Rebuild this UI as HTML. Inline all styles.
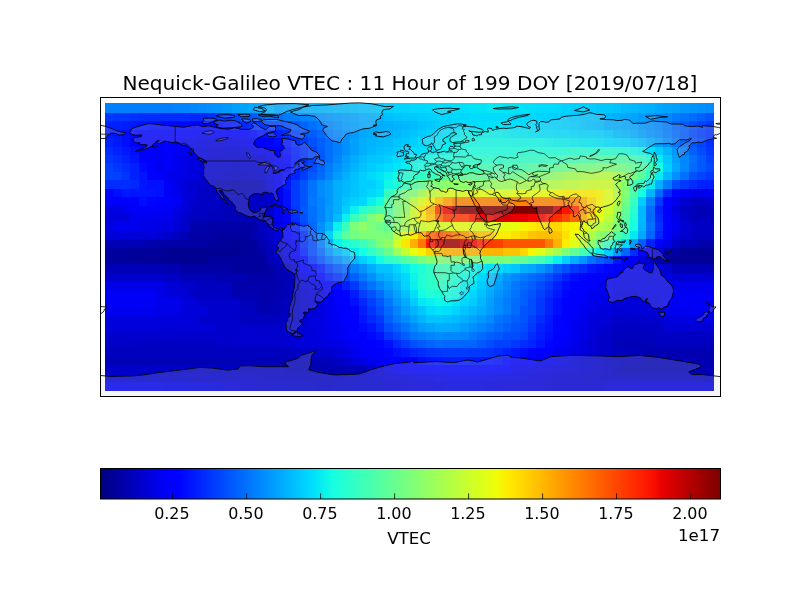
<!DOCTYPE html>
<html><head><meta charset="utf-8"><title>Nequick-Galileo VTEC</title>
<style>
html,body{margin:0;padding:0;background:#fff;}
body{width:800px;height:600px;overflow:hidden;}
svg{display:block;}
svg text{font-family:"DejaVu Sans","Liberation Sans",sans-serif;fill:#000;}
</style></head><body>
<svg width="800" height="600" viewBox="0 0 800 600">
<defs>
<linearGradient id="jet" x1="0" y1="0" x2="1" y2="0"><stop offset="0%" stop-color="#000080"/><stop offset="1.56%" stop-color="#000092"/><stop offset="3.12%" stop-color="#0000a4"/><stop offset="4.69%" stop-color="#0000b6"/><stop offset="6.25%" stop-color="#0000c8"/><stop offset="7.81%" stop-color="#0000da"/><stop offset="9.38%" stop-color="#0000ed"/><stop offset="10.94%" stop-color="#0000ff"/><stop offset="12.5%" stop-color="#0000ff"/><stop offset="14.06%" stop-color="#0010ff"/><stop offset="15.62%" stop-color="#0020ff"/><stop offset="17.19%" stop-color="#0030ff"/><stop offset="18.75%" stop-color="#0040ff"/><stop offset="20.31%" stop-color="#0050ff"/><stop offset="21.88%" stop-color="#0060ff"/><stop offset="23.44%" stop-color="#0070ff"/><stop offset="25%" stop-color="#0080ff"/><stop offset="26.56%" stop-color="#0090ff"/><stop offset="28.12%" stop-color="#00a0ff"/><stop offset="29.69%" stop-color="#00b0ff"/><stop offset="31.25%" stop-color="#00c0ff"/><stop offset="32.81%" stop-color="#00d0ff"/><stop offset="34.38%" stop-color="#00e0fb"/><stop offset="35.94%" stop-color="#09f0ee"/><stop offset="37.5%" stop-color="#16ffe1"/><stop offset="39.06%" stop-color="#23ffd4"/><stop offset="40.62%" stop-color="#30ffc7"/><stop offset="42.19%" stop-color="#3cffba"/><stop offset="43.75%" stop-color="#49ffad"/><stop offset="45.31%" stop-color="#56ffa0"/><stop offset="46.88%" stop-color="#63ff94"/><stop offset="48.44%" stop-color="#70ff87"/><stop offset="50%" stop-color="#7dff7a"/><stop offset="51.56%" stop-color="#8aff6d"/><stop offset="53.12%" stop-color="#97ff60"/><stop offset="54.69%" stop-color="#a4ff53"/><stop offset="56.25%" stop-color="#b1ff46"/><stop offset="57.81%" stop-color="#beff39"/><stop offset="59.38%" stop-color="#caff2c"/><stop offset="60.94%" stop-color="#d7ff1f"/><stop offset="62.5%" stop-color="#e4ff13"/><stop offset="64.06%" stop-color="#f1fc06"/><stop offset="65.62%" stop-color="#feed00"/><stop offset="67.19%" stop-color="#ffde00"/><stop offset="68.75%" stop-color="#ffd000"/><stop offset="70.31%" stop-color="#ffc100"/><stop offset="71.88%" stop-color="#ffb200"/><stop offset="73.44%" stop-color="#ffa300"/><stop offset="75%" stop-color="#ff9400"/><stop offset="76.56%" stop-color="#ff8600"/><stop offset="78.12%" stop-color="#ff7700"/><stop offset="79.69%" stop-color="#ff6800"/><stop offset="81.25%" stop-color="#ff5900"/><stop offset="82.81%" stop-color="#ff4a00"/><stop offset="84.38%" stop-color="#ff3b00"/><stop offset="85.94%" stop-color="#ff2d00"/><stop offset="87.5%" stop-color="#ff1e00"/><stop offset="89.06%" stop-color="#fa0f00"/><stop offset="90.62%" stop-color="#e80000"/><stop offset="92.19%" stop-color="#d60000"/><stop offset="93.75%" stop-color="#c40000"/><stop offset="95.31%" stop-color="#b20000"/><stop offset="96.88%" stop-color="#9f0000"/><stop offset="98.44%" stop-color="#8d0000"/><stop offset="100%" stop-color="#800000"/></linearGradient>
<clipPath id="axclip"><rect x="100.5" y="97.5" width="620" height="299"/></clipPath>
</defs>
<rect x="0" y="0" width="800" height="600" fill="#fff"/>
<g shape-rendering="crispEdges">
<rect x="105" y="103.1" width="67.98" height="10.2" fill="#0080ff"/>
<rect x="172.68" y="103.1" width="17.22" height="10.2" fill="#0084ff"/>
<rect x="189.6" y="103.1" width="8.76" height="10.2" fill="#0088ff"/>
<rect x="198.06" y="103.1" width="8.76" height="10.2" fill="#008cff"/>
<rect x="206.52" y="103.1" width="8.76" height="10.2" fill="#0090ff"/>
<rect x="214.98" y="103.1" width="8.76" height="10.2" fill="#0094ff"/>
<rect x="223.44" y="103.1" width="8.76" height="10.2" fill="#0098ff"/>
<rect x="231.9" y="103.1" width="8.76" height="10.2" fill="#00a0ff"/>
<rect x="240.36" y="103.1" width="8.76" height="10.2" fill="#00a4ff"/>
<rect x="248.82" y="103.1" width="8.76" height="10.2" fill="#00a8ff"/>
<rect x="257.28" y="103.1" width="8.76" height="10.2" fill="#00b0ff"/>
<rect x="265.74" y="103.1" width="8.76" height="10.2" fill="#00b4ff"/>
<rect x="274.2" y="103.1" width="8.76" height="10.2" fill="#00a8ff"/>
<rect x="282.66" y="103.1" width="8.76" height="10.2" fill="#00acff"/>
<rect x="291.12" y="103.1" width="17.22" height="10.2" fill="#00b0ff"/>
<rect x="308.04" y="103.1" width="17.22" height="10.2" fill="#00b4ff"/>
<rect x="324.96" y="103.1" width="8.76" height="10.2" fill="#00b8ff"/>
<rect x="333.42" y="103.1" width="17.22" height="10.2" fill="#00bcff"/>
<rect x="350.34" y="103.1" width="8.76" height="10.2" fill="#00c0ff"/>
<rect x="358.8" y="103.1" width="17.22" height="10.2" fill="#00c4ff"/>
<rect x="375.72" y="103.1" width="8.76" height="10.2" fill="#00c8ff"/>
<rect x="384.18" y="103.1" width="8.76" height="10.2" fill="#00d0ff"/>
<rect x="392.64" y="103.1" width="17.22" height="10.2" fill="#00d4ff"/>
<rect x="409.56" y="103.1" width="17.22" height="10.2" fill="#00d8ff"/>
<rect x="426.48" y="103.1" width="25.68" height="10.2" fill="#00dcfe"/>
<rect x="451.86" y="103.1" width="17.22" height="10.2" fill="#00e0fb"/>
<rect x="468.78" y="103.1" width="17.22" height="10.2" fill="#00e4f8"/>
<rect x="485.7" y="103.1" width="17.22" height="10.2" fill="#02e8f4"/>
<rect x="502.62" y="103.1" width="17.22" height="10.2" fill="#00e4f8"/>
<rect x="519.54" y="103.1" width="17.22" height="10.2" fill="#00e0fb"/>
<rect x="536.46" y="103.1" width="17.22" height="10.2" fill="#00dcfe"/>
<rect x="553.38" y="103.1" width="8.76" height="10.2" fill="#00d8ff"/>
<rect x="561.84" y="103.1" width="8.76" height="10.2" fill="#00d4ff"/>
<rect x="570.3" y="103.1" width="17.22" height="10.2" fill="#00d0ff"/>
<rect x="587.22" y="103.1" width="8.76" height="10.2" fill="#00ccff"/>
<rect x="595.68" y="103.1" width="17.22" height="10.2" fill="#00c8ff"/>
<rect x="612.6" y="103.1" width="8.76" height="10.2" fill="#00c4ff"/>
<rect x="621.06" y="103.1" width="8.76" height="10.2" fill="#00bcff"/>
<rect x="629.52" y="103.1" width="8.76" height="10.2" fill="#00b8ff"/>
<rect x="637.98" y="103.1" width="8.76" height="10.2" fill="#00b4ff"/>
<rect x="646.44" y="103.1" width="8.76" height="10.2" fill="#00b0ff"/>
<rect x="654.9" y="103.1" width="8.76" height="10.2" fill="#00a8ff"/>
<rect x="663.36" y="103.1" width="8.76" height="10.2" fill="#00a4ff"/>
<rect x="671.82" y="103.1" width="8.76" height="10.2" fill="#00a0ff"/>
<rect x="680.28" y="103.1" width="8.76" height="10.2" fill="#0098ff"/>
<rect x="688.74" y="103.1" width="8.76" height="10.2" fill="#0094ff"/>
<rect x="697.2" y="103.1" width="8.76" height="10.2" fill="#0090ff"/>
<rect x="705.66" y="103.1" width="8.46" height="10.2" fill="#008cff"/>
<rect x="105" y="113" width="8.76" height="8.71" fill="#0038ff"/>
<rect x="113.46" y="113" width="17.22" height="8.71" fill="#0034ff"/>
<rect x="130.38" y="113" width="8.76" height="8.71" fill="#0030ff"/>
<rect x="138.84" y="113" width="51.06" height="8.71" fill="#002cff"/>
<rect x="189.6" y="113" width="17.22" height="8.71" fill="#0028ff"/>
<rect x="206.52" y="113" width="8.76" height="8.71" fill="#002cff"/>
<rect x="214.98" y="113" width="8.76" height="8.71" fill="#0034ff"/>
<rect x="223.44" y="113" width="8.76" height="8.71" fill="#0038ff"/>
<rect x="231.9" y="113" width="8.76" height="8.71" fill="#0044ff"/>
<rect x="240.36" y="113" width="8.76" height="8.71" fill="#0050ff"/>
<rect x="248.82" y="113" width="8.76" height="8.71" fill="#0058ff"/>
<rect x="257.28" y="113" width="8.76" height="8.71" fill="#0064ff"/>
<rect x="265.74" y="113" width="17.22" height="8.71" fill="#0070ff"/>
<rect x="282.66" y="113" width="8.76" height="8.71" fill="#0078ff"/>
<rect x="291.12" y="113" width="8.76" height="8.71" fill="#007cff"/>
<rect x="299.58" y="113" width="8.76" height="8.71" fill="#0084ff"/>
<rect x="308.04" y="113" width="8.76" height="8.71" fill="#0088ff"/>
<rect x="316.5" y="113" width="8.76" height="8.71" fill="#0090ff"/>
<rect x="324.96" y="113" width="8.76" height="8.71" fill="#0094ff"/>
<rect x="333.42" y="113" width="8.76" height="8.71" fill="#009cff"/>
<rect x="341.88" y="113" width="8.76" height="8.71" fill="#00a0ff"/>
<rect x="350.34" y="113" width="8.76" height="8.71" fill="#00a4ff"/>
<rect x="358.8" y="113" width="8.76" height="8.71" fill="#00acff"/>
<rect x="367.26" y="113" width="8.76" height="8.71" fill="#00b0ff"/>
<rect x="375.72" y="113" width="8.76" height="8.71" fill="#00b4ff"/>
<rect x="384.18" y="113" width="8.76" height="8.71" fill="#00c0ff"/>
<rect x="392.64" y="113" width="8.76" height="8.71" fill="#00c4ff"/>
<rect x="401.1" y="113" width="17.22" height="8.71" fill="#00c8ff"/>
<rect x="418.02" y="113" width="8.76" height="8.71" fill="#00ccff"/>
<rect x="426.48" y="113" width="8.76" height="8.71" fill="#00d0ff"/>
<rect x="434.94" y="113" width="17.22" height="8.71" fill="#00d4ff"/>
<rect x="451.86" y="113" width="17.22" height="8.71" fill="#00d8ff"/>
<rect x="468.78" y="113" width="42.6" height="8.71" fill="#00dcfe"/>
<rect x="511.08" y="113" width="25.68" height="8.71" fill="#00d8ff"/>
<rect x="536.46" y="113" width="17.22" height="8.71" fill="#00d4ff"/>
<rect x="553.38" y="113" width="8.76" height="8.71" fill="#00d0ff"/>
<rect x="561.84" y="113" width="8.76" height="8.71" fill="#00ccff"/>
<rect x="570.3" y="113" width="8.76" height="8.71" fill="#00c8ff"/>
<rect x="578.76" y="113" width="17.22" height="8.71" fill="#00c4ff"/>
<rect x="595.68" y="113" width="8.76" height="8.71" fill="#00c0ff"/>
<rect x="604.14" y="113" width="8.76" height="8.71" fill="#00b4ff"/>
<rect x="612.6" y="113" width="8.76" height="8.71" fill="#00b0ff"/>
<rect x="621.06" y="113" width="8.76" height="8.71" fill="#00a8ff"/>
<rect x="629.52" y="113" width="8.76" height="8.71" fill="#00a4ff"/>
<rect x="637.98" y="113" width="8.76" height="8.71" fill="#009cff"/>
<rect x="646.44" y="113" width="8.76" height="8.71" fill="#0098ff"/>
<rect x="654.9" y="113" width="8.76" height="8.71" fill="#0090ff"/>
<rect x="663.36" y="113" width="8.76" height="8.71" fill="#0088ff"/>
<rect x="671.82" y="113" width="8.76" height="8.71" fill="#007cff"/>
<rect x="680.28" y="113" width="8.76" height="8.71" fill="#0074ff"/>
<rect x="688.74" y="113" width="8.76" height="8.71" fill="#006cff"/>
<rect x="697.2" y="113" width="8.76" height="8.71" fill="#0060ff"/>
<rect x="705.66" y="113" width="8.46" height="8.71" fill="#0054ff"/>
<rect x="105" y="121.41" width="17.22" height="8.71" fill="#0020ff"/>
<rect x="121.92" y="121.41" width="8.76" height="8.71" fill="#001cff"/>
<rect x="130.38" y="121.41" width="8.76" height="8.71" fill="#0018ff"/>
<rect x="138.84" y="121.41" width="8.76" height="8.71" fill="#0014ff"/>
<rect x="147.3" y="121.41" width="8.76" height="8.71" fill="#0010ff"/>
<rect x="155.76" y="121.41" width="8.76" height="8.71" fill="#000cff"/>
<rect x="164.22" y="121.41" width="25.68" height="8.71" fill="#0008ff"/>
<rect x="189.6" y="121.41" width="17.22" height="8.71" fill="#0004ff"/>
<rect x="206.52" y="121.41" width="8.76" height="8.71" fill="#0008ff"/>
<rect x="214.98" y="121.41" width="8.76" height="8.71" fill="#000cff"/>
<rect x="223.44" y="121.41" width="8.76" height="8.71" fill="#0014ff"/>
<rect x="231.9" y="121.41" width="8.76" height="8.71" fill="#001cff"/>
<rect x="240.36" y="121.41" width="8.76" height="8.71" fill="#0028ff"/>
<rect x="248.82" y="121.41" width="8.76" height="8.71" fill="#0034ff"/>
<rect x="257.28" y="121.41" width="8.76" height="8.71" fill="#0038ff"/>
<rect x="265.74" y="121.41" width="17.22" height="8.71" fill="#0040ff"/>
<rect x="282.66" y="121.41" width="8.76" height="8.71" fill="#004cff"/>
<rect x="291.12" y="121.41" width="8.76" height="8.71" fill="#0058ff"/>
<rect x="299.58" y="121.41" width="8.76" height="8.71" fill="#0064ff"/>
<rect x="308.04" y="121.41" width="8.76" height="8.71" fill="#0070ff"/>
<rect x="316.5" y="121.41" width="8.76" height="8.71" fill="#007cff"/>
<rect x="324.96" y="121.41" width="8.76" height="8.71" fill="#0088ff"/>
<rect x="333.42" y="121.41" width="8.76" height="8.71" fill="#0090ff"/>
<rect x="341.88" y="121.41" width="8.76" height="8.71" fill="#009cff"/>
<rect x="350.34" y="121.41" width="8.76" height="8.71" fill="#00a0ff"/>
<rect x="358.8" y="121.41" width="8.76" height="8.71" fill="#00a8ff"/>
<rect x="367.26" y="121.41" width="17.22" height="8.71" fill="#00acff"/>
<rect x="384.18" y="121.41" width="8.76" height="8.71" fill="#00b0ff"/>
<rect x="392.64" y="121.41" width="8.76" height="8.71" fill="#00b4ff"/>
<rect x="401.1" y="121.41" width="8.76" height="8.71" fill="#00b8ff"/>
<rect x="409.56" y="121.41" width="8.76" height="8.71" fill="#00bcff"/>
<rect x="418.02" y="121.41" width="8.76" height="8.71" fill="#00c4ff"/>
<rect x="426.48" y="121.41" width="8.76" height="8.71" fill="#00c8ff"/>
<rect x="434.94" y="121.41" width="8.76" height="8.71" fill="#00d0ff"/>
<rect x="443.4" y="121.41" width="8.76" height="8.71" fill="#00d4ff"/>
<rect x="451.86" y="121.41" width="8.76" height="8.71" fill="#00d8ff"/>
<rect x="460.32" y="121.41" width="17.22" height="8.71" fill="#00dcfe"/>
<rect x="477.24" y="121.41" width="8.76" height="8.71" fill="#00e0fb"/>
<rect x="485.7" y="121.41" width="17.22" height="8.71" fill="#00e4f8"/>
<rect x="502.62" y="121.41" width="17.22" height="8.71" fill="#00e0fb"/>
<rect x="519.54" y="121.41" width="17.22" height="8.71" fill="#00dcfe"/>
<rect x="536.46" y="121.41" width="8.76" height="8.71" fill="#00d8ff"/>
<rect x="544.92" y="121.41" width="17.22" height="8.71" fill="#00d4ff"/>
<rect x="561.84" y="121.41" width="8.76" height="8.71" fill="#00d0ff"/>
<rect x="570.3" y="121.41" width="8.76" height="8.71" fill="#00ccff"/>
<rect x="578.76" y="121.41" width="8.76" height="8.71" fill="#00c4ff"/>
<rect x="587.22" y="121.41" width="8.76" height="8.71" fill="#00c0ff"/>
<rect x="595.68" y="121.41" width="8.76" height="8.71" fill="#00bcff"/>
<rect x="604.14" y="121.41" width="8.76" height="8.71" fill="#00b0ff"/>
<rect x="612.6" y="121.41" width="8.76" height="8.71" fill="#00acff"/>
<rect x="621.06" y="121.41" width="8.76" height="8.71" fill="#00a8ff"/>
<rect x="629.52" y="121.41" width="8.76" height="8.71" fill="#00a4ff"/>
<rect x="637.98" y="121.41" width="8.76" height="8.71" fill="#0098ff"/>
<rect x="646.44" y="121.41" width="8.76" height="8.71" fill="#0090ff"/>
<rect x="654.9" y="121.41" width="8.76" height="8.71" fill="#0088ff"/>
<rect x="663.36" y="121.41" width="8.76" height="8.71" fill="#0078ff"/>
<rect x="671.82" y="121.41" width="8.76" height="8.71" fill="#0068ff"/>
<rect x="680.28" y="121.41" width="8.76" height="8.71" fill="#0060ff"/>
<rect x="688.74" y="121.41" width="8.76" height="8.71" fill="#0050ff"/>
<rect x="697.2" y="121.41" width="8.76" height="8.71" fill="#0044ff"/>
<rect x="705.66" y="121.41" width="8.46" height="8.71" fill="#0038ff"/>
<rect x="105" y="129.82" width="8.76" height="8.71" fill="#0018ff"/>
<rect x="113.46" y="129.82" width="8.76" height="8.71" fill="#0014ff"/>
<rect x="121.92" y="129.82" width="8.76" height="8.71" fill="#000cff"/>
<rect x="130.38" y="129.82" width="8.76" height="8.71" fill="#0008ff"/>
<rect x="138.84" y="129.82" width="59.52" height="8.71" fill="#0000ff"/>
<rect x="198.06" y="129.82" width="8.76" height="8.71" fill="#0000f6"/>
<rect x="206.52" y="129.82" width="8.76" height="8.71" fill="#0000fa"/>
<rect x="214.98" y="129.82" width="34.14" height="8.71" fill="#0000ff"/>
<rect x="248.82" y="129.82" width="8.76" height="8.71" fill="#0008ff"/>
<rect x="257.28" y="129.82" width="8.76" height="8.71" fill="#0014ff"/>
<rect x="265.74" y="129.82" width="8.76" height="8.71" fill="#001cff"/>
<rect x="274.2" y="129.82" width="8.76" height="8.71" fill="#0020ff"/>
<rect x="282.66" y="129.82" width="8.76" height="8.71" fill="#0030ff"/>
<rect x="291.12" y="129.82" width="8.76" height="8.71" fill="#0044ff"/>
<rect x="299.58" y="129.82" width="8.76" height="8.71" fill="#0050ff"/>
<rect x="308.04" y="129.82" width="8.76" height="8.71" fill="#005cff"/>
<rect x="316.5" y="129.82" width="8.76" height="8.71" fill="#006cff"/>
<rect x="324.96" y="129.82" width="8.76" height="8.71" fill="#007cff"/>
<rect x="333.42" y="129.82" width="8.76" height="8.71" fill="#0088ff"/>
<rect x="341.88" y="129.82" width="8.76" height="8.71" fill="#0090ff"/>
<rect x="350.34" y="129.82" width="8.76" height="8.71" fill="#009cff"/>
<rect x="358.8" y="129.82" width="8.76" height="8.71" fill="#00a8ff"/>
<rect x="367.26" y="129.82" width="17.22" height="8.71" fill="#00acff"/>
<rect x="384.18" y="129.82" width="8.76" height="8.71" fill="#00b0ff"/>
<rect x="392.64" y="129.82" width="8.76" height="8.71" fill="#00b8ff"/>
<rect x="401.1" y="129.82" width="8.76" height="8.71" fill="#00c0ff"/>
<rect x="409.56" y="129.82" width="8.76" height="8.71" fill="#00c4ff"/>
<rect x="418.02" y="129.82" width="8.76" height="8.71" fill="#00ccff"/>
<rect x="426.48" y="129.82" width="8.76" height="8.71" fill="#00d4ff"/>
<rect x="434.94" y="129.82" width="8.76" height="8.71" fill="#00dcfe"/>
<rect x="443.4" y="129.82" width="8.76" height="8.71" fill="#00e0fb"/>
<rect x="451.86" y="129.82" width="8.76" height="8.71" fill="#02e8f4"/>
<rect x="460.32" y="129.82" width="42.6" height="8.71" fill="#09f0ee"/>
<rect x="502.62" y="129.82" width="8.76" height="8.71" fill="#06ecf1"/>
<rect x="511.08" y="129.82" width="17.22" height="8.71" fill="#02e8f4"/>
<rect x="528" y="129.82" width="8.76" height="8.71" fill="#00e4f8"/>
<rect x="536.46" y="129.82" width="17.22" height="8.71" fill="#00e0fb"/>
<rect x="553.38" y="129.82" width="17.22" height="8.71" fill="#00dcfe"/>
<rect x="570.3" y="129.82" width="8.76" height="8.71" fill="#00d8ff"/>
<rect x="578.76" y="129.82" width="17.22" height="8.71" fill="#00d4ff"/>
<rect x="595.68" y="129.82" width="8.76" height="8.71" fill="#00d0ff"/>
<rect x="604.14" y="129.82" width="8.76" height="8.71" fill="#00c8ff"/>
<rect x="612.6" y="129.82" width="8.76" height="8.71" fill="#00bcff"/>
<rect x="621.06" y="129.82" width="8.76" height="8.71" fill="#00b4ff"/>
<rect x="629.52" y="129.82" width="8.76" height="8.71" fill="#00acff"/>
<rect x="637.98" y="129.82" width="8.76" height="8.71" fill="#00a0ff"/>
<rect x="646.44" y="129.82" width="8.76" height="8.71" fill="#0094ff"/>
<rect x="654.9" y="129.82" width="8.76" height="8.71" fill="#008cff"/>
<rect x="663.36" y="129.82" width="8.76" height="8.71" fill="#007cff"/>
<rect x="671.82" y="129.82" width="8.76" height="8.71" fill="#006cff"/>
<rect x="680.28" y="129.82" width="8.76" height="8.71" fill="#005cff"/>
<rect x="688.74" y="129.82" width="8.76" height="8.71" fill="#0048ff"/>
<rect x="697.2" y="129.82" width="8.76" height="8.71" fill="#003cff"/>
<rect x="705.66" y="129.82" width="8.46" height="8.71" fill="#0030ff"/>
<rect x="105" y="138.23" width="8.76" height="8.71" fill="#0020ff"/>
<rect x="113.46" y="138.23" width="8.76" height="8.71" fill="#0018ff"/>
<rect x="121.92" y="138.23" width="8.76" height="8.71" fill="#000cff"/>
<rect x="130.38" y="138.23" width="42.6" height="8.71" fill="#0000ff"/>
<rect x="172.68" y="138.23" width="8.76" height="8.71" fill="#0000fa"/>
<rect x="181.14" y="138.23" width="8.76" height="8.71" fill="#0000f6"/>
<rect x="189.6" y="138.23" width="8.76" height="8.71" fill="#0000ed"/>
<rect x="198.06" y="138.23" width="8.76" height="8.71" fill="#0000e8"/>
<rect x="206.52" y="138.23" width="17.22" height="8.71" fill="#0000e3"/>
<rect x="223.44" y="138.23" width="17.22" height="8.71" fill="#0000e8"/>
<rect x="240.36" y="138.23" width="8.76" height="8.71" fill="#0000f1"/>
<rect x="248.82" y="138.23" width="8.76" height="8.71" fill="#0000f6"/>
<rect x="257.28" y="138.23" width="8.76" height="8.71" fill="#0000ff"/>
<rect x="265.74" y="138.23" width="8.76" height="8.71" fill="#0004ff"/>
<rect x="274.2" y="138.23" width="8.76" height="8.71" fill="#0008ff"/>
<rect x="282.66" y="138.23" width="8.76" height="8.71" fill="#0018ff"/>
<rect x="291.12" y="138.23" width="8.76" height="8.71" fill="#002cff"/>
<rect x="299.58" y="138.23" width="8.76" height="8.71" fill="#003cff"/>
<rect x="308.04" y="138.23" width="8.76" height="8.71" fill="#0050ff"/>
<rect x="316.5" y="138.23" width="8.76" height="8.71" fill="#0060ff"/>
<rect x="324.96" y="138.23" width="8.76" height="8.71" fill="#0070ff"/>
<rect x="333.42" y="138.23" width="8.76" height="8.71" fill="#0080ff"/>
<rect x="341.88" y="138.23" width="8.76" height="8.71" fill="#0090ff"/>
<rect x="350.34" y="138.23" width="8.76" height="8.71" fill="#00a0ff"/>
<rect x="358.8" y="138.23" width="8.76" height="8.71" fill="#00b0ff"/>
<rect x="367.26" y="138.23" width="8.76" height="8.71" fill="#00b4ff"/>
<rect x="375.72" y="138.23" width="8.76" height="8.71" fill="#00b8ff"/>
<rect x="384.18" y="138.23" width="8.76" height="8.71" fill="#00bcff"/>
<rect x="392.64" y="138.23" width="8.76" height="8.71" fill="#00c4ff"/>
<rect x="401.1" y="138.23" width="8.76" height="8.71" fill="#00c8ff"/>
<rect x="409.56" y="138.23" width="8.76" height="8.71" fill="#00d0ff"/>
<rect x="418.02" y="138.23" width="8.76" height="8.71" fill="#00d8ff"/>
<rect x="426.48" y="138.23" width="8.76" height="8.71" fill="#00dcfe"/>
<rect x="434.94" y="138.23" width="8.76" height="8.71" fill="#00e4f8"/>
<rect x="443.4" y="138.23" width="8.76" height="8.71" fill="#06ecf1"/>
<rect x="451.86" y="138.23" width="8.76" height="8.71" fill="#0cf4eb"/>
<rect x="460.32" y="138.23" width="84.9" height="8.71" fill="#0ff8e7"/>
<rect x="544.92" y="138.23" width="8.76" height="8.71" fill="#0cf4eb"/>
<rect x="553.38" y="138.23" width="17.22" height="8.71" fill="#09f0ee"/>
<rect x="570.3" y="138.23" width="8.76" height="8.71" fill="#06ecf1"/>
<rect x="578.76" y="138.23" width="17.22" height="8.71" fill="#02e8f4"/>
<rect x="595.68" y="138.23" width="8.76" height="8.71" fill="#00e4f8"/>
<rect x="604.14" y="138.23" width="8.76" height="8.71" fill="#00dcfe"/>
<rect x="612.6" y="138.23" width="8.76" height="8.71" fill="#00d8ff"/>
<rect x="621.06" y="138.23" width="8.76" height="8.71" fill="#00d4ff"/>
<rect x="629.52" y="138.23" width="8.76" height="8.71" fill="#00c8ff"/>
<rect x="637.98" y="138.23" width="8.76" height="8.71" fill="#00c0ff"/>
<rect x="646.44" y="138.23" width="8.76" height="8.71" fill="#00b0ff"/>
<rect x="654.9" y="138.23" width="8.76" height="8.71" fill="#00a0ff"/>
<rect x="663.36" y="138.23" width="8.76" height="8.71" fill="#008cff"/>
<rect x="671.82" y="138.23" width="8.76" height="8.71" fill="#0078ff"/>
<rect x="680.28" y="138.23" width="8.76" height="8.71" fill="#0068ff"/>
<rect x="688.74" y="138.23" width="8.76" height="8.71" fill="#0054ff"/>
<rect x="697.2" y="138.23" width="8.76" height="8.71" fill="#0044ff"/>
<rect x="705.66" y="138.23" width="8.46" height="8.71" fill="#0030ff"/>
<rect x="105" y="146.64" width="8.76" height="8.71" fill="#002cff"/>
<rect x="113.46" y="146.64" width="8.76" height="8.71" fill="#0020ff"/>
<rect x="121.92" y="146.64" width="8.76" height="8.71" fill="#0018ff"/>
<rect x="130.38" y="146.64" width="8.76" height="8.71" fill="#000cff"/>
<rect x="138.84" y="146.64" width="17.22" height="8.71" fill="#0000ff"/>
<rect x="155.76" y="146.64" width="8.76" height="8.71" fill="#0000f6"/>
<rect x="164.22" y="146.64" width="8.76" height="8.71" fill="#0000ff"/>
<rect x="172.68" y="146.64" width="8.76" height="8.71" fill="#0000f6"/>
<rect x="181.14" y="146.64" width="8.76" height="8.71" fill="#0000f1"/>
<rect x="189.6" y="146.64" width="8.76" height="8.71" fill="#0000e8"/>
<rect x="198.06" y="146.64" width="8.76" height="8.71" fill="#0000df"/>
<rect x="206.52" y="146.64" width="17.22" height="8.71" fill="#0000da"/>
<rect x="223.44" y="146.64" width="17.22" height="8.71" fill="#0000d6"/>
<rect x="240.36" y="146.64" width="8.76" height="8.71" fill="#0000da"/>
<rect x="248.82" y="146.64" width="8.76" height="8.71" fill="#0000e3"/>
<rect x="257.28" y="146.64" width="8.76" height="8.71" fill="#0000ed"/>
<rect x="265.74" y="146.64" width="8.76" height="8.71" fill="#0000f6"/>
<rect x="274.2" y="146.64" width="8.76" height="8.71" fill="#0000ff"/>
<rect x="282.66" y="146.64" width="8.76" height="8.71" fill="#000cff"/>
<rect x="291.12" y="146.64" width="8.76" height="8.71" fill="#0020ff"/>
<rect x="299.58" y="146.64" width="8.76" height="8.71" fill="#0030ff"/>
<rect x="308.04" y="146.64" width="8.76" height="8.71" fill="#0044ff"/>
<rect x="316.5" y="146.64" width="8.76" height="8.71" fill="#005cff"/>
<rect x="324.96" y="146.64" width="8.76" height="8.71" fill="#0070ff"/>
<rect x="333.42" y="146.64" width="8.76" height="8.71" fill="#0080ff"/>
<rect x="341.88" y="146.64" width="8.76" height="8.71" fill="#0090ff"/>
<rect x="350.34" y="146.64" width="8.76" height="8.71" fill="#00a0ff"/>
<rect x="358.8" y="146.64" width="8.76" height="8.71" fill="#00b0ff"/>
<rect x="367.26" y="146.64" width="8.76" height="8.71" fill="#00b8ff"/>
<rect x="375.72" y="146.64" width="8.76" height="8.71" fill="#00c0ff"/>
<rect x="384.18" y="146.64" width="8.76" height="8.71" fill="#00c4ff"/>
<rect x="392.64" y="146.64" width="8.76" height="8.71" fill="#00ccff"/>
<rect x="401.1" y="146.64" width="8.76" height="8.71" fill="#00d4ff"/>
<rect x="409.56" y="146.64" width="8.76" height="8.71" fill="#00dcfe"/>
<rect x="418.02" y="146.64" width="8.76" height="8.71" fill="#00e0fb"/>
<rect x="426.48" y="146.64" width="8.76" height="8.71" fill="#02e8f4"/>
<rect x="434.94" y="146.64" width="8.76" height="8.71" fill="#09f0ee"/>
<rect x="443.4" y="146.64" width="8.76" height="8.71" fill="#0cf4eb"/>
<rect x="451.86" y="146.64" width="8.76" height="8.71" fill="#13fce4"/>
<rect x="460.32" y="146.64" width="51.06" height="8.71" fill="#19ffde"/>
<rect x="511.08" y="146.64" width="8.76" height="8.71" fill="#1cffdb"/>
<rect x="519.54" y="146.64" width="51.06" height="8.71" fill="#1fffd7"/>
<rect x="570.3" y="146.64" width="8.76" height="8.71" fill="#26ffd1"/>
<rect x="578.76" y="146.64" width="34.14" height="8.71" fill="#29ffce"/>
<rect x="612.6" y="146.64" width="8.76" height="8.71" fill="#23ffd4"/>
<rect x="621.06" y="146.64" width="8.76" height="8.71" fill="#1cffdb"/>
<rect x="629.52" y="146.64" width="8.76" height="8.71" fill="#13fce4"/>
<rect x="637.98" y="146.64" width="8.76" height="8.71" fill="#0cf4eb"/>
<rect x="646.44" y="146.64" width="8.76" height="8.71" fill="#00e0fb"/>
<rect x="654.9" y="146.64" width="8.76" height="8.71" fill="#00ccff"/>
<rect x="663.36" y="146.64" width="8.76" height="8.71" fill="#00b4ff"/>
<rect x="671.82" y="146.64" width="8.76" height="8.71" fill="#0098ff"/>
<rect x="680.28" y="146.64" width="8.76" height="8.71" fill="#007cff"/>
<rect x="688.74" y="146.64" width="8.76" height="8.71" fill="#0060ff"/>
<rect x="697.2" y="146.64" width="8.76" height="8.71" fill="#004cff"/>
<rect x="705.66" y="146.64" width="8.46" height="8.71" fill="#0038ff"/>
<rect x="105" y="155.05" width="8.76" height="8.71" fill="#0034ff"/>
<rect x="113.46" y="155.05" width="8.76" height="8.71" fill="#002cff"/>
<rect x="121.92" y="155.05" width="8.76" height="8.71" fill="#0020ff"/>
<rect x="130.38" y="155.05" width="8.76" height="8.71" fill="#0014ff"/>
<rect x="138.84" y="155.05" width="17.22" height="8.71" fill="#0000ff"/>
<rect x="155.76" y="155.05" width="8.76" height="8.71" fill="#0000f6"/>
<rect x="164.22" y="155.05" width="8.76" height="8.71" fill="#0000fa"/>
<rect x="172.68" y="155.05" width="8.76" height="8.71" fill="#0000f1"/>
<rect x="181.14" y="155.05" width="8.76" height="8.71" fill="#0000e8"/>
<rect x="189.6" y="155.05" width="8.76" height="8.71" fill="#0000df"/>
<rect x="198.06" y="155.05" width="8.76" height="8.71" fill="#0000da"/>
<rect x="206.52" y="155.05" width="8.76" height="8.71" fill="#0000d6"/>
<rect x="214.98" y="155.05" width="17.22" height="8.71" fill="#0000d1"/>
<rect x="231.9" y="155.05" width="8.76" height="8.71" fill="#0000cd"/>
<rect x="240.36" y="155.05" width="17.22" height="8.71" fill="#0000d1"/>
<rect x="257.28" y="155.05" width="8.76" height="8.71" fill="#0000d6"/>
<rect x="265.74" y="155.05" width="8.76" height="8.71" fill="#0000e8"/>
<rect x="274.2" y="155.05" width="8.76" height="8.71" fill="#0000fa"/>
<rect x="282.66" y="155.05" width="8.76" height="8.71" fill="#0004ff"/>
<rect x="291.12" y="155.05" width="8.76" height="8.71" fill="#001cff"/>
<rect x="299.58" y="155.05" width="8.76" height="8.71" fill="#0030ff"/>
<rect x="308.04" y="155.05" width="8.76" height="8.71" fill="#0044ff"/>
<rect x="316.5" y="155.05" width="8.76" height="8.71" fill="#0058ff"/>
<rect x="324.96" y="155.05" width="8.76" height="8.71" fill="#0070ff"/>
<rect x="333.42" y="155.05" width="8.76" height="8.71" fill="#0084ff"/>
<rect x="341.88" y="155.05" width="8.76" height="8.71" fill="#009cff"/>
<rect x="350.34" y="155.05" width="8.76" height="8.71" fill="#00acff"/>
<rect x="358.8" y="155.05" width="8.76" height="8.71" fill="#00bcff"/>
<rect x="367.26" y="155.05" width="8.76" height="8.71" fill="#00c4ff"/>
<rect x="375.72" y="155.05" width="8.76" height="8.71" fill="#00c8ff"/>
<rect x="384.18" y="155.05" width="8.76" height="8.71" fill="#00d0ff"/>
<rect x="392.64" y="155.05" width="8.76" height="8.71" fill="#00dcfe"/>
<rect x="401.1" y="155.05" width="8.76" height="8.71" fill="#00e4f8"/>
<rect x="409.56" y="155.05" width="8.76" height="8.71" fill="#09f0ee"/>
<rect x="418.02" y="155.05" width="8.76" height="8.71" fill="#0cf4eb"/>
<rect x="426.48" y="155.05" width="8.76" height="8.71" fill="#13fce4"/>
<rect x="434.94" y="155.05" width="8.76" height="8.71" fill="#19ffde"/>
<rect x="443.4" y="155.05" width="8.76" height="8.71" fill="#1cffdb"/>
<rect x="451.86" y="155.05" width="8.76" height="8.71" fill="#23ffd4"/>
<rect x="460.32" y="155.05" width="42.6" height="8.71" fill="#29ffce"/>
<rect x="502.62" y="155.05" width="17.22" height="8.71" fill="#2cffca"/>
<rect x="519.54" y="155.05" width="17.22" height="8.71" fill="#30ffc7"/>
<rect x="536.46" y="155.05" width="8.76" height="8.71" fill="#33ffc4"/>
<rect x="544.92" y="155.05" width="8.76" height="8.71" fill="#36ffc1"/>
<rect x="553.38" y="155.05" width="8.76" height="8.71" fill="#39ffbe"/>
<rect x="561.84" y="155.05" width="8.76" height="8.71" fill="#40ffb7"/>
<rect x="570.3" y="155.05" width="8.76" height="8.71" fill="#43ffb4"/>
<rect x="578.76" y="155.05" width="8.76" height="8.71" fill="#49ffad"/>
<rect x="587.22" y="155.05" width="8.76" height="8.71" fill="#4dffaa"/>
<rect x="595.68" y="155.05" width="17.22" height="8.71" fill="#53ffa4"/>
<rect x="612.6" y="155.05" width="17.22" height="8.71" fill="#50ffa7"/>
<rect x="629.52" y="155.05" width="8.76" height="8.71" fill="#43ffb4"/>
<rect x="637.98" y="155.05" width="8.76" height="8.71" fill="#36ffc1"/>
<rect x="646.44" y="155.05" width="8.76" height="8.71" fill="#23ffd4"/>
<rect x="654.9" y="155.05" width="8.76" height="8.71" fill="#06ecf1"/>
<rect x="663.36" y="155.05" width="8.76" height="8.71" fill="#00c8ff"/>
<rect x="671.82" y="155.05" width="8.76" height="8.71" fill="#00a0ff"/>
<rect x="680.28" y="155.05" width="8.76" height="8.71" fill="#0088ff"/>
<rect x="688.74" y="155.05" width="8.76" height="8.71" fill="#0070ff"/>
<rect x="697.2" y="155.05" width="8.76" height="8.71" fill="#0058ff"/>
<rect x="705.66" y="155.05" width="8.46" height="8.71" fill="#0040ff"/>
<rect x="105" y="163.46" width="8.76" height="8.71" fill="#0040ff"/>
<rect x="113.46" y="163.46" width="8.76" height="8.71" fill="#0034ff"/>
<rect x="121.92" y="163.46" width="8.76" height="8.71" fill="#002cff"/>
<rect x="130.38" y="163.46" width="8.76" height="8.71" fill="#0020ff"/>
<rect x="138.84" y="163.46" width="8.76" height="8.71" fill="#0008ff"/>
<rect x="147.3" y="163.46" width="8.76" height="8.71" fill="#0000ff"/>
<rect x="155.76" y="163.46" width="8.76" height="8.71" fill="#0000f1"/>
<rect x="164.22" y="163.46" width="8.76" height="8.71" fill="#0000fa"/>
<rect x="172.68" y="163.46" width="8.76" height="8.71" fill="#0000f1"/>
<rect x="181.14" y="163.46" width="8.76" height="8.71" fill="#0000e3"/>
<rect x="189.6" y="163.46" width="8.76" height="8.71" fill="#0000df"/>
<rect x="198.06" y="163.46" width="8.76" height="8.71" fill="#0000da"/>
<rect x="206.52" y="163.46" width="8.76" height="8.71" fill="#0000d1"/>
<rect x="214.98" y="163.46" width="17.22" height="8.71" fill="#0000cd"/>
<rect x="231.9" y="163.46" width="8.76" height="8.71" fill="#0000c8"/>
<rect x="240.36" y="163.46" width="17.22" height="8.71" fill="#0000cd"/>
<rect x="257.28" y="163.46" width="8.76" height="8.71" fill="#0000d1"/>
<rect x="265.74" y="163.46" width="8.76" height="8.71" fill="#0000e3"/>
<rect x="274.2" y="163.46" width="8.76" height="8.71" fill="#0000f6"/>
<rect x="282.66" y="163.46" width="8.76" height="8.71" fill="#0000ff"/>
<rect x="291.12" y="163.46" width="8.76" height="8.71" fill="#001cff"/>
<rect x="299.58" y="163.46" width="8.76" height="8.71" fill="#0034ff"/>
<rect x="308.04" y="163.46" width="8.76" height="8.71" fill="#004cff"/>
<rect x="316.5" y="163.46" width="8.76" height="8.71" fill="#0064ff"/>
<rect x="324.96" y="163.46" width="8.76" height="8.71" fill="#007cff"/>
<rect x="333.42" y="163.46" width="8.76" height="8.71" fill="#0090ff"/>
<rect x="341.88" y="163.46" width="8.76" height="8.71" fill="#00a4ff"/>
<rect x="350.34" y="163.46" width="8.76" height="8.71" fill="#00b4ff"/>
<rect x="358.8" y="163.46" width="8.76" height="8.71" fill="#00c4ff"/>
<rect x="367.26" y="163.46" width="8.76" height="8.71" fill="#00ccff"/>
<rect x="375.72" y="163.46" width="8.76" height="8.71" fill="#00d4ff"/>
<rect x="384.18" y="163.46" width="8.76" height="8.71" fill="#00dcfe"/>
<rect x="392.64" y="163.46" width="8.76" height="8.71" fill="#00e4f8"/>
<rect x="401.1" y="163.46" width="8.76" height="8.71" fill="#09f0ee"/>
<rect x="409.56" y="163.46" width="8.76" height="8.71" fill="#0ff8e7"/>
<rect x="418.02" y="163.46" width="8.76" height="8.71" fill="#19ffde"/>
<rect x="426.48" y="163.46" width="8.76" height="8.71" fill="#1fffd7"/>
<rect x="434.94" y="163.46" width="8.76" height="8.71" fill="#29ffce"/>
<rect x="443.4" y="163.46" width="8.76" height="8.71" fill="#30ffc7"/>
<rect x="451.86" y="163.46" width="8.76" height="8.71" fill="#33ffc4"/>
<rect x="460.32" y="163.46" width="8.76" height="8.71" fill="#39ffbe"/>
<rect x="468.78" y="163.46" width="8.76" height="8.71" fill="#3cffba"/>
<rect x="477.24" y="163.46" width="8.76" height="8.71" fill="#40ffb7"/>
<rect x="485.7" y="163.46" width="25.68" height="8.71" fill="#43ffb4"/>
<rect x="511.08" y="163.46" width="8.76" height="8.71" fill="#46ffb1"/>
<rect x="519.54" y="163.46" width="8.76" height="8.71" fill="#49ffad"/>
<rect x="528" y="163.46" width="8.76" height="8.71" fill="#50ffa7"/>
<rect x="536.46" y="163.46" width="8.76" height="8.71" fill="#56ffa0"/>
<rect x="544.92" y="163.46" width="8.76" height="8.71" fill="#5aff9d"/>
<rect x="553.38" y="163.46" width="8.76" height="8.71" fill="#63ff94"/>
<rect x="561.84" y="163.46" width="8.76" height="8.71" fill="#6aff8d"/>
<rect x="570.3" y="163.46" width="8.76" height="8.71" fill="#73ff83"/>
<rect x="578.76" y="163.46" width="8.76" height="8.71" fill="#77ff80"/>
<rect x="587.22" y="163.46" width="8.76" height="8.71" fill="#7aff7d"/>
<rect x="595.68" y="163.46" width="17.22" height="8.71" fill="#7dff7a"/>
<rect x="612.6" y="163.46" width="8.76" height="8.71" fill="#77ff80"/>
<rect x="621.06" y="163.46" width="8.76" height="8.71" fill="#70ff87"/>
<rect x="629.52" y="163.46" width="8.76" height="8.71" fill="#63ff94"/>
<rect x="637.98" y="163.46" width="8.76" height="8.71" fill="#50ffa7"/>
<rect x="646.44" y="163.46" width="8.76" height="8.71" fill="#3cffba"/>
<rect x="654.9" y="163.46" width="8.76" height="8.71" fill="#16ffe1"/>
<rect x="663.36" y="163.46" width="8.76" height="8.71" fill="#00d0ff"/>
<rect x="671.82" y="163.46" width="8.76" height="8.71" fill="#00a8ff"/>
<rect x="680.28" y="163.46" width="8.76" height="8.71" fill="#0088ff"/>
<rect x="688.74" y="163.46" width="8.76" height="8.71" fill="#006cff"/>
<rect x="697.2" y="163.46" width="8.76" height="8.71" fill="#0058ff"/>
<rect x="705.66" y="163.46" width="8.46" height="8.71" fill="#0048ff"/>
<rect x="105" y="171.87" width="17.22" height="8.71" fill="#0040ff"/>
<rect x="121.92" y="171.87" width="8.76" height="8.71" fill="#0034ff"/>
<rect x="130.38" y="171.87" width="8.76" height="8.71" fill="#0020ff"/>
<rect x="138.84" y="171.87" width="8.76" height="8.71" fill="#0014ff"/>
<rect x="147.3" y="171.87" width="17.22" height="8.71" fill="#0000ff"/>
<rect x="164.22" y="171.87" width="8.76" height="8.71" fill="#0000ed"/>
<rect x="172.68" y="171.87" width="8.76" height="8.71" fill="#0000e8"/>
<rect x="181.14" y="171.87" width="8.76" height="8.71" fill="#0000e3"/>
<rect x="189.6" y="171.87" width="8.76" height="8.71" fill="#0000df"/>
<rect x="198.06" y="171.87" width="8.76" height="8.71" fill="#0000d6"/>
<rect x="206.52" y="171.87" width="8.76" height="8.71" fill="#0000d1"/>
<rect x="214.98" y="171.87" width="8.76" height="8.71" fill="#0000cd"/>
<rect x="223.44" y="171.87" width="25.68" height="8.71" fill="#0000c8"/>
<rect x="248.82" y="171.87" width="8.76" height="8.71" fill="#0000cd"/>
<rect x="257.28" y="171.87" width="8.76" height="8.71" fill="#0000d1"/>
<rect x="265.74" y="171.87" width="8.76" height="8.71" fill="#0000e3"/>
<rect x="274.2" y="171.87" width="8.76" height="8.71" fill="#0000f6"/>
<rect x="282.66" y="171.87" width="8.76" height="8.71" fill="#0008ff"/>
<rect x="291.12" y="171.87" width="8.76" height="8.71" fill="#0024ff"/>
<rect x="299.58" y="171.87" width="8.76" height="8.71" fill="#003cff"/>
<rect x="308.04" y="171.87" width="8.76" height="8.71" fill="#0058ff"/>
<rect x="316.5" y="171.87" width="8.76" height="8.71" fill="#006cff"/>
<rect x="324.96" y="171.87" width="8.76" height="8.71" fill="#0084ff"/>
<rect x="333.42" y="171.87" width="8.76" height="8.71" fill="#009cff"/>
<rect x="341.88" y="171.87" width="8.76" height="8.71" fill="#00b0ff"/>
<rect x="350.34" y="171.87" width="8.76" height="8.71" fill="#00c0ff"/>
<rect x="358.8" y="171.87" width="8.76" height="8.71" fill="#00d0ff"/>
<rect x="367.26" y="171.87" width="8.76" height="8.71" fill="#00d8ff"/>
<rect x="375.72" y="171.87" width="8.76" height="8.71" fill="#00e4f8"/>
<rect x="384.18" y="171.87" width="8.76" height="8.71" fill="#09f0ee"/>
<rect x="392.64" y="171.87" width="8.76" height="8.71" fill="#13fce4"/>
<rect x="401.1" y="171.87" width="8.76" height="8.71" fill="#1cffdb"/>
<rect x="409.56" y="171.87" width="8.76" height="8.71" fill="#29ffce"/>
<rect x="418.02" y="171.87" width="8.76" height="8.71" fill="#30ffc7"/>
<rect x="426.48" y="171.87" width="8.76" height="8.71" fill="#39ffbe"/>
<rect x="434.94" y="171.87" width="8.76" height="8.71" fill="#46ffb1"/>
<rect x="443.4" y="171.87" width="8.76" height="8.71" fill="#53ffa4"/>
<rect x="451.86" y="171.87" width="8.76" height="8.71" fill="#56ffa0"/>
<rect x="460.32" y="171.87" width="8.76" height="8.71" fill="#5aff9d"/>
<rect x="468.78" y="171.87" width="8.76" height="8.71" fill="#5dff9a"/>
<rect x="477.24" y="171.87" width="8.76" height="8.71" fill="#60ff97"/>
<rect x="485.7" y="171.87" width="17.22" height="8.71" fill="#63ff94"/>
<rect x="502.62" y="171.87" width="8.76" height="8.71" fill="#6aff8d"/>
<rect x="511.08" y="171.87" width="8.76" height="8.71" fill="#6dff8a"/>
<rect x="519.54" y="171.87" width="8.76" height="8.71" fill="#73ff83"/>
<rect x="528" y="171.87" width="8.76" height="8.71" fill="#7dff7a"/>
<rect x="536.46" y="171.87" width="8.76" height="8.71" fill="#83ff73"/>
<rect x="544.92" y="171.87" width="8.76" height="8.71" fill="#8dff6a"/>
<rect x="553.38" y="171.87" width="8.76" height="8.71" fill="#94ff63"/>
<rect x="561.84" y="171.87" width="8.76" height="8.71" fill="#9dff5a"/>
<rect x="570.3" y="171.87" width="8.76" height="8.71" fill="#a4ff53"/>
<rect x="578.76" y="171.87" width="8.76" height="8.71" fill="#aaff4d"/>
<rect x="587.22" y="171.87" width="8.76" height="8.71" fill="#b1ff46"/>
<rect x="595.68" y="171.87" width="17.22" height="8.71" fill="#b7ff40"/>
<rect x="612.6" y="171.87" width="8.76" height="8.71" fill="#a7ff50"/>
<rect x="621.06" y="171.87" width="8.76" height="8.71" fill="#94ff63"/>
<rect x="629.52" y="171.87" width="8.76" height="8.71" fill="#77ff80"/>
<rect x="637.98" y="171.87" width="8.76" height="8.71" fill="#5dff9a"/>
<rect x="646.44" y="171.87" width="8.76" height="8.71" fill="#30ffc7"/>
<rect x="654.9" y="171.87" width="8.76" height="8.71" fill="#06ecf1"/>
<rect x="663.36" y="171.87" width="8.76" height="8.71" fill="#00b8ff"/>
<rect x="671.82" y="171.87" width="8.76" height="8.71" fill="#0090ff"/>
<rect x="680.28" y="171.87" width="8.76" height="8.71" fill="#0070ff"/>
<rect x="688.74" y="171.87" width="8.76" height="8.71" fill="#0050ff"/>
<rect x="697.2" y="171.87" width="8.76" height="8.71" fill="#0044ff"/>
<rect x="705.66" y="171.87" width="8.46" height="8.71" fill="#0038ff"/>
<rect x="105" y="180.28" width="25.68" height="8.71" fill="#002cff"/>
<rect x="130.38" y="180.28" width="8.76" height="8.71" fill="#0028ff"/>
<rect x="138.84" y="180.28" width="8.76" height="8.71" fill="#0014ff"/>
<rect x="147.3" y="180.28" width="17.22" height="8.71" fill="#0010ff"/>
<rect x="164.22" y="180.28" width="8.76" height="8.71" fill="#0000fa"/>
<rect x="172.68" y="180.28" width="8.76" height="8.71" fill="#0000e8"/>
<rect x="181.14" y="180.28" width="8.76" height="8.71" fill="#0000da"/>
<rect x="189.6" y="180.28" width="8.76" height="8.71" fill="#0000d1"/>
<rect x="198.06" y="180.28" width="8.76" height="8.71" fill="#0000cd"/>
<rect x="206.52" y="180.28" width="8.76" height="8.71" fill="#0000c8"/>
<rect x="214.98" y="180.28" width="17.22" height="8.71" fill="#0000b6"/>
<rect x="231.9" y="180.28" width="8.76" height="8.71" fill="#0000b2"/>
<rect x="240.36" y="180.28" width="17.22" height="8.71" fill="#0000b6"/>
<rect x="257.28" y="180.28" width="8.76" height="8.71" fill="#0000bb"/>
<rect x="265.74" y="180.28" width="8.76" height="8.71" fill="#0000da"/>
<rect x="274.2" y="180.28" width="8.76" height="8.71" fill="#0000f6"/>
<rect x="282.66" y="180.28" width="8.76" height="8.71" fill="#0018ff"/>
<rect x="291.12" y="180.28" width="8.76" height="8.71" fill="#003cff"/>
<rect x="299.58" y="180.28" width="8.76" height="8.71" fill="#0054ff"/>
<rect x="308.04" y="180.28" width="8.76" height="8.71" fill="#0074ff"/>
<rect x="316.5" y="180.28" width="8.76" height="8.71" fill="#008cff"/>
<rect x="324.96" y="180.28" width="8.76" height="8.71" fill="#0098ff"/>
<rect x="333.42" y="180.28" width="8.76" height="8.71" fill="#00b0ff"/>
<rect x="341.88" y="180.28" width="8.76" height="8.71" fill="#00b8ff"/>
<rect x="350.34" y="180.28" width="8.76" height="8.71" fill="#00c4ff"/>
<rect x="358.8" y="180.28" width="17.22" height="8.71" fill="#00d0ff"/>
<rect x="375.72" y="180.28" width="8.76" height="8.71" fill="#00dcfe"/>
<rect x="384.18" y="180.28" width="8.76" height="8.71" fill="#0ff8e7"/>
<rect x="392.64" y="180.28" width="8.76" height="8.71" fill="#1fffd7"/>
<rect x="401.1" y="180.28" width="8.76" height="8.71" fill="#39ffbe"/>
<rect x="409.56" y="180.28" width="8.76" height="8.71" fill="#53ffa4"/>
<rect x="418.02" y="180.28" width="8.76" height="8.71" fill="#63ff94"/>
<rect x="426.48" y="180.28" width="8.76" height="8.71" fill="#7dff7a"/>
<rect x="434.94" y="180.28" width="8.76" height="8.71" fill="#83ff73"/>
<rect x="443.4" y="180.28" width="42.6" height="8.71" fill="#8dff6a"/>
<rect x="485.7" y="180.28" width="8.76" height="8.71" fill="#94ff63"/>
<rect x="494.16" y="180.28" width="17.22" height="8.71" fill="#9dff5a"/>
<rect x="511.08" y="180.28" width="17.22" height="8.71" fill="#a4ff53"/>
<rect x="528" y="180.28" width="17.22" height="8.71" fill="#adff49"/>
<rect x="544.92" y="180.28" width="17.22" height="8.71" fill="#b4ff43"/>
<rect x="561.84" y="180.28" width="17.22" height="8.71" fill="#beff39"/>
<rect x="578.76" y="180.28" width="8.76" height="8.71" fill="#c7ff30"/>
<rect x="587.22" y="180.28" width="25.68" height="8.71" fill="#ceff29"/>
<rect x="612.6" y="180.28" width="8.76" height="8.71" fill="#a7ff50"/>
<rect x="621.06" y="180.28" width="8.76" height="8.71" fill="#83ff73"/>
<rect x="629.52" y="180.28" width="8.76" height="8.71" fill="#46ffb1"/>
<rect x="637.98" y="180.28" width="8.76" height="8.71" fill="#2cffca"/>
<rect x="646.44" y="180.28" width="8.76" height="8.71" fill="#06ecf1"/>
<rect x="654.9" y="180.28" width="8.76" height="8.71" fill="#00b0ff"/>
<rect x="663.36" y="180.28" width="8.76" height="8.71" fill="#007cff"/>
<rect x="671.82" y="180.28" width="8.76" height="8.71" fill="#004cff"/>
<rect x="680.28" y="180.28" width="8.76" height="8.71" fill="#0038ff"/>
<rect x="688.74" y="180.28" width="8.76" height="8.71" fill="#002cff"/>
<rect x="697.2" y="180.28" width="8.76" height="8.71" fill="#0020ff"/>
<rect x="705.66" y="180.28" width="8.46" height="8.71" fill="#001cff"/>
<rect x="105" y="188.69" width="8.76" height="8.71" fill="#0004ff"/>
<rect x="113.46" y="188.69" width="8.76" height="8.71" fill="#000cff"/>
<rect x="121.92" y="188.69" width="8.76" height="8.71" fill="#0018ff"/>
<rect x="130.38" y="188.69" width="25.68" height="8.71" fill="#0014ff"/>
<rect x="155.76" y="188.69" width="8.76" height="8.71" fill="#0010ff"/>
<rect x="164.22" y="188.69" width="8.76" height="8.71" fill="#0000fa"/>
<rect x="172.68" y="188.69" width="8.76" height="8.71" fill="#0000ed"/>
<rect x="181.14" y="188.69" width="8.76" height="8.71" fill="#0000da"/>
<rect x="189.6" y="188.69" width="8.76" height="8.71" fill="#0000d6"/>
<rect x="198.06" y="188.69" width="8.76" height="8.71" fill="#0000c4"/>
<rect x="206.52" y="188.69" width="8.76" height="8.71" fill="#0000bf"/>
<rect x="214.98" y="188.69" width="17.22" height="8.71" fill="#0000bb"/>
<rect x="231.9" y="188.69" width="8.76" height="8.71" fill="#0000b6"/>
<rect x="240.36" y="188.69" width="17.22" height="8.71" fill="#0000bb"/>
<rect x="257.28" y="188.69" width="8.76" height="8.71" fill="#0000bf"/>
<rect x="265.74" y="188.69" width="8.76" height="8.71" fill="#0000d1"/>
<rect x="274.2" y="188.69" width="8.76" height="8.71" fill="#0000ed"/>
<rect x="282.66" y="188.69" width="8.76" height="8.71" fill="#0010ff"/>
<rect x="291.12" y="188.69" width="8.76" height="8.71" fill="#003cff"/>
<rect x="299.58" y="188.69" width="8.76" height="8.71" fill="#0054ff"/>
<rect x="308.04" y="188.69" width="8.76" height="8.71" fill="#0074ff"/>
<rect x="316.5" y="188.69" width="8.76" height="8.71" fill="#008cff"/>
<rect x="324.96" y="188.69" width="8.76" height="8.71" fill="#0098ff"/>
<rect x="333.42" y="188.69" width="8.76" height="8.71" fill="#00b0ff"/>
<rect x="341.88" y="188.69" width="8.76" height="8.71" fill="#00bcff"/>
<rect x="350.34" y="188.69" width="8.76" height="8.71" fill="#00c4ff"/>
<rect x="358.8" y="188.69" width="8.76" height="8.71" fill="#00d0ff"/>
<rect x="367.26" y="188.69" width="8.76" height="8.71" fill="#00d8ff"/>
<rect x="375.72" y="188.69" width="8.76" height="8.71" fill="#00e4f8"/>
<rect x="384.18" y="188.69" width="8.76" height="8.71" fill="#39ffbe"/>
<rect x="392.64" y="188.69" width="8.76" height="8.71" fill="#53ffa4"/>
<rect x="401.1" y="188.69" width="17.22" height="8.71" fill="#7dff7a"/>
<rect x="418.02" y="188.69" width="8.76" height="8.71" fill="#a4ff53"/>
<rect x="426.48" y="188.69" width="8.76" height="8.71" fill="#beff39"/>
<rect x="434.94" y="188.69" width="8.76" height="8.71" fill="#ceff29"/>
<rect x="443.4" y="188.69" width="25.68" height="8.71" fill="#deff19"/>
<rect x="468.78" y="188.69" width="25.68" height="8.71" fill="#e7ff0f"/>
<rect x="494.16" y="188.69" width="17.22" height="8.71" fill="#deff19"/>
<rect x="511.08" y="188.69" width="25.68" height="8.71" fill="#e7ff0f"/>
<rect x="536.46" y="188.69" width="17.22" height="8.71" fill="#eeff09"/>
<rect x="553.38" y="188.69" width="8.76" height="8.71" fill="#f8f500"/>
<rect x="561.84" y="188.69" width="34.14" height="8.71" fill="#feed00"/>
<rect x="595.68" y="188.69" width="8.76" height="8.71" fill="#f8f500"/>
<rect x="604.14" y="188.69" width="8.76" height="8.71" fill="#e1ff16"/>
<rect x="612.6" y="188.69" width="8.76" height="8.71" fill="#b7ff40"/>
<rect x="621.06" y="188.69" width="8.76" height="8.71" fill="#83ff73"/>
<rect x="629.52" y="188.69" width="8.76" height="8.71" fill="#49ffad"/>
<rect x="637.98" y="188.69" width="8.76" height="8.71" fill="#16ffe1"/>
<rect x="646.44" y="188.69" width="8.76" height="8.71" fill="#00b4ff"/>
<rect x="654.9" y="188.69" width="8.76" height="8.71" fill="#0068ff"/>
<rect x="663.36" y="188.69" width="8.76" height="8.71" fill="#0028ff"/>
<rect x="671.82" y="188.69" width="8.76" height="8.71" fill="#0004ff"/>
<rect x="680.28" y="188.69" width="8.76" height="8.71" fill="#0000fa"/>
<rect x="688.74" y="188.69" width="8.76" height="8.71" fill="#0000ed"/>
<rect x="697.2" y="188.69" width="8.76" height="8.71" fill="#0000e8"/>
<rect x="705.66" y="188.69" width="8.46" height="8.71" fill="#0000f1"/>
<rect x="105" y="197.1" width="34.14" height="8.71" fill="#0000ff"/>
<rect x="138.84" y="197.1" width="8.76" height="8.71" fill="#000cff"/>
<rect x="147.3" y="197.1" width="8.76" height="8.71" fill="#0004ff"/>
<rect x="155.76" y="197.1" width="17.22" height="8.71" fill="#0000ff"/>
<rect x="172.68" y="197.1" width="8.76" height="8.71" fill="#0000f6"/>
<rect x="181.14" y="197.1" width="8.76" height="8.71" fill="#0000df"/>
<rect x="189.6" y="197.1" width="8.76" height="8.71" fill="#0000cd"/>
<rect x="198.06" y="197.1" width="8.76" height="8.71" fill="#0000c8"/>
<rect x="206.52" y="197.1" width="17.22" height="8.71" fill="#0000c4"/>
<rect x="223.44" y="197.1" width="25.68" height="8.71" fill="#0000bf"/>
<rect x="248.82" y="197.1" width="17.22" height="8.71" fill="#0000c4"/>
<rect x="265.74" y="197.1" width="8.76" height="8.71" fill="#0000c8"/>
<rect x="274.2" y="197.1" width="8.76" height="8.71" fill="#0000f1"/>
<rect x="282.66" y="197.1" width="8.76" height="8.71" fill="#0010ff"/>
<rect x="291.12" y="197.1" width="8.76" height="8.71" fill="#003cff"/>
<rect x="299.58" y="197.1" width="8.76" height="8.71" fill="#0054ff"/>
<rect x="308.04" y="197.1" width="8.76" height="8.71" fill="#0078ff"/>
<rect x="316.5" y="197.1" width="8.76" height="8.71" fill="#0084ff"/>
<rect x="324.96" y="197.1" width="8.76" height="8.71" fill="#0098ff"/>
<rect x="333.42" y="197.1" width="8.76" height="8.71" fill="#00b0ff"/>
<rect x="341.88" y="197.1" width="8.76" height="8.71" fill="#00c4ff"/>
<rect x="350.34" y="197.1" width="8.76" height="8.71" fill="#00d0ff"/>
<rect x="358.8" y="197.1" width="8.76" height="8.71" fill="#00d8ff"/>
<rect x="367.26" y="197.1" width="8.76" height="8.71" fill="#09f0ee"/>
<rect x="375.72" y="197.1" width="8.76" height="8.71" fill="#19ffde"/>
<rect x="384.18" y="197.1" width="8.76" height="8.71" fill="#53ffa4"/>
<rect x="392.64" y="197.1" width="8.76" height="8.71" fill="#7dff7a"/>
<rect x="401.1" y="197.1" width="8.76" height="8.71" fill="#8dff6a"/>
<rect x="409.56" y="197.1" width="8.76" height="8.71" fill="#beff39"/>
<rect x="418.02" y="197.1" width="8.76" height="8.71" fill="#deff19"/>
<rect x="426.48" y="197.1" width="8.76" height="8.71" fill="#feed00"/>
<rect x="434.94" y="197.1" width="8.76" height="8.71" fill="#ffc400"/>
<rect x="443.4" y="197.1" width="8.76" height="8.71" fill="#ff9f00"/>
<rect x="451.86" y="197.1" width="118.74" height="8.71" fill="#ff8200"/>
<rect x="570.3" y="197.1" width="8.76" height="8.71" fill="#ff8d00"/>
<rect x="578.76" y="197.1" width="8.76" height="8.71" fill="#ffb200"/>
<rect x="587.22" y="197.1" width="8.76" height="8.71" fill="#ffd700"/>
<rect x="595.68" y="197.1" width="8.76" height="8.71" fill="#f8f500"/>
<rect x="604.14" y="197.1" width="8.76" height="8.71" fill="#e1ff16"/>
<rect x="612.6" y="197.1" width="8.76" height="8.71" fill="#baff3c"/>
<rect x="621.06" y="197.1" width="8.76" height="8.71" fill="#73ff83"/>
<rect x="629.52" y="197.1" width="8.76" height="8.71" fill="#39ffbe"/>
<rect x="637.98" y="197.1" width="8.76" height="8.71" fill="#00ccff"/>
<rect x="646.44" y="197.1" width="8.76" height="8.71" fill="#0080ff"/>
<rect x="654.9" y="197.1" width="8.76" height="8.71" fill="#0038ff"/>
<rect x="663.36" y="197.1" width="8.76" height="8.71" fill="#0000ff"/>
<rect x="671.82" y="197.1" width="8.76" height="8.71" fill="#0000ed"/>
<rect x="680.28" y="197.1" width="8.76" height="8.71" fill="#0000d1"/>
<rect x="688.74" y="197.1" width="17.22" height="8.71" fill="#0000c4"/>
<rect x="705.66" y="197.1" width="8.46" height="8.71" fill="#0000cd"/>
<rect x="105" y="205.51" width="17.22" height="8.71" fill="#0000e3"/>
<rect x="121.92" y="205.51" width="8.76" height="8.71" fill="#0000f1"/>
<rect x="130.38" y="205.51" width="25.68" height="8.71" fill="#0000fa"/>
<rect x="155.76" y="205.51" width="17.22" height="8.71" fill="#0000f6"/>
<rect x="172.68" y="205.51" width="8.76" height="8.71" fill="#0000e3"/>
<rect x="181.14" y="205.51" width="8.76" height="8.71" fill="#0000d6"/>
<rect x="189.6" y="205.51" width="8.76" height="8.71" fill="#0000c8"/>
<rect x="198.06" y="205.51" width="8.76" height="8.71" fill="#0000c4"/>
<rect x="206.52" y="205.51" width="17.22" height="8.71" fill="#0000bf"/>
<rect x="223.44" y="205.51" width="25.68" height="8.71" fill="#0000bb"/>
<rect x="248.82" y="205.51" width="17.22" height="8.71" fill="#0000bf"/>
<rect x="265.74" y="205.51" width="8.76" height="8.71" fill="#0000c4"/>
<rect x="274.2" y="205.51" width="8.76" height="8.71" fill="#0000f6"/>
<rect x="282.66" y="205.51" width="8.76" height="8.71" fill="#000cff"/>
<rect x="291.12" y="205.51" width="8.76" height="8.71" fill="#0038ff"/>
<rect x="299.58" y="205.51" width="8.76" height="8.71" fill="#0058ff"/>
<rect x="308.04" y="205.51" width="8.76" height="8.71" fill="#0070ff"/>
<rect x="316.5" y="205.51" width="8.76" height="8.71" fill="#0084ff"/>
<rect x="324.96" y="205.51" width="8.76" height="8.71" fill="#009cff"/>
<rect x="333.42" y="205.51" width="8.76" height="8.71" fill="#00b0ff"/>
<rect x="341.88" y="205.51" width="8.76" height="8.71" fill="#00d0ff"/>
<rect x="350.34" y="205.51" width="8.76" height="8.71" fill="#09f0ee"/>
<rect x="358.8" y="205.51" width="8.76" height="8.71" fill="#29ffce"/>
<rect x="367.26" y="205.51" width="8.76" height="8.71" fill="#39ffbe"/>
<rect x="375.72" y="205.51" width="8.76" height="8.71" fill="#49ffad"/>
<rect x="384.18" y="205.51" width="8.76" height="8.71" fill="#53ffa4"/>
<rect x="392.64" y="205.51" width="8.76" height="8.71" fill="#7dff7a"/>
<rect x="401.1" y="205.51" width="8.76" height="8.71" fill="#8dff6a"/>
<rect x="409.56" y="205.51" width="8.76" height="8.71" fill="#ceff29"/>
<rect x="418.02" y="205.51" width="8.76" height="8.71" fill="#ffea00"/>
<rect x="426.48" y="205.51" width="8.76" height="8.71" fill="#ffb200"/>
<rect x="434.94" y="205.51" width="8.76" height="8.71" fill="#ff3800"/>
<rect x="443.4" y="205.51" width="8.76" height="8.71" fill="#f10800"/>
<rect x="451.86" y="205.51" width="8.76" height="8.71" fill="#9f0000"/>
<rect x="460.32" y="205.51" width="93.36" height="8.71" fill="#800000"/>
<rect x="553.38" y="205.51" width="8.76" height="8.71" fill="#cd0000"/>
<rect x="561.84" y="205.51" width="8.76" height="8.71" fill="#ff1300"/>
<rect x="570.3" y="205.51" width="8.76" height="8.71" fill="#ff2d00"/>
<rect x="578.76" y="205.51" width="8.76" height="8.71" fill="#ff8d00"/>
<rect x="587.22" y="205.51" width="8.76" height="8.71" fill="#ffc400"/>
<rect x="595.68" y="205.51" width="8.76" height="8.71" fill="#eeff09"/>
<rect x="604.14" y="205.51" width="8.76" height="8.71" fill="#ceff29"/>
<rect x="612.6" y="205.51" width="8.76" height="8.71" fill="#a0ff56"/>
<rect x="621.06" y="205.51" width="8.76" height="8.71" fill="#63ff94"/>
<rect x="629.52" y="205.51" width="8.76" height="8.71" fill="#29ffce"/>
<rect x="637.98" y="205.51" width="8.76" height="8.71" fill="#00b8ff"/>
<rect x="646.44" y="205.51" width="8.76" height="8.71" fill="#006cff"/>
<rect x="654.9" y="205.51" width="8.76" height="8.71" fill="#0020ff"/>
<rect x="663.36" y="205.51" width="8.76" height="8.71" fill="#0000ff"/>
<rect x="671.82" y="205.51" width="8.76" height="8.71" fill="#0000df"/>
<rect x="680.28" y="205.51" width="8.76" height="8.71" fill="#0000c4"/>
<rect x="688.74" y="205.51" width="8.76" height="8.71" fill="#0000bf"/>
<rect x="697.2" y="205.51" width="8.76" height="8.71" fill="#0000b2"/>
<rect x="705.66" y="205.51" width="8.46" height="8.71" fill="#0000bb"/>
<rect x="105" y="213.92" width="25.68" height="8.71" fill="#0000da"/>
<rect x="130.38" y="213.92" width="17.22" height="8.71" fill="#0000f1"/>
<rect x="147.3" y="213.92" width="25.68" height="8.71" fill="#0000ed"/>
<rect x="172.68" y="213.92" width="8.76" height="8.71" fill="#0000df"/>
<rect x="181.14" y="213.92" width="8.76" height="8.71" fill="#0000cd"/>
<rect x="189.6" y="213.92" width="17.22" height="8.71" fill="#0000bf"/>
<rect x="206.52" y="213.92" width="17.22" height="8.71" fill="#0000bb"/>
<rect x="223.44" y="213.92" width="25.68" height="8.71" fill="#0000b6"/>
<rect x="248.82" y="213.92" width="17.22" height="8.71" fill="#0000bb"/>
<rect x="265.74" y="213.92" width="8.76" height="8.71" fill="#0000c8"/>
<rect x="274.2" y="213.92" width="8.76" height="8.71" fill="#0000ed"/>
<rect x="282.66" y="213.92" width="8.76" height="8.71" fill="#0004ff"/>
<rect x="291.12" y="213.92" width="8.76" height="8.71" fill="#0030ff"/>
<rect x="299.58" y="213.92" width="8.76" height="8.71" fill="#0050ff"/>
<rect x="308.04" y="213.92" width="8.76" height="8.71" fill="#0070ff"/>
<rect x="316.5" y="213.92" width="8.76" height="8.71" fill="#0084ff"/>
<rect x="324.96" y="213.92" width="8.76" height="8.71" fill="#009cff"/>
<rect x="333.42" y="213.92" width="8.76" height="8.71" fill="#00bcff"/>
<rect x="341.88" y="213.92" width="8.76" height="8.71" fill="#09f0ee"/>
<rect x="350.34" y="213.92" width="8.76" height="8.71" fill="#39ffbe"/>
<rect x="358.8" y="213.92" width="8.76" height="8.71" fill="#5aff9d"/>
<rect x="367.26" y="213.92" width="8.76" height="8.71" fill="#7dff7a"/>
<rect x="375.72" y="213.92" width="8.76" height="8.71" fill="#94ff63"/>
<rect x="384.18" y="213.92" width="8.76" height="8.71" fill="#63ff94"/>
<rect x="392.64" y="213.92" width="8.76" height="8.71" fill="#7dff7a"/>
<rect x="401.1" y="213.92" width="8.76" height="8.71" fill="#a4ff53"/>
<rect x="409.56" y="213.92" width="8.76" height="8.71" fill="#ceff29"/>
<rect x="418.02" y="213.92" width="8.76" height="8.71" fill="#ffea00"/>
<rect x="426.48" y="213.92" width="8.76" height="8.71" fill="#ffc400"/>
<rect x="434.94" y="213.92" width="8.76" height="8.71" fill="#ff6800"/>
<rect x="443.4" y="213.92" width="25.68" height="8.71" fill="#ff3800"/>
<rect x="468.78" y="213.92" width="8.76" height="8.71" fill="#ff1a00"/>
<rect x="477.24" y="213.92" width="17.22" height="8.71" fill="#f10800"/>
<rect x="494.16" y="213.92" width="17.22" height="8.71" fill="#da0000"/>
<rect x="511.08" y="213.92" width="17.22" height="8.71" fill="#e80000"/>
<rect x="528" y="213.92" width="17.22" height="8.71" fill="#f10800"/>
<rect x="544.92" y="213.92" width="8.76" height="8.71" fill="#ff1a00"/>
<rect x="553.38" y="213.92" width="8.76" height="8.71" fill="#ff2d00"/>
<rect x="561.84" y="213.92" width="8.76" height="8.71" fill="#ff4a00"/>
<rect x="570.3" y="213.92" width="8.76" height="8.71" fill="#ff6800"/>
<rect x="578.76" y="213.92" width="8.76" height="8.71" fill="#ffab00"/>
<rect x="587.22" y="213.92" width="8.76" height="8.71" fill="#ffd700"/>
<rect x="595.68" y="213.92" width="8.76" height="8.71" fill="#e7ff0f"/>
<rect x="604.14" y="213.92" width="8.76" height="8.71" fill="#beff39"/>
<rect x="612.6" y="213.92" width="8.76" height="8.71" fill="#90ff66"/>
<rect x="621.06" y="213.92" width="8.76" height="8.71" fill="#5aff9d"/>
<rect x="629.52" y="213.92" width="8.76" height="8.71" fill="#1fffd7"/>
<rect x="637.98" y="213.92" width="8.76" height="8.71" fill="#00b8ff"/>
<rect x="646.44" y="213.92" width="8.76" height="8.71" fill="#0068ff"/>
<rect x="654.9" y="213.92" width="8.76" height="8.71" fill="#0028ff"/>
<rect x="663.36" y="213.92" width="8.76" height="8.71" fill="#0000ff"/>
<rect x="671.82" y="213.92" width="8.76" height="8.71" fill="#0000e8"/>
<rect x="680.28" y="213.92" width="8.76" height="8.71" fill="#0000cd"/>
<rect x="688.74" y="213.92" width="25.38" height="8.71" fill="#0000bb"/>
<rect x="105" y="222.33" width="8.76" height="8.71" fill="#0000e3"/>
<rect x="113.46" y="222.33" width="17.22" height="8.71" fill="#0000f1"/>
<rect x="130.38" y="222.33" width="8.76" height="8.71" fill="#0000ed"/>
<rect x="138.84" y="222.33" width="17.22" height="8.71" fill="#0000e8"/>
<rect x="155.76" y="222.33" width="17.22" height="8.71" fill="#0000e3"/>
<rect x="172.68" y="222.33" width="8.76" height="8.71" fill="#0000d6"/>
<rect x="181.14" y="222.33" width="8.76" height="8.71" fill="#0000c8"/>
<rect x="189.6" y="222.33" width="17.22" height="8.71" fill="#0000ad"/>
<rect x="206.52" y="222.33" width="51.06" height="8.71" fill="#0000a8"/>
<rect x="257.28" y="222.33" width="8.76" height="8.71" fill="#0000bf"/>
<rect x="265.74" y="222.33" width="8.76" height="8.71" fill="#0000c4"/>
<rect x="274.2" y="222.33" width="8.76" height="8.71" fill="#0000e8"/>
<rect x="282.66" y="222.33" width="8.76" height="8.71" fill="#0000ff"/>
<rect x="291.12" y="222.33" width="8.76" height="8.71" fill="#001cff"/>
<rect x="299.58" y="222.33" width="8.76" height="8.71" fill="#0048ff"/>
<rect x="308.04" y="222.33" width="8.76" height="8.71" fill="#0068ff"/>
<rect x="316.5" y="222.33" width="8.76" height="8.71" fill="#0090ff"/>
<rect x="324.96" y="222.33" width="8.76" height="8.71" fill="#00b0ff"/>
<rect x="333.42" y="222.33" width="8.76" height="8.71" fill="#09f0ee"/>
<rect x="341.88" y="222.33" width="8.76" height="8.71" fill="#39ffbe"/>
<rect x="350.34" y="222.33" width="8.76" height="8.71" fill="#7dff7a"/>
<rect x="358.8" y="222.33" width="8.76" height="8.71" fill="#8dff6a"/>
<rect x="367.26" y="222.33" width="8.76" height="8.71" fill="#7dff7a"/>
<rect x="375.72" y="222.33" width="8.76" height="8.71" fill="#6dff8a"/>
<rect x="384.18" y="222.33" width="8.76" height="8.71" fill="#63ff94"/>
<rect x="392.64" y="222.33" width="8.76" height="8.71" fill="#8dff6a"/>
<rect x="401.1" y="222.33" width="8.76" height="8.71" fill="#a7ff50"/>
<rect x="409.56" y="222.33" width="8.76" height="8.71" fill="#beff39"/>
<rect x="418.02" y="222.33" width="8.76" height="8.71" fill="#ceff29"/>
<rect x="426.48" y="222.33" width="25.68" height="8.71" fill="#deff19"/>
<rect x="451.86" y="222.33" width="17.22" height="8.71" fill="#e7ff0f"/>
<rect x="468.78" y="222.33" width="34.14" height="8.71" fill="#deff19"/>
<rect x="502.62" y="222.33" width="17.22" height="8.71" fill="#e7ff0f"/>
<rect x="519.54" y="222.33" width="8.76" height="8.71" fill="#f8f500"/>
<rect x="528" y="222.33" width="8.76" height="8.71" fill="#feed00"/>
<rect x="536.46" y="222.33" width="8.76" height="8.71" fill="#ffe200"/>
<rect x="544.92" y="222.33" width="17.22" height="8.71" fill="#ffd700"/>
<rect x="561.84" y="222.33" width="8.76" height="8.71" fill="#feed00"/>
<rect x="570.3" y="222.33" width="8.76" height="8.71" fill="#f8f500"/>
<rect x="578.76" y="222.33" width="8.76" height="8.71" fill="#e7ff0f"/>
<rect x="587.22" y="222.33" width="8.76" height="8.71" fill="#ceff29"/>
<rect x="595.68" y="222.33" width="8.76" height="8.71" fill="#b4ff43"/>
<rect x="604.14" y="222.33" width="8.76" height="8.71" fill="#a7ff50"/>
<rect x="612.6" y="222.33" width="8.76" height="8.71" fill="#7dff7a"/>
<rect x="621.06" y="222.33" width="8.76" height="8.71" fill="#49ffad"/>
<rect x="629.52" y="222.33" width="8.76" height="8.71" fill="#16ffe1"/>
<rect x="637.98" y="222.33" width="8.76" height="8.71" fill="#00b4ff"/>
<rect x="646.44" y="222.33" width="8.76" height="8.71" fill="#0070ff"/>
<rect x="654.9" y="222.33" width="8.76" height="8.71" fill="#0030ff"/>
<rect x="663.36" y="222.33" width="8.76" height="8.71" fill="#0000ff"/>
<rect x="671.82" y="222.33" width="8.76" height="8.71" fill="#0000f1"/>
<rect x="680.28" y="222.33" width="8.76" height="8.71" fill="#0000d6"/>
<rect x="688.74" y="222.33" width="8.76" height="8.71" fill="#0000c8"/>
<rect x="697.2" y="222.33" width="16.92" height="8.71" fill="#0000c4"/>
<rect x="105" y="230.74" width="51.06" height="8.71" fill="#0000da"/>
<rect x="155.76" y="230.74" width="8.76" height="8.71" fill="#0000d6"/>
<rect x="164.22" y="230.74" width="8.76" height="8.71" fill="#0000cd"/>
<rect x="172.68" y="230.74" width="8.76" height="8.71" fill="#0000bf"/>
<rect x="181.14" y="230.74" width="8.76" height="8.71" fill="#0000b2"/>
<rect x="189.6" y="230.74" width="25.68" height="8.71" fill="#0000a4"/>
<rect x="214.98" y="230.74" width="34.14" height="8.71" fill="#00009f"/>
<rect x="248.82" y="230.74" width="8.76" height="8.71" fill="#0000ad"/>
<rect x="257.28" y="230.74" width="8.76" height="8.71" fill="#0000bb"/>
<rect x="265.74" y="230.74" width="8.76" height="8.71" fill="#0000c8"/>
<rect x="274.2" y="230.74" width="8.76" height="8.71" fill="#0000df"/>
<rect x="282.66" y="230.74" width="8.76" height="8.71" fill="#0000ff"/>
<rect x="291.12" y="230.74" width="8.76" height="8.71" fill="#0008ff"/>
<rect x="299.58" y="230.74" width="8.76" height="8.71" fill="#0028ff"/>
<rect x="308.04" y="230.74" width="8.76" height="8.71" fill="#005cff"/>
<rect x="316.5" y="230.74" width="8.76" height="8.71" fill="#0090ff"/>
<rect x="324.96" y="230.74" width="8.76" height="8.71" fill="#00d0ff"/>
<rect x="333.42" y="230.74" width="8.76" height="8.71" fill="#29ffce"/>
<rect x="341.88" y="230.74" width="8.76" height="8.71" fill="#5aff9d"/>
<rect x="350.34" y="230.74" width="8.76" height="8.71" fill="#73ff83"/>
<rect x="358.8" y="230.74" width="34.14" height="8.71" fill="#7dff7a"/>
<rect x="392.64" y="230.74" width="8.76" height="8.71" fill="#b7ff40"/>
<rect x="401.1" y="230.74" width="8.76" height="8.71" fill="#e1ff16"/>
<rect x="409.56" y="230.74" width="8.76" height="8.71" fill="#ffea00"/>
<rect x="418.02" y="230.74" width="8.76" height="8.71" fill="#ffb200"/>
<rect x="426.48" y="230.74" width="8.76" height="8.71" fill="#ff6400"/>
<rect x="434.94" y="230.74" width="8.76" height="8.71" fill="#ff5200"/>
<rect x="443.4" y="230.74" width="8.76" height="8.71" fill="#ff6400"/>
<rect x="451.86" y="230.74" width="8.76" height="8.71" fill="#ff7a00"/>
<rect x="460.32" y="230.74" width="8.76" height="8.71" fill="#ff9400"/>
<rect x="468.78" y="230.74" width="8.76" height="8.71" fill="#ffb200"/>
<rect x="477.24" y="230.74" width="17.22" height="8.71" fill="#ffc400"/>
<rect x="494.16" y="230.74" width="8.76" height="8.71" fill="#ffea00"/>
<rect x="502.62" y="230.74" width="8.76" height="8.71" fill="#feed00"/>
<rect x="511.08" y="230.74" width="8.76" height="8.71" fill="#ffe200"/>
<rect x="519.54" y="230.74" width="8.76" height="8.71" fill="#ffd700"/>
<rect x="528" y="230.74" width="8.76" height="8.71" fill="#ffc400"/>
<rect x="536.46" y="230.74" width="17.22" height="8.71" fill="#ffbd00"/>
<rect x="553.38" y="230.74" width="8.76" height="8.71" fill="#ffc400"/>
<rect x="561.84" y="230.74" width="8.76" height="8.71" fill="#ffe200"/>
<rect x="570.3" y="230.74" width="8.76" height="8.71" fill="#eeff09"/>
<rect x="578.76" y="230.74" width="8.76" height="8.71" fill="#ceff29"/>
<rect x="587.22" y="230.74" width="8.76" height="8.71" fill="#adff49"/>
<rect x="595.68" y="230.74" width="8.76" height="8.71" fill="#8dff6a"/>
<rect x="604.14" y="230.74" width="8.76" height="8.71" fill="#7dff7a"/>
<rect x="612.6" y="230.74" width="8.76" height="8.71" fill="#53ffa4"/>
<rect x="621.06" y="230.74" width="8.76" height="8.71" fill="#30ffc7"/>
<rect x="629.52" y="230.74" width="8.76" height="8.71" fill="#02e8f4"/>
<rect x="637.98" y="230.74" width="8.76" height="8.71" fill="#00a8ff"/>
<rect x="646.44" y="230.74" width="8.76" height="8.71" fill="#0064ff"/>
<rect x="654.9" y="230.74" width="8.76" height="8.71" fill="#0024ff"/>
<rect x="663.36" y="230.74" width="8.76" height="8.71" fill="#0000ff"/>
<rect x="671.82" y="230.74" width="8.76" height="8.71" fill="#0000e3"/>
<rect x="680.28" y="230.74" width="8.76" height="8.71" fill="#0000d1"/>
<rect x="688.74" y="230.74" width="25.38" height="8.71" fill="#0000c4"/>
<rect x="105" y="239.15" width="42.6" height="8.71" fill="#0000b6"/>
<rect x="147.3" y="239.15" width="8.76" height="8.71" fill="#0000ad"/>
<rect x="155.76" y="239.15" width="25.68" height="8.71" fill="#0000a8"/>
<rect x="181.14" y="239.15" width="25.68" height="8.71" fill="#0000a4"/>
<rect x="206.52" y="239.15" width="17.22" height="8.71" fill="#00009f"/>
<rect x="223.44" y="239.15" width="34.14" height="8.71" fill="#00009b"/>
<rect x="257.28" y="239.15" width="8.76" height="8.71" fill="#0000b2"/>
<rect x="265.74" y="239.15" width="8.76" height="8.71" fill="#0000bf"/>
<rect x="274.2" y="239.15" width="8.76" height="8.71" fill="#0000d6"/>
<rect x="282.66" y="239.15" width="8.76" height="8.71" fill="#0000ed"/>
<rect x="291.12" y="239.15" width="8.76" height="8.71" fill="#0000ff"/>
<rect x="299.58" y="239.15" width="8.76" height="8.71" fill="#002cff"/>
<rect x="308.04" y="239.15" width="8.76" height="8.71" fill="#004cff"/>
<rect x="316.5" y="239.15" width="8.76" height="8.71" fill="#0080ff"/>
<rect x="324.96" y="239.15" width="8.76" height="8.71" fill="#00b0ff"/>
<rect x="333.42" y="239.15" width="8.76" height="8.71" fill="#09f0ee"/>
<rect x="341.88" y="239.15" width="8.76" height="8.71" fill="#19ffde"/>
<rect x="350.34" y="239.15" width="8.76" height="8.71" fill="#29ffce"/>
<rect x="358.8" y="239.15" width="8.76" height="8.71" fill="#3cffba"/>
<rect x="367.26" y="239.15" width="8.76" height="8.71" fill="#56ffa0"/>
<rect x="375.72" y="239.15" width="8.76" height="8.71" fill="#7dff7a"/>
<rect x="384.18" y="239.15" width="8.76" height="8.71" fill="#90ff66"/>
<rect x="392.64" y="239.15" width="8.76" height="8.71" fill="#d1ff26"/>
<rect x="401.1" y="239.15" width="8.76" height="8.71" fill="#ffe600"/>
<rect x="409.56" y="239.15" width="8.76" height="8.71" fill="#ffae00"/>
<rect x="418.02" y="239.15" width="8.76" height="8.71" fill="#ff7700"/>
<rect x="426.48" y="239.15" width="8.76" height="8.71" fill="#ff1600"/>
<rect x="434.94" y="239.15" width="8.76" height="8.71" fill="#cd0000"/>
<rect x="443.4" y="239.15" width="17.22" height="8.71" fill="#9f0000"/>
<rect x="460.32" y="239.15" width="8.76" height="8.71" fill="#cd0000"/>
<rect x="468.78" y="239.15" width="8.76" height="8.71" fill="#f10800"/>
<rect x="477.24" y="239.15" width="8.76" height="8.71" fill="#ff2500"/>
<rect x="485.7" y="239.15" width="8.76" height="8.71" fill="#ff3800"/>
<rect x="494.16" y="239.15" width="8.76" height="8.71" fill="#ff3f00"/>
<rect x="502.62" y="239.15" width="42.6" height="8.71" fill="#ff5500"/>
<rect x="544.92" y="239.15" width="8.76" height="8.71" fill="#ff7a00"/>
<rect x="553.38" y="239.15" width="8.76" height="8.71" fill="#ffb200"/>
<rect x="561.84" y="239.15" width="8.76" height="8.71" fill="#feed00"/>
<rect x="570.3" y="239.15" width="8.76" height="8.71" fill="#deff19"/>
<rect x="578.76" y="239.15" width="8.76" height="8.71" fill="#beff39"/>
<rect x="587.22" y="239.15" width="8.76" height="8.71" fill="#8dff6a"/>
<rect x="595.68" y="239.15" width="8.76" height="8.71" fill="#63ff94"/>
<rect x="604.14" y="239.15" width="8.76" height="8.71" fill="#39ffbe"/>
<rect x="612.6" y="239.15" width="8.76" height="8.71" fill="#19ffde"/>
<rect x="621.06" y="239.15" width="8.76" height="8.71" fill="#00d8ff"/>
<rect x="629.52" y="239.15" width="8.76" height="8.71" fill="#009cff"/>
<rect x="637.98" y="239.15" width="8.76" height="8.71" fill="#005cff"/>
<rect x="646.44" y="239.15" width="8.76" height="8.71" fill="#0020ff"/>
<rect x="654.9" y="239.15" width="8.76" height="8.71" fill="#0000ff"/>
<rect x="663.36" y="239.15" width="8.76" height="8.71" fill="#0000e8"/>
<rect x="671.82" y="239.15" width="8.76" height="8.71" fill="#0000c8"/>
<rect x="680.28" y="239.15" width="17.22" height="8.71" fill="#0000bb"/>
<rect x="697.2" y="239.15" width="16.92" height="8.71" fill="#0000ad"/>
<rect x="105" y="247.56" width="25.68" height="8.71" fill="#00009f"/>
<rect x="130.38" y="247.56" width="34.14" height="8.71" fill="#00009b"/>
<rect x="164.22" y="247.56" width="76.44" height="8.71" fill="#000092"/>
<rect x="240.36" y="247.56" width="17.22" height="8.71" fill="#00009b"/>
<rect x="257.28" y="247.56" width="8.76" height="8.71" fill="#0000a8"/>
<rect x="265.74" y="247.56" width="8.76" height="8.71" fill="#0000b6"/>
<rect x="274.2" y="247.56" width="8.76" height="8.71" fill="#0000cd"/>
<rect x="282.66" y="247.56" width="8.76" height="8.71" fill="#0000e3"/>
<rect x="291.12" y="247.56" width="8.76" height="8.71" fill="#0000ff"/>
<rect x="299.58" y="247.56" width="8.76" height="8.71" fill="#0024ff"/>
<rect x="308.04" y="247.56" width="8.76" height="8.71" fill="#004cff"/>
<rect x="316.5" y="247.56" width="8.76" height="8.71" fill="#006cff"/>
<rect x="324.96" y="247.56" width="8.76" height="8.71" fill="#0098ff"/>
<rect x="333.42" y="247.56" width="8.76" height="8.71" fill="#00b4ff"/>
<rect x="341.88" y="247.56" width="8.76" height="8.71" fill="#00ccff"/>
<rect x="350.34" y="247.56" width="8.76" height="8.71" fill="#06ecf1"/>
<rect x="358.8" y="247.56" width="8.76" height="8.71" fill="#16ffe1"/>
<rect x="367.26" y="247.56" width="8.76" height="8.71" fill="#30ffc7"/>
<rect x="375.72" y="247.56" width="8.76" height="8.71" fill="#49ffad"/>
<rect x="384.18" y="247.56" width="8.76" height="8.71" fill="#6aff8d"/>
<rect x="392.64" y="247.56" width="8.76" height="8.71" fill="#9dff5a"/>
<rect x="401.1" y="247.56" width="8.76" height="8.71" fill="#c4ff33"/>
<rect x="409.56" y="247.56" width="8.76" height="8.71" fill="#e7ff0f"/>
<rect x="418.02" y="247.56" width="8.76" height="8.71" fill="#feed00"/>
<rect x="426.48" y="247.56" width="8.76" height="8.71" fill="#ffd300"/>
<rect x="434.94" y="247.56" width="8.76" height="8.71" fill="#ffc100"/>
<rect x="443.4" y="247.56" width="25.68" height="8.71" fill="#ffae00"/>
<rect x="468.78" y="247.56" width="34.14" height="8.71" fill="#ffb200"/>
<rect x="502.62" y="247.56" width="17.22" height="8.71" fill="#ffc400"/>
<rect x="519.54" y="247.56" width="8.76" height="8.71" fill="#ffd700"/>
<rect x="528" y="247.56" width="8.76" height="8.71" fill="#f8f500"/>
<rect x="536.46" y="247.56" width="8.76" height="8.71" fill="#deff19"/>
<rect x="544.92" y="247.56" width="8.76" height="8.71" fill="#beff39"/>
<rect x="553.38" y="247.56" width="8.76" height="8.71" fill="#a4ff53"/>
<rect x="561.84" y="247.56" width="8.76" height="8.71" fill="#7dff7a"/>
<rect x="570.3" y="247.56" width="8.76" height="8.71" fill="#63ff94"/>
<rect x="578.76" y="247.56" width="8.76" height="8.71" fill="#43ffb4"/>
<rect x="587.22" y="247.56" width="8.76" height="8.71" fill="#29ffce"/>
<rect x="595.68" y="247.56" width="8.76" height="8.71" fill="#09f0ee"/>
<rect x="604.14" y="247.56" width="8.76" height="8.71" fill="#00d0ff"/>
<rect x="612.6" y="247.56" width="8.76" height="8.71" fill="#00a0ff"/>
<rect x="621.06" y="247.56" width="8.76" height="8.71" fill="#0064ff"/>
<rect x="629.52" y="247.56" width="8.76" height="8.71" fill="#002cff"/>
<rect x="637.98" y="247.56" width="8.76" height="8.71" fill="#0000ff"/>
<rect x="646.44" y="247.56" width="8.76" height="8.71" fill="#0000ed"/>
<rect x="654.9" y="247.56" width="8.76" height="8.71" fill="#0000d1"/>
<rect x="663.36" y="247.56" width="8.76" height="8.71" fill="#0000b6"/>
<rect x="671.82" y="247.56" width="8.76" height="8.71" fill="#0000a4"/>
<rect x="680.28" y="247.56" width="33.84" height="8.71" fill="#000096"/>
<rect x="105" y="255.97" width="17.22" height="8.71" fill="#00009f"/>
<rect x="121.92" y="255.97" width="17.22" height="8.71" fill="#00009b"/>
<rect x="138.84" y="255.97" width="25.68" height="8.71" fill="#000096"/>
<rect x="164.22" y="255.97" width="42.6" height="8.71" fill="#000092"/>
<rect x="206.52" y="255.97" width="59.52" height="8.71" fill="#00009f"/>
<rect x="265.74" y="255.97" width="8.76" height="8.71" fill="#0000b6"/>
<rect x="274.2" y="255.97" width="8.76" height="8.71" fill="#0000c4"/>
<rect x="282.66" y="255.97" width="8.76" height="8.71" fill="#0000df"/>
<rect x="291.12" y="255.97" width="8.76" height="8.71" fill="#0000f6"/>
<rect x="299.58" y="255.97" width="8.76" height="8.71" fill="#0008ff"/>
<rect x="308.04" y="255.97" width="8.76" height="8.71" fill="#0034ff"/>
<rect x="316.5" y="255.97" width="8.76" height="8.71" fill="#0054ff"/>
<rect x="324.96" y="255.97" width="8.76" height="8.71" fill="#0074ff"/>
<rect x="333.42" y="255.97" width="8.76" height="8.71" fill="#008cff"/>
<rect x="341.88" y="255.97" width="8.76" height="8.71" fill="#00a4ff"/>
<rect x="350.34" y="255.97" width="8.76" height="8.71" fill="#00b8ff"/>
<rect x="358.8" y="255.97" width="8.76" height="8.71" fill="#00d0ff"/>
<rect x="367.26" y="255.97" width="8.76" height="8.71" fill="#00e4f8"/>
<rect x="375.72" y="255.97" width="8.76" height="8.71" fill="#13fce4"/>
<rect x="384.18" y="255.97" width="8.76" height="8.71" fill="#2cffca"/>
<rect x="392.64" y="255.97" width="8.76" height="8.71" fill="#3cffba"/>
<rect x="401.1" y="255.97" width="8.76" height="8.71" fill="#53ffa4"/>
<rect x="409.56" y="255.97" width="8.76" height="8.71" fill="#63ff94"/>
<rect x="418.02" y="255.97" width="8.76" height="8.71" fill="#7aff7d"/>
<rect x="426.48" y="255.97" width="8.76" height="8.71" fill="#8aff6d"/>
<rect x="434.94" y="255.97" width="8.76" height="8.71" fill="#87ff70"/>
<rect x="443.4" y="255.97" width="17.22" height="8.71" fill="#83ff73"/>
<rect x="460.32" y="255.97" width="17.22" height="8.71" fill="#80ff77"/>
<rect x="477.24" y="255.97" width="34.14" height="8.71" fill="#7dff7a"/>
<rect x="511.08" y="255.97" width="8.76" height="8.71" fill="#6dff8a"/>
<rect x="519.54" y="255.97" width="8.76" height="8.71" fill="#63ff94"/>
<rect x="528" y="255.97" width="8.76" height="8.71" fill="#53ffa4"/>
<rect x="536.46" y="255.97" width="8.76" height="8.71" fill="#43ffb4"/>
<rect x="544.92" y="255.97" width="8.76" height="8.71" fill="#29ffce"/>
<rect x="553.38" y="255.97" width="8.76" height="8.71" fill="#09f0ee"/>
<rect x="561.84" y="255.97" width="8.76" height="8.71" fill="#00d0ff"/>
<rect x="570.3" y="255.97" width="8.76" height="8.71" fill="#00b0ff"/>
<rect x="578.76" y="255.97" width="8.76" height="8.71" fill="#0094ff"/>
<rect x="587.22" y="255.97" width="8.76" height="8.71" fill="#0074ff"/>
<rect x="595.68" y="255.97" width="8.76" height="8.71" fill="#0060ff"/>
<rect x="604.14" y="255.97" width="8.76" height="8.71" fill="#004cff"/>
<rect x="612.6" y="255.97" width="8.76" height="8.71" fill="#0018ff"/>
<rect x="621.06" y="255.97" width="8.76" height="8.71" fill="#0000ff"/>
<rect x="629.52" y="255.97" width="8.76" height="8.71" fill="#0000fa"/>
<rect x="637.98" y="255.97" width="8.76" height="8.71" fill="#0000da"/>
<rect x="646.44" y="255.97" width="8.76" height="8.71" fill="#0000c4"/>
<rect x="654.9" y="255.97" width="8.76" height="8.71" fill="#0000a8"/>
<rect x="663.36" y="255.97" width="8.76" height="8.71" fill="#00009b"/>
<rect x="671.82" y="255.97" width="42.3" height="8.71" fill="#000096"/>
<rect x="105" y="264.38" width="59.52" height="8.71" fill="#0000b6"/>
<rect x="164.22" y="264.38" width="17.22" height="8.71" fill="#0000b2"/>
<rect x="181.14" y="264.38" width="51.06" height="8.71" fill="#0000a4"/>
<rect x="231.9" y="264.38" width="34.14" height="8.71" fill="#00009f"/>
<rect x="265.74" y="264.38" width="8.76" height="8.71" fill="#0000a4"/>
<rect x="274.2" y="264.38" width="8.76" height="8.71" fill="#0000b2"/>
<rect x="282.66" y="264.38" width="8.76" height="8.71" fill="#0000bf"/>
<rect x="291.12" y="264.38" width="8.76" height="8.71" fill="#0000d6"/>
<rect x="299.58" y="264.38" width="8.76" height="8.71" fill="#0000ff"/>
<rect x="308.04" y="264.38" width="8.76" height="8.71" fill="#0004ff"/>
<rect x="316.5" y="264.38" width="8.76" height="8.71" fill="#001cff"/>
<rect x="324.96" y="264.38" width="8.76" height="8.71" fill="#0040ff"/>
<rect x="333.42" y="264.38" width="8.76" height="8.71" fill="#0058ff"/>
<rect x="341.88" y="264.38" width="8.76" height="8.71" fill="#0068ff"/>
<rect x="350.34" y="264.38" width="8.76" height="8.71" fill="#0080ff"/>
<rect x="358.8" y="264.38" width="8.76" height="8.71" fill="#0094ff"/>
<rect x="367.26" y="264.38" width="8.76" height="8.71" fill="#00acff"/>
<rect x="375.72" y="264.38" width="17.22" height="8.71" fill="#00c4ff"/>
<rect x="392.64" y="264.38" width="8.76" height="8.71" fill="#00d8ff"/>
<rect x="401.1" y="264.38" width="8.76" height="8.71" fill="#06ecf1"/>
<rect x="409.56" y="264.38" width="8.76" height="8.71" fill="#13fce4"/>
<rect x="418.02" y="264.38" width="8.76" height="8.71" fill="#1fffd7"/>
<rect x="426.48" y="264.38" width="8.76" height="8.71" fill="#30ffc7"/>
<rect x="434.94" y="264.38" width="8.76" height="8.71" fill="#3cffba"/>
<rect x="443.4" y="264.38" width="8.76" height="8.71" fill="#40ffb7"/>
<rect x="451.86" y="264.38" width="8.76" height="8.71" fill="#36ffc1"/>
<rect x="460.32" y="264.38" width="8.76" height="8.71" fill="#23ffd4"/>
<rect x="468.78" y="264.38" width="8.76" height="8.71" fill="#0ff8e7"/>
<rect x="477.24" y="264.38" width="8.76" height="8.71" fill="#06ecf1"/>
<rect x="485.7" y="264.38" width="8.76" height="8.71" fill="#00e0fb"/>
<rect x="494.16" y="264.38" width="8.76" height="8.71" fill="#00dcfe"/>
<rect x="502.62" y="264.38" width="8.76" height="8.71" fill="#00d0ff"/>
<rect x="511.08" y="264.38" width="8.76" height="8.71" fill="#00c8ff"/>
<rect x="519.54" y="264.38" width="8.76" height="8.71" fill="#00b0ff"/>
<rect x="528" y="264.38" width="8.76" height="8.71" fill="#00a8ff"/>
<rect x="536.46" y="264.38" width="8.76" height="8.71" fill="#0094ff"/>
<rect x="544.92" y="264.38" width="8.76" height="8.71" fill="#0080ff"/>
<rect x="553.38" y="264.38" width="8.76" height="8.71" fill="#0060ff"/>
<rect x="561.84" y="264.38" width="8.76" height="8.71" fill="#004cff"/>
<rect x="570.3" y="264.38" width="8.76" height="8.71" fill="#0038ff"/>
<rect x="578.76" y="264.38" width="8.76" height="8.71" fill="#002cff"/>
<rect x="587.22" y="264.38" width="8.76" height="8.71" fill="#0018ff"/>
<rect x="595.68" y="264.38" width="8.76" height="8.71" fill="#000cff"/>
<rect x="604.14" y="264.38" width="8.76" height="8.71" fill="#0004ff"/>
<rect x="612.6" y="264.38" width="8.76" height="8.71" fill="#0000ff"/>
<rect x="621.06" y="264.38" width="8.76" height="8.71" fill="#0000f6"/>
<rect x="629.52" y="264.38" width="25.68" height="8.71" fill="#0000ed"/>
<rect x="654.9" y="264.38" width="8.76" height="8.71" fill="#0000d6"/>
<rect x="663.36" y="264.38" width="8.76" height="8.71" fill="#0000d1"/>
<rect x="671.82" y="264.38" width="17.22" height="8.71" fill="#0000bb"/>
<rect x="688.74" y="264.38" width="25.38" height="8.71" fill="#0000b6"/>
<rect x="105" y="272.79" width="59.52" height="8.71" fill="#0000cd"/>
<rect x="164.22" y="272.79" width="17.22" height="8.71" fill="#0000c4"/>
<rect x="181.14" y="272.79" width="34.14" height="8.71" fill="#0000b6"/>
<rect x="214.98" y="272.79" width="34.14" height="8.71" fill="#0000b2"/>
<rect x="248.82" y="272.79" width="25.68" height="8.71" fill="#0000a8"/>
<rect x="274.2" y="272.79" width="8.76" height="8.71" fill="#0000b2"/>
<rect x="282.66" y="272.79" width="8.76" height="8.71" fill="#0000b6"/>
<rect x="291.12" y="272.79" width="8.76" height="8.71" fill="#0000cd"/>
<rect x="299.58" y="272.79" width="8.76" height="8.71" fill="#0000e3"/>
<rect x="308.04" y="272.79" width="8.76" height="8.71" fill="#0000ff"/>
<rect x="316.5" y="272.79" width="8.76" height="8.71" fill="#0008ff"/>
<rect x="324.96" y="272.79" width="8.76" height="8.71" fill="#0020ff"/>
<rect x="333.42" y="272.79" width="8.76" height="8.71" fill="#0030ff"/>
<rect x="341.88" y="272.79" width="8.76" height="8.71" fill="#0048ff"/>
<rect x="350.34" y="272.79" width="8.76" height="8.71" fill="#0060ff"/>
<rect x="358.8" y="272.79" width="8.76" height="8.71" fill="#0078ff"/>
<rect x="367.26" y="272.79" width="8.76" height="8.71" fill="#0090ff"/>
<rect x="375.72" y="272.79" width="8.76" height="8.71" fill="#00a8ff"/>
<rect x="384.18" y="272.79" width="8.76" height="8.71" fill="#00b4ff"/>
<rect x="392.64" y="272.79" width="8.76" height="8.71" fill="#00c8ff"/>
<rect x="401.1" y="272.79" width="8.76" height="8.71" fill="#00d8ff"/>
<rect x="409.56" y="272.79" width="8.76" height="8.71" fill="#0cf4eb"/>
<rect x="418.02" y="272.79" width="8.76" height="8.71" fill="#23ffd4"/>
<rect x="426.48" y="272.79" width="8.76" height="8.71" fill="#30ffc7"/>
<rect x="434.94" y="272.79" width="8.76" height="8.71" fill="#3cffba"/>
<rect x="443.4" y="272.79" width="8.76" height="8.71" fill="#39ffbe"/>
<rect x="451.86" y="272.79" width="8.76" height="8.71" fill="#26ffd1"/>
<rect x="460.32" y="272.79" width="8.76" height="8.71" fill="#13fce4"/>
<rect x="468.78" y="272.79" width="8.76" height="8.71" fill="#09f0ee"/>
<rect x="477.24" y="272.79" width="8.76" height="8.71" fill="#00d8ff"/>
<rect x="485.7" y="272.79" width="8.76" height="8.71" fill="#00c0ff"/>
<rect x="494.16" y="272.79" width="8.76" height="8.71" fill="#00acff"/>
<rect x="502.62" y="272.79" width="8.76" height="8.71" fill="#0094ff"/>
<rect x="511.08" y="272.79" width="8.76" height="8.71" fill="#0088ff"/>
<rect x="519.54" y="272.79" width="8.76" height="8.71" fill="#0078ff"/>
<rect x="528" y="272.79" width="8.76" height="8.71" fill="#006cff"/>
<rect x="536.46" y="272.79" width="8.76" height="8.71" fill="#0060ff"/>
<rect x="544.92" y="272.79" width="8.76" height="8.71" fill="#004cff"/>
<rect x="553.38" y="272.79" width="8.76" height="8.71" fill="#0038ff"/>
<rect x="561.84" y="272.79" width="8.76" height="8.71" fill="#0020ff"/>
<rect x="570.3" y="272.79" width="8.76" height="8.71" fill="#000cff"/>
<rect x="578.76" y="272.79" width="8.76" height="8.71" fill="#0004ff"/>
<rect x="587.22" y="272.79" width="17.22" height="8.71" fill="#0000ff"/>
<rect x="604.14" y="272.79" width="8.76" height="8.71" fill="#0000f6"/>
<rect x="612.6" y="272.79" width="8.76" height="8.71" fill="#0000f1"/>
<rect x="621.06" y="272.79" width="25.68" height="8.71" fill="#0000e8"/>
<rect x="646.44" y="272.79" width="25.68" height="8.71" fill="#0000e3"/>
<rect x="671.82" y="272.79" width="42.3" height="8.71" fill="#0000d6"/>
<rect x="105" y="281.2" width="59.52" height="8.71" fill="#0000e8"/>
<rect x="164.22" y="281.2" width="17.22" height="8.71" fill="#0000d6"/>
<rect x="181.14" y="281.2" width="17.22" height="8.71" fill="#0000c8"/>
<rect x="198.06" y="281.2" width="34.14" height="8.71" fill="#0000bf"/>
<rect x="231.9" y="281.2" width="51.06" height="8.71" fill="#0000ad"/>
<rect x="282.66" y="281.2" width="8.76" height="8.71" fill="#0000b6"/>
<rect x="291.12" y="281.2" width="8.76" height="8.71" fill="#0000c4"/>
<rect x="299.58" y="281.2" width="8.76" height="8.71" fill="#0000d6"/>
<rect x="308.04" y="281.2" width="8.76" height="8.71" fill="#0000e3"/>
<rect x="316.5" y="281.2" width="17.22" height="8.71" fill="#0000ff"/>
<rect x="333.42" y="281.2" width="8.76" height="8.71" fill="#0008ff"/>
<rect x="341.88" y="281.2" width="8.76" height="8.71" fill="#0020ff"/>
<rect x="350.34" y="281.2" width="8.76" height="8.71" fill="#0038ff"/>
<rect x="358.8" y="281.2" width="8.76" height="8.71" fill="#005cff"/>
<rect x="367.26" y="281.2" width="8.76" height="8.71" fill="#0074ff"/>
<rect x="375.72" y="281.2" width="8.76" height="8.71" fill="#0088ff"/>
<rect x="384.18" y="281.2" width="8.76" height="8.71" fill="#00a0ff"/>
<rect x="392.64" y="281.2" width="8.76" height="8.71" fill="#00b4ff"/>
<rect x="401.1" y="281.2" width="8.76" height="8.71" fill="#00d4ff"/>
<rect x="409.56" y="281.2" width="8.76" height="8.71" fill="#09f0ee"/>
<rect x="418.02" y="281.2" width="8.76" height="8.71" fill="#1fffd7"/>
<rect x="426.48" y="281.2" width="8.76" height="8.71" fill="#2cffca"/>
<rect x="434.94" y="281.2" width="8.76" height="8.71" fill="#33ffc4"/>
<rect x="443.4" y="281.2" width="8.76" height="8.71" fill="#26ffd1"/>
<rect x="451.86" y="281.2" width="8.76" height="8.71" fill="#1cffdb"/>
<rect x="460.32" y="281.2" width="8.76" height="8.71" fill="#09f0ee"/>
<rect x="468.78" y="281.2" width="8.76" height="8.71" fill="#00e4f8"/>
<rect x="477.24" y="281.2" width="8.76" height="8.71" fill="#00ccff"/>
<rect x="485.7" y="281.2" width="8.76" height="8.71" fill="#00b4ff"/>
<rect x="494.16" y="281.2" width="8.76" height="8.71" fill="#00a0ff"/>
<rect x="502.62" y="281.2" width="8.76" height="8.71" fill="#008cff"/>
<rect x="511.08" y="281.2" width="8.76" height="8.71" fill="#0078ff"/>
<rect x="519.54" y="281.2" width="8.76" height="8.71" fill="#006cff"/>
<rect x="528" y="281.2" width="8.76" height="8.71" fill="#0060ff"/>
<rect x="536.46" y="281.2" width="8.76" height="8.71" fill="#004cff"/>
<rect x="544.92" y="281.2" width="8.76" height="8.71" fill="#0038ff"/>
<rect x="553.38" y="281.2" width="8.76" height="8.71" fill="#0020ff"/>
<rect x="561.84" y="281.2" width="8.76" height="8.71" fill="#000cff"/>
<rect x="570.3" y="281.2" width="25.68" height="8.71" fill="#0000ff"/>
<rect x="595.68" y="281.2" width="17.22" height="8.71" fill="#0000f1"/>
<rect x="612.6" y="281.2" width="59.52" height="8.71" fill="#0000e8"/>
<rect x="671.82" y="281.2" width="42.3" height="8.71" fill="#0000ed"/>
<rect x="105" y="289.61" width="51.06" height="8.71" fill="#0000f6"/>
<rect x="155.76" y="289.61" width="8.76" height="8.71" fill="#0000e8"/>
<rect x="164.22" y="289.61" width="8.76" height="8.71" fill="#0000df"/>
<rect x="172.68" y="289.61" width="17.22" height="8.71" fill="#0000d6"/>
<rect x="189.6" y="289.61" width="42.6" height="8.71" fill="#0000c4"/>
<rect x="231.9" y="289.61" width="25.68" height="8.71" fill="#0000b2"/>
<rect x="257.28" y="289.61" width="17.22" height="8.71" fill="#0000ad"/>
<rect x="274.2" y="289.61" width="8.76" height="8.71" fill="#0000b2"/>
<rect x="282.66" y="289.61" width="8.76" height="8.71" fill="#0000bb"/>
<rect x="291.12" y="289.61" width="8.76" height="8.71" fill="#0000bf"/>
<rect x="299.58" y="289.61" width="8.76" height="8.71" fill="#0000cd"/>
<rect x="308.04" y="289.61" width="8.76" height="8.71" fill="#0000da"/>
<rect x="316.5" y="289.61" width="8.76" height="8.71" fill="#0000e8"/>
<rect x="324.96" y="289.61" width="8.76" height="8.71" fill="#0000fa"/>
<rect x="333.42" y="289.61" width="8.76" height="8.71" fill="#0000ff"/>
<rect x="341.88" y="289.61" width="8.76" height="8.71" fill="#0004ff"/>
<rect x="350.34" y="289.61" width="8.76" height="8.71" fill="#001cff"/>
<rect x="358.8" y="289.61" width="8.76" height="8.71" fill="#0040ff"/>
<rect x="367.26" y="289.61" width="8.76" height="8.71" fill="#0054ff"/>
<rect x="375.72" y="289.61" width="8.76" height="8.71" fill="#006cff"/>
<rect x="384.18" y="289.61" width="8.76" height="8.71" fill="#008cff"/>
<rect x="392.64" y="289.61" width="8.76" height="8.71" fill="#00a4ff"/>
<rect x="401.1" y="289.61" width="8.76" height="8.71" fill="#00c0ff"/>
<rect x="409.56" y="289.61" width="8.76" height="8.71" fill="#00e0fb"/>
<rect x="418.02" y="289.61" width="8.76" height="8.71" fill="#13fce4"/>
<rect x="426.48" y="289.61" width="8.76" height="8.71" fill="#23ffd4"/>
<rect x="434.94" y="289.61" width="8.76" height="8.71" fill="#1fffd7"/>
<rect x="443.4" y="289.61" width="8.76" height="8.71" fill="#1cffdb"/>
<rect x="451.86" y="289.61" width="8.76" height="8.71" fill="#13fce4"/>
<rect x="460.32" y="289.61" width="8.76" height="8.71" fill="#00e4f8"/>
<rect x="468.78" y="289.61" width="8.76" height="8.71" fill="#00d8ff"/>
<rect x="477.24" y="289.61" width="8.76" height="8.71" fill="#00c0ff"/>
<rect x="485.7" y="289.61" width="8.76" height="8.71" fill="#00acff"/>
<rect x="494.16" y="289.61" width="8.76" height="8.71" fill="#0094ff"/>
<rect x="502.62" y="289.61" width="8.76" height="8.71" fill="#0084ff"/>
<rect x="511.08" y="289.61" width="8.76" height="8.71" fill="#0074ff"/>
<rect x="519.54" y="289.61" width="8.76" height="8.71" fill="#0060ff"/>
<rect x="528" y="289.61" width="8.76" height="8.71" fill="#0054ff"/>
<rect x="536.46" y="289.61" width="8.76" height="8.71" fill="#0040ff"/>
<rect x="544.92" y="289.61" width="8.76" height="8.71" fill="#002cff"/>
<rect x="553.38" y="289.61" width="8.76" height="8.71" fill="#0018ff"/>
<rect x="561.84" y="289.61" width="8.76" height="8.71" fill="#0004ff"/>
<rect x="570.3" y="289.61" width="17.22" height="8.71" fill="#0000ff"/>
<rect x="587.22" y="289.61" width="8.76" height="8.71" fill="#0000f1"/>
<rect x="595.68" y="289.61" width="17.22" height="8.71" fill="#0000ed"/>
<rect x="612.6" y="289.61" width="25.68" height="8.71" fill="#0000df"/>
<rect x="637.98" y="289.61" width="8.76" height="8.71" fill="#0000e3"/>
<rect x="646.44" y="289.61" width="25.68" height="8.71" fill="#0000e8"/>
<rect x="671.82" y="289.61" width="42.3" height="8.71" fill="#0000f6"/>
<rect x="105" y="298.02" width="51.06" height="8.71" fill="#0000f6"/>
<rect x="155.76" y="298.02" width="25.68" height="8.71" fill="#0000ed"/>
<rect x="181.14" y="298.02" width="17.22" height="8.71" fill="#0000da"/>
<rect x="198.06" y="298.02" width="42.6" height="8.71" fill="#0000c8"/>
<rect x="240.36" y="298.02" width="17.22" height="8.71" fill="#0000b6"/>
<rect x="257.28" y="298.02" width="17.22" height="8.71" fill="#0000ad"/>
<rect x="274.2" y="298.02" width="8.76" height="8.71" fill="#0000b6"/>
<rect x="282.66" y="298.02" width="8.76" height="8.71" fill="#0000bf"/>
<rect x="291.12" y="298.02" width="8.76" height="8.71" fill="#0000c4"/>
<rect x="299.58" y="298.02" width="8.76" height="8.71" fill="#0000cd"/>
<rect x="308.04" y="298.02" width="8.76" height="8.71" fill="#0000d6"/>
<rect x="316.5" y="298.02" width="8.76" height="8.71" fill="#0000e3"/>
<rect x="324.96" y="298.02" width="8.76" height="8.71" fill="#0000f1"/>
<rect x="333.42" y="298.02" width="17.22" height="8.71" fill="#0000ff"/>
<rect x="350.34" y="298.02" width="8.76" height="8.71" fill="#0010ff"/>
<rect x="358.8" y="298.02" width="8.76" height="8.71" fill="#0028ff"/>
<rect x="367.26" y="298.02" width="8.76" height="8.71" fill="#0040ff"/>
<rect x="375.72" y="298.02" width="8.76" height="8.71" fill="#0058ff"/>
<rect x="384.18" y="298.02" width="8.76" height="8.71" fill="#0078ff"/>
<rect x="392.64" y="298.02" width="8.76" height="8.71" fill="#0098ff"/>
<rect x="401.1" y="298.02" width="8.76" height="8.71" fill="#00acff"/>
<rect x="409.56" y="298.02" width="8.76" height="8.71" fill="#00ccff"/>
<rect x="418.02" y="298.02" width="8.76" height="8.71" fill="#02e8f4"/>
<rect x="426.48" y="298.02" width="8.76" height="8.71" fill="#09f0ee"/>
<rect x="434.94" y="298.02" width="8.76" height="8.71" fill="#0ff8e7"/>
<rect x="443.4" y="298.02" width="8.76" height="8.71" fill="#0cf4eb"/>
<rect x="451.86" y="298.02" width="8.76" height="8.71" fill="#02e8f4"/>
<rect x="460.32" y="298.02" width="8.76" height="8.71" fill="#00d8ff"/>
<rect x="468.78" y="298.02" width="8.76" height="8.71" fill="#00ccff"/>
<rect x="477.24" y="298.02" width="8.76" height="8.71" fill="#00b8ff"/>
<rect x="485.7" y="298.02" width="8.76" height="8.71" fill="#00a0ff"/>
<rect x="494.16" y="298.02" width="8.76" height="8.71" fill="#008cff"/>
<rect x="502.62" y="298.02" width="8.76" height="8.71" fill="#007cff"/>
<rect x="511.08" y="298.02" width="8.76" height="8.71" fill="#006cff"/>
<rect x="519.54" y="298.02" width="8.76" height="8.71" fill="#0060ff"/>
<rect x="528" y="298.02" width="8.76" height="8.71" fill="#004cff"/>
<rect x="536.46" y="298.02" width="8.76" height="8.71" fill="#0038ff"/>
<rect x="544.92" y="298.02" width="8.76" height="8.71" fill="#0020ff"/>
<rect x="553.38" y="298.02" width="8.76" height="8.71" fill="#000cff"/>
<rect x="561.84" y="298.02" width="17.22" height="8.71" fill="#0000ff"/>
<rect x="578.76" y="298.02" width="8.76" height="8.71" fill="#0000f6"/>
<rect x="587.22" y="298.02" width="8.76" height="8.71" fill="#0000ed"/>
<rect x="595.68" y="298.02" width="17.22" height="8.71" fill="#0000e8"/>
<rect x="612.6" y="298.02" width="34.14" height="8.71" fill="#0000da"/>
<rect x="646.44" y="298.02" width="17.22" height="8.71" fill="#0000df"/>
<rect x="663.36" y="298.02" width="50.76" height="8.71" fill="#0000f6"/>
<rect x="105" y="306.43" width="51.06" height="8.71" fill="#0000f1"/>
<rect x="155.76" y="306.43" width="25.68" height="8.71" fill="#0000e8"/>
<rect x="181.14" y="306.43" width="25.68" height="8.71" fill="#0000da"/>
<rect x="206.52" y="306.43" width="34.14" height="8.71" fill="#0000cd"/>
<rect x="240.36" y="306.43" width="17.22" height="8.71" fill="#0000bf"/>
<rect x="257.28" y="306.43" width="17.22" height="8.71" fill="#0000b2"/>
<rect x="274.2" y="306.43" width="8.76" height="8.71" fill="#0000b6"/>
<rect x="282.66" y="306.43" width="8.76" height="8.71" fill="#0000bf"/>
<rect x="291.12" y="306.43" width="8.76" height="8.71" fill="#0000c4"/>
<rect x="299.58" y="306.43" width="8.76" height="8.71" fill="#0000cd"/>
<rect x="308.04" y="306.43" width="8.76" height="8.71" fill="#0000d6"/>
<rect x="316.5" y="306.43" width="8.76" height="8.71" fill="#0000df"/>
<rect x="324.96" y="306.43" width="8.76" height="8.71" fill="#0000ed"/>
<rect x="333.42" y="306.43" width="8.76" height="8.71" fill="#0000fa"/>
<rect x="341.88" y="306.43" width="8.76" height="8.71" fill="#0000ff"/>
<rect x="350.34" y="306.43" width="8.76" height="8.71" fill="#0004ff"/>
<rect x="358.8" y="306.43" width="8.76" height="8.71" fill="#001cff"/>
<rect x="367.26" y="306.43" width="8.76" height="8.71" fill="#0034ff"/>
<rect x="375.72" y="306.43" width="8.76" height="8.71" fill="#004cff"/>
<rect x="384.18" y="306.43" width="8.76" height="8.71" fill="#006cff"/>
<rect x="392.64" y="306.43" width="8.76" height="8.71" fill="#0084ff"/>
<rect x="401.1" y="306.43" width="8.76" height="8.71" fill="#00a0ff"/>
<rect x="409.56" y="306.43" width="8.76" height="8.71" fill="#00b4ff"/>
<rect x="418.02" y="306.43" width="8.76" height="8.71" fill="#00c8ff"/>
<rect x="426.48" y="306.43" width="8.76" height="8.71" fill="#00dcfe"/>
<rect x="434.94" y="306.43" width="8.76" height="8.71" fill="#00e4f8"/>
<rect x="443.4" y="306.43" width="8.76" height="8.71" fill="#00e0fb"/>
<rect x="451.86" y="306.43" width="8.76" height="8.71" fill="#00d4ff"/>
<rect x="460.32" y="306.43" width="8.76" height="8.71" fill="#00c4ff"/>
<rect x="468.78" y="306.43" width="8.76" height="8.71" fill="#00b8ff"/>
<rect x="477.24" y="306.43" width="8.76" height="8.71" fill="#00acff"/>
<rect x="485.7" y="306.43" width="8.76" height="8.71" fill="#009cff"/>
<rect x="494.16" y="306.43" width="8.76" height="8.71" fill="#008cff"/>
<rect x="502.62" y="306.43" width="8.76" height="8.71" fill="#007cff"/>
<rect x="511.08" y="306.43" width="8.76" height="8.71" fill="#006cff"/>
<rect x="519.54" y="306.43" width="8.76" height="8.71" fill="#0054ff"/>
<rect x="528" y="306.43" width="8.76" height="8.71" fill="#004cff"/>
<rect x="536.46" y="306.43" width="8.76" height="8.71" fill="#0038ff"/>
<rect x="544.92" y="306.43" width="8.76" height="8.71" fill="#0020ff"/>
<rect x="553.38" y="306.43" width="8.76" height="8.71" fill="#000cff"/>
<rect x="561.84" y="306.43" width="17.22" height="8.71" fill="#0000ff"/>
<rect x="578.76" y="306.43" width="8.76" height="8.71" fill="#0000f1"/>
<rect x="587.22" y="306.43" width="8.76" height="8.71" fill="#0000e8"/>
<rect x="595.68" y="306.43" width="17.22" height="8.71" fill="#0000df"/>
<rect x="612.6" y="306.43" width="25.68" height="8.71" fill="#0000d6"/>
<rect x="637.98" y="306.43" width="25.68" height="8.71" fill="#0000da"/>
<rect x="663.36" y="306.43" width="25.68" height="8.71" fill="#0000f1"/>
<rect x="688.74" y="306.43" width="25.38" height="8.71" fill="#0000f6"/>
<rect x="105" y="314.84" width="76.44" height="8.71" fill="#0000df"/>
<rect x="181.14" y="314.84" width="17.22" height="8.71" fill="#0000da"/>
<rect x="198.06" y="314.84" width="42.6" height="8.71" fill="#0000cd"/>
<rect x="240.36" y="314.84" width="42.6" height="8.71" fill="#0000bf"/>
<rect x="282.66" y="314.84" width="8.76" height="8.71" fill="#0000c4"/>
<rect x="291.12" y="314.84" width="8.76" height="8.71" fill="#0000c8"/>
<rect x="299.58" y="314.84" width="8.76" height="8.71" fill="#0000d1"/>
<rect x="308.04" y="314.84" width="8.76" height="8.71" fill="#0000df"/>
<rect x="316.5" y="314.84" width="8.76" height="8.71" fill="#0000e3"/>
<rect x="324.96" y="314.84" width="8.76" height="8.71" fill="#0000ed"/>
<rect x="333.42" y="314.84" width="8.76" height="8.71" fill="#0000f6"/>
<rect x="341.88" y="314.84" width="17.22" height="8.71" fill="#0000ff"/>
<rect x="358.8" y="314.84" width="8.76" height="8.71" fill="#0014ff"/>
<rect x="367.26" y="314.84" width="8.76" height="8.71" fill="#0028ff"/>
<rect x="375.72" y="314.84" width="8.76" height="8.71" fill="#0038ff"/>
<rect x="384.18" y="314.84" width="8.76" height="8.71" fill="#0060ff"/>
<rect x="392.64" y="314.84" width="8.76" height="8.71" fill="#0078ff"/>
<rect x="401.1" y="314.84" width="8.76" height="8.71" fill="#008cff"/>
<rect x="409.56" y="314.84" width="8.76" height="8.71" fill="#00a0ff"/>
<rect x="418.02" y="314.84" width="8.76" height="8.71" fill="#00b4ff"/>
<rect x="426.48" y="314.84" width="17.22" height="8.71" fill="#00c4ff"/>
<rect x="443.4" y="314.84" width="8.76" height="8.71" fill="#00c0ff"/>
<rect x="451.86" y="314.84" width="8.76" height="8.71" fill="#00bcff"/>
<rect x="460.32" y="314.84" width="8.76" height="8.71" fill="#00b0ff"/>
<rect x="468.78" y="314.84" width="8.76" height="8.71" fill="#00a4ff"/>
<rect x="477.24" y="314.84" width="8.76" height="8.71" fill="#0098ff"/>
<rect x="485.7" y="314.84" width="8.76" height="8.71" fill="#008cff"/>
<rect x="494.16" y="314.84" width="8.76" height="8.71" fill="#0074ff"/>
<rect x="502.62" y="314.84" width="8.76" height="8.71" fill="#006cff"/>
<rect x="511.08" y="314.84" width="8.76" height="8.71" fill="#0060ff"/>
<rect x="519.54" y="314.84" width="8.76" height="8.71" fill="#0054ff"/>
<rect x="528" y="314.84" width="8.76" height="8.71" fill="#0040ff"/>
<rect x="536.46" y="314.84" width="8.76" height="8.71" fill="#002cff"/>
<rect x="544.92" y="314.84" width="8.76" height="8.71" fill="#0018ff"/>
<rect x="553.38" y="314.84" width="8.76" height="8.71" fill="#0004ff"/>
<rect x="561.84" y="314.84" width="8.76" height="8.71" fill="#0000ff"/>
<rect x="570.3" y="314.84" width="8.76" height="8.71" fill="#0000f6"/>
<rect x="578.76" y="314.84" width="8.76" height="8.71" fill="#0000ed"/>
<rect x="587.22" y="314.84" width="8.76" height="8.71" fill="#0000df"/>
<rect x="595.68" y="314.84" width="8.76" height="8.71" fill="#0000da"/>
<rect x="604.14" y="314.84" width="8.76" height="8.71" fill="#0000d6"/>
<rect x="612.6" y="314.84" width="25.68" height="8.71" fill="#0000c8"/>
<rect x="637.98" y="314.84" width="25.68" height="8.71" fill="#0000cd"/>
<rect x="663.36" y="314.84" width="25.68" height="8.71" fill="#0000df"/>
<rect x="688.74" y="314.84" width="25.38" height="8.71" fill="#0000e8"/>
<rect x="105" y="323.25" width="59.52" height="8.71" fill="#0000da"/>
<rect x="164.22" y="323.25" width="51.06" height="8.71" fill="#0000d6"/>
<rect x="214.98" y="323.25" width="42.6" height="8.71" fill="#0000cd"/>
<rect x="257.28" y="323.25" width="25.68" height="8.71" fill="#0000c8"/>
<rect x="282.66" y="323.25" width="8.76" height="8.71" fill="#0000cd"/>
<rect x="291.12" y="323.25" width="8.76" height="8.71" fill="#0000d1"/>
<rect x="299.58" y="323.25" width="8.76" height="8.71" fill="#0000d6"/>
<rect x="308.04" y="323.25" width="8.76" height="8.71" fill="#0000da"/>
<rect x="316.5" y="323.25" width="8.76" height="8.71" fill="#0000e3"/>
<rect x="324.96" y="323.25" width="8.76" height="8.71" fill="#0000ed"/>
<rect x="333.42" y="323.25" width="8.76" height="8.71" fill="#0000f1"/>
<rect x="341.88" y="323.25" width="8.76" height="8.71" fill="#0000fa"/>
<rect x="350.34" y="323.25" width="8.76" height="8.71" fill="#0000ff"/>
<rect x="358.8" y="323.25" width="8.76" height="8.71" fill="#0008ff"/>
<rect x="367.26" y="323.25" width="8.76" height="8.71" fill="#0014ff"/>
<rect x="375.72" y="323.25" width="8.76" height="8.71" fill="#002cff"/>
<rect x="384.18" y="323.25" width="8.76" height="8.71" fill="#004cff"/>
<rect x="392.64" y="323.25" width="8.76" height="8.71" fill="#0060ff"/>
<rect x="401.1" y="323.25" width="8.76" height="8.71" fill="#0074ff"/>
<rect x="409.56" y="323.25" width="8.76" height="8.71" fill="#0088ff"/>
<rect x="418.02" y="323.25" width="8.76" height="8.71" fill="#009cff"/>
<rect x="426.48" y="323.25" width="8.76" height="8.71" fill="#00a4ff"/>
<rect x="434.94" y="323.25" width="17.22" height="8.71" fill="#00acff"/>
<rect x="451.86" y="323.25" width="8.76" height="8.71" fill="#00a8ff"/>
<rect x="460.32" y="323.25" width="8.76" height="8.71" fill="#009cff"/>
<rect x="468.78" y="323.25" width="8.76" height="8.71" fill="#0090ff"/>
<rect x="477.24" y="323.25" width="8.76" height="8.71" fill="#0084ff"/>
<rect x="485.7" y="323.25" width="8.76" height="8.71" fill="#0078ff"/>
<rect x="494.16" y="323.25" width="8.76" height="8.71" fill="#006cff"/>
<rect x="502.62" y="323.25" width="8.76" height="8.71" fill="#0060ff"/>
<rect x="511.08" y="323.25" width="8.76" height="8.71" fill="#0054ff"/>
<rect x="519.54" y="323.25" width="8.76" height="8.71" fill="#004cff"/>
<rect x="528" y="323.25" width="8.76" height="8.71" fill="#0038ff"/>
<rect x="536.46" y="323.25" width="8.76" height="8.71" fill="#0020ff"/>
<rect x="544.92" y="323.25" width="8.76" height="8.71" fill="#0014ff"/>
<rect x="553.38" y="323.25" width="8.76" height="8.71" fill="#0004ff"/>
<rect x="561.84" y="323.25" width="8.76" height="8.71" fill="#0000ff"/>
<rect x="570.3" y="323.25" width="8.76" height="8.71" fill="#0000f1"/>
<rect x="578.76" y="323.25" width="8.76" height="8.71" fill="#0000e8"/>
<rect x="587.22" y="323.25" width="8.76" height="8.71" fill="#0000da"/>
<rect x="595.68" y="323.25" width="8.76" height="8.71" fill="#0000d6"/>
<rect x="604.14" y="323.25" width="8.76" height="8.71" fill="#0000cd"/>
<rect x="612.6" y="323.25" width="51.06" height="8.71" fill="#0000c4"/>
<rect x="663.36" y="323.25" width="50.76" height="8.71" fill="#0000d6"/>
<rect x="105" y="331.66" width="177.96" height="8.71" fill="#0000cd"/>
<rect x="282.66" y="331.66" width="8.76" height="8.71" fill="#0000d1"/>
<rect x="291.12" y="331.66" width="8.76" height="8.71" fill="#0000d6"/>
<rect x="299.58" y="331.66" width="17.22" height="8.71" fill="#0000da"/>
<rect x="316.5" y="331.66" width="8.76" height="8.71" fill="#0000e3"/>
<rect x="324.96" y="331.66" width="8.76" height="8.71" fill="#0000e8"/>
<rect x="333.42" y="331.66" width="8.76" height="8.71" fill="#0000f1"/>
<rect x="341.88" y="331.66" width="8.76" height="8.71" fill="#0000fa"/>
<rect x="350.34" y="331.66" width="17.22" height="8.71" fill="#0000ff"/>
<rect x="367.26" y="331.66" width="8.76" height="8.71" fill="#0008ff"/>
<rect x="375.72" y="331.66" width="8.76" height="8.71" fill="#0014ff"/>
<rect x="384.18" y="331.66" width="8.76" height="8.71" fill="#0034ff"/>
<rect x="392.64" y="331.66" width="8.76" height="8.71" fill="#0048ff"/>
<rect x="401.1" y="331.66" width="8.76" height="8.71" fill="#0060ff"/>
<rect x="409.56" y="331.66" width="8.76" height="8.71" fill="#0074ff"/>
<rect x="418.02" y="331.66" width="8.76" height="8.71" fill="#007cff"/>
<rect x="426.48" y="331.66" width="8.76" height="8.71" fill="#0084ff"/>
<rect x="434.94" y="331.66" width="8.76" height="8.71" fill="#008cff"/>
<rect x="443.4" y="331.66" width="17.22" height="8.71" fill="#0088ff"/>
<rect x="460.32" y="331.66" width="8.76" height="8.71" fill="#0084ff"/>
<rect x="468.78" y="331.66" width="8.76" height="8.71" fill="#0078ff"/>
<rect x="477.24" y="331.66" width="8.76" height="8.71" fill="#006cff"/>
<rect x="485.7" y="331.66" width="8.76" height="8.71" fill="#0060ff"/>
<rect x="494.16" y="331.66" width="8.76" height="8.71" fill="#0058ff"/>
<rect x="502.62" y="331.66" width="17.22" height="8.71" fill="#004cff"/>
<rect x="519.54" y="331.66" width="8.76" height="8.71" fill="#0040ff"/>
<rect x="528" y="331.66" width="8.76" height="8.71" fill="#002cff"/>
<rect x="536.46" y="331.66" width="8.76" height="8.71" fill="#001cff"/>
<rect x="544.92" y="331.66" width="8.76" height="8.71" fill="#000cff"/>
<rect x="553.38" y="331.66" width="17.22" height="8.71" fill="#0000ff"/>
<rect x="570.3" y="331.66" width="8.76" height="8.71" fill="#0000f1"/>
<rect x="578.76" y="331.66" width="8.76" height="8.71" fill="#0000e8"/>
<rect x="587.22" y="331.66" width="8.76" height="8.71" fill="#0000da"/>
<rect x="595.68" y="331.66" width="8.76" height="8.71" fill="#0000cd"/>
<rect x="604.14" y="331.66" width="8.76" height="8.71" fill="#0000c8"/>
<rect x="612.6" y="331.66" width="42.6" height="8.71" fill="#0000bf"/>
<rect x="654.9" y="331.66" width="59.22" height="8.71" fill="#0000c4"/>
<rect x="105" y="340.07" width="34.14" height="8.71" fill="#0000c8"/>
<rect x="138.84" y="340.07" width="76.44" height="8.71" fill="#0000c4"/>
<rect x="214.98" y="340.07" width="17.22" height="8.71" fill="#0000c8"/>
<rect x="231.9" y="340.07" width="51.06" height="8.71" fill="#0000cd"/>
<rect x="282.66" y="340.07" width="8.76" height="8.71" fill="#0000d1"/>
<rect x="291.12" y="340.07" width="8.76" height="8.71" fill="#0000d6"/>
<rect x="299.58" y="340.07" width="17.22" height="8.71" fill="#0000da"/>
<rect x="316.5" y="340.07" width="8.76" height="8.71" fill="#0000df"/>
<rect x="324.96" y="340.07" width="8.76" height="8.71" fill="#0000e3"/>
<rect x="333.42" y="340.07" width="8.76" height="8.71" fill="#0000e8"/>
<rect x="341.88" y="340.07" width="8.76" height="8.71" fill="#0000ed"/>
<rect x="350.34" y="340.07" width="8.76" height="8.71" fill="#0000f6"/>
<rect x="358.8" y="340.07" width="17.22" height="8.71" fill="#0000ff"/>
<rect x="375.72" y="340.07" width="8.76" height="8.71" fill="#0004ff"/>
<rect x="384.18" y="340.07" width="8.76" height="8.71" fill="#0010ff"/>
<rect x="392.64" y="340.07" width="8.76" height="8.71" fill="#0028ff"/>
<rect x="401.1" y="340.07" width="8.76" height="8.71" fill="#003cff"/>
<rect x="409.56" y="340.07" width="8.76" height="8.71" fill="#0050ff"/>
<rect x="418.02" y="340.07" width="8.76" height="8.71" fill="#0058ff"/>
<rect x="426.48" y="340.07" width="8.76" height="8.71" fill="#0064ff"/>
<rect x="434.94" y="340.07" width="8.76" height="8.71" fill="#006cff"/>
<rect x="443.4" y="340.07" width="17.22" height="8.71" fill="#0068ff"/>
<rect x="460.32" y="340.07" width="17.22" height="8.71" fill="#0064ff"/>
<rect x="477.24" y="340.07" width="8.76" height="8.71" fill="#0058ff"/>
<rect x="485.7" y="340.07" width="8.76" height="8.71" fill="#004cff"/>
<rect x="494.16" y="340.07" width="17.22" height="8.71" fill="#0040ff"/>
<rect x="511.08" y="340.07" width="8.76" height="8.71" fill="#0038ff"/>
<rect x="519.54" y="340.07" width="8.76" height="8.71" fill="#002cff"/>
<rect x="528" y="340.07" width="8.76" height="8.71" fill="#0024ff"/>
<rect x="536.46" y="340.07" width="8.76" height="8.71" fill="#0014ff"/>
<rect x="544.92" y="340.07" width="8.76" height="8.71" fill="#0004ff"/>
<rect x="553.38" y="340.07" width="8.76" height="8.71" fill="#0000ff"/>
<rect x="561.84" y="340.07" width="8.76" height="8.71" fill="#0000f6"/>
<rect x="570.3" y="340.07" width="8.76" height="8.71" fill="#0000ed"/>
<rect x="578.76" y="340.07" width="8.76" height="8.71" fill="#0000df"/>
<rect x="587.22" y="340.07" width="8.76" height="8.71" fill="#0000d6"/>
<rect x="595.68" y="340.07" width="8.76" height="8.71" fill="#0000cd"/>
<rect x="604.14" y="340.07" width="8.76" height="8.71" fill="#0000c8"/>
<rect x="612.6" y="340.07" width="42.6" height="8.71" fill="#0000b6"/>
<rect x="654.9" y="340.07" width="59.22" height="8.71" fill="#0000bf"/>
<rect x="105" y="348.48" width="186.42" height="8.71" fill="#0000bf"/>
<rect x="291.12" y="348.48" width="8.76" height="8.71" fill="#0000c4"/>
<rect x="299.58" y="348.48" width="17.22" height="8.71" fill="#0000c8"/>
<rect x="316.5" y="348.48" width="17.22" height="8.71" fill="#0000cd"/>
<rect x="333.42" y="348.48" width="8.76" height="8.71" fill="#0000d6"/>
<rect x="341.88" y="348.48" width="8.76" height="8.71" fill="#0000df"/>
<rect x="350.34" y="348.48" width="8.76" height="8.71" fill="#0000ed"/>
<rect x="358.8" y="348.48" width="8.76" height="8.71" fill="#0000fa"/>
<rect x="367.26" y="348.48" width="17.22" height="8.71" fill="#0000ff"/>
<rect x="384.18" y="348.48" width="8.76" height="8.71" fill="#0004ff"/>
<rect x="392.64" y="348.48" width="8.76" height="8.71" fill="#0010ff"/>
<rect x="401.1" y="348.48" width="8.76" height="8.71" fill="#0018ff"/>
<rect x="409.56" y="348.48" width="8.76" height="8.71" fill="#0024ff"/>
<rect x="418.02" y="348.48" width="8.76" height="8.71" fill="#002cff"/>
<rect x="426.48" y="348.48" width="8.76" height="8.71" fill="#0034ff"/>
<rect x="434.94" y="348.48" width="8.76" height="8.71" fill="#0038ff"/>
<rect x="443.4" y="348.48" width="25.68" height="8.71" fill="#003cff"/>
<rect x="468.78" y="348.48" width="17.22" height="8.71" fill="#0038ff"/>
<rect x="485.7" y="348.48" width="8.76" height="8.71" fill="#0034ff"/>
<rect x="494.16" y="348.48" width="8.76" height="8.71" fill="#002cff"/>
<rect x="502.62" y="348.48" width="8.76" height="8.71" fill="#0024ff"/>
<rect x="511.08" y="348.48" width="8.76" height="8.71" fill="#0018ff"/>
<rect x="519.54" y="348.48" width="8.76" height="8.71" fill="#000cff"/>
<rect x="528" y="348.48" width="8.76" height="8.71" fill="#0004ff"/>
<rect x="536.46" y="348.48" width="17.22" height="8.71" fill="#0000ff"/>
<rect x="553.38" y="348.48" width="17.22" height="8.71" fill="#0000f1"/>
<rect x="570.3" y="348.48" width="8.76" height="8.71" fill="#0000e8"/>
<rect x="578.76" y="348.48" width="8.76" height="8.71" fill="#0000df"/>
<rect x="587.22" y="348.48" width="8.76" height="8.71" fill="#0000d6"/>
<rect x="595.68" y="348.48" width="8.76" height="8.71" fill="#0000cd"/>
<rect x="604.14" y="348.48" width="8.76" height="8.71" fill="#0000c8"/>
<rect x="612.6" y="348.48" width="8.76" height="8.71" fill="#0000bf"/>
<rect x="621.06" y="348.48" width="8.76" height="8.71" fill="#0000bb"/>
<rect x="629.52" y="348.48" width="17.22" height="8.71" fill="#0000b6"/>
<rect x="646.44" y="348.48" width="67.68" height="8.71" fill="#0000b2"/>
<rect x="105" y="356.89" width="211.8" height="8.71" fill="#0000b6"/>
<rect x="316.5" y="356.89" width="17.22" height="8.71" fill="#0000bb"/>
<rect x="333.42" y="356.89" width="8.76" height="8.71" fill="#0000c4"/>
<rect x="341.88" y="356.89" width="8.76" height="8.71" fill="#0000cd"/>
<rect x="350.34" y="356.89" width="8.76" height="8.71" fill="#0000da"/>
<rect x="358.8" y="356.89" width="8.76" height="8.71" fill="#0000e8"/>
<rect x="367.26" y="356.89" width="8.76" height="8.71" fill="#0000f1"/>
<rect x="375.72" y="356.89" width="8.76" height="8.71" fill="#0000fa"/>
<rect x="384.18" y="356.89" width="34.14" height="8.71" fill="#0000ff"/>
<rect x="418.02" y="356.89" width="8.76" height="8.71" fill="#000cff"/>
<rect x="426.48" y="356.89" width="8.76" height="8.71" fill="#0014ff"/>
<rect x="434.94" y="356.89" width="8.76" height="8.71" fill="#0018ff"/>
<rect x="443.4" y="356.89" width="25.68" height="8.71" fill="#001cff"/>
<rect x="468.78" y="356.89" width="17.22" height="8.71" fill="#0018ff"/>
<rect x="485.7" y="356.89" width="8.76" height="8.71" fill="#0014ff"/>
<rect x="494.16" y="356.89" width="8.76" height="8.71" fill="#0010ff"/>
<rect x="502.62" y="356.89" width="8.76" height="8.71" fill="#0004ff"/>
<rect x="511.08" y="356.89" width="25.68" height="8.71" fill="#0000ff"/>
<rect x="536.46" y="356.89" width="8.76" height="8.71" fill="#0000f6"/>
<rect x="544.92" y="356.89" width="8.76" height="8.71" fill="#0000f1"/>
<rect x="553.38" y="356.89" width="8.76" height="8.71" fill="#0000ed"/>
<rect x="561.84" y="356.89" width="8.76" height="8.71" fill="#0000e3"/>
<rect x="570.3" y="356.89" width="8.76" height="8.71" fill="#0000da"/>
<rect x="578.76" y="356.89" width="8.76" height="8.71" fill="#0000d6"/>
<rect x="587.22" y="356.89" width="8.76" height="8.71" fill="#0000d1"/>
<rect x="595.68" y="356.89" width="8.76" height="8.71" fill="#0000cd"/>
<rect x="604.14" y="356.89" width="8.76" height="8.71" fill="#0000c8"/>
<rect x="612.6" y="356.89" width="8.76" height="8.71" fill="#0000c4"/>
<rect x="621.06" y="356.89" width="17.22" height="8.71" fill="#0000bf"/>
<rect x="637.98" y="356.89" width="8.76" height="8.71" fill="#0000bb"/>
<rect x="646.44" y="356.89" width="42.6" height="8.71" fill="#0000b6"/>
<rect x="688.74" y="356.89" width="25.38" height="8.71" fill="#0000b2"/>
<rect x="105" y="365.3" width="93.36" height="8.71" fill="#0000c8"/>
<rect x="198.06" y="365.3" width="84.9" height="8.71" fill="#0000c4"/>
<rect x="282.66" y="365.3" width="17.22" height="8.71" fill="#0000bf"/>
<rect x="299.58" y="365.3" width="8.76" height="8.71" fill="#0000bb"/>
<rect x="308.04" y="365.3" width="8.76" height="8.71" fill="#0000b6"/>
<rect x="316.5" y="365.3" width="25.68" height="8.71" fill="#0000b2"/>
<rect x="341.88" y="365.3" width="25.68" height="8.71" fill="#0000b6"/>
<rect x="367.26" y="365.3" width="8.76" height="8.71" fill="#0000d1"/>
<rect x="375.72" y="365.3" width="8.76" height="8.71" fill="#0000d6"/>
<rect x="384.18" y="365.3" width="8.76" height="8.71" fill="#0000e8"/>
<rect x="392.64" y="365.3" width="8.76" height="8.71" fill="#0000f6"/>
<rect x="401.1" y="365.3" width="8.76" height="8.71" fill="#0000fa"/>
<rect x="409.56" y="365.3" width="101.82" height="8.71" fill="#0000ff"/>
<rect x="511.08" y="365.3" width="8.76" height="8.71" fill="#0000f1"/>
<rect x="519.54" y="365.3" width="17.22" height="8.71" fill="#0000ed"/>
<rect x="536.46" y="365.3" width="8.76" height="8.71" fill="#0000e8"/>
<rect x="544.92" y="365.3" width="8.76" height="8.71" fill="#0000e3"/>
<rect x="553.38" y="365.3" width="8.76" height="8.71" fill="#0000df"/>
<rect x="561.84" y="365.3" width="17.22" height="8.71" fill="#0000da"/>
<rect x="578.76" y="365.3" width="8.76" height="8.71" fill="#0000d6"/>
<rect x="587.22" y="365.3" width="8.76" height="8.71" fill="#0000d1"/>
<rect x="595.68" y="365.3" width="8.76" height="8.71" fill="#0000cd"/>
<rect x="604.14" y="365.3" width="8.76" height="8.71" fill="#0000c8"/>
<rect x="612.6" y="365.3" width="8.76" height="8.71" fill="#0000bf"/>
<rect x="621.06" y="365.3" width="8.76" height="8.71" fill="#0000bb"/>
<rect x="629.52" y="365.3" width="84.6" height="8.71" fill="#0000b6"/>
<rect x="105" y="373.71" width="17.22" height="8.71" fill="#0000d6"/>
<rect x="121.92" y="373.71" width="67.98" height="8.71" fill="#0000d1"/>
<rect x="189.6" y="373.71" width="67.98" height="8.71" fill="#0000cd"/>
<rect x="257.28" y="373.71" width="51.06" height="8.71" fill="#0000c8"/>
<rect x="308.04" y="373.71" width="25.68" height="8.71" fill="#0000c4"/>
<rect x="333.42" y="373.71" width="17.22" height="8.71" fill="#0000c8"/>
<rect x="350.34" y="373.71" width="8.76" height="8.71" fill="#0000cd"/>
<rect x="358.8" y="373.71" width="8.76" height="8.71" fill="#0000d1"/>
<rect x="367.26" y="373.71" width="17.22" height="8.71" fill="#0000d6"/>
<rect x="384.18" y="373.71" width="8.76" height="8.71" fill="#0000da"/>
<rect x="392.64" y="373.71" width="17.22" height="8.71" fill="#0000df"/>
<rect x="409.56" y="373.71" width="8.76" height="8.71" fill="#0000e3"/>
<rect x="418.02" y="373.71" width="17.22" height="8.71" fill="#0000e8"/>
<rect x="434.94" y="373.71" width="17.22" height="8.71" fill="#0000ed"/>
<rect x="451.86" y="373.71" width="25.68" height="8.71" fill="#0000f1"/>
<rect x="477.24" y="373.71" width="17.22" height="8.71" fill="#0000ed"/>
<rect x="494.16" y="373.71" width="25.68" height="8.71" fill="#0000e8"/>
<rect x="519.54" y="373.71" width="8.76" height="8.71" fill="#0000e3"/>
<rect x="528" y="373.71" width="17.22" height="8.71" fill="#0000df"/>
<rect x="544.92" y="373.71" width="8.76" height="8.71" fill="#0000da"/>
<rect x="553.38" y="373.71" width="17.22" height="8.71" fill="#0000d6"/>
<rect x="570.3" y="373.71" width="8.76" height="8.71" fill="#0000d1"/>
<rect x="578.76" y="373.71" width="25.68" height="8.71" fill="#0000cd"/>
<rect x="604.14" y="373.71" width="34.14" height="8.71" fill="#0000c8"/>
<rect x="637.98" y="373.71" width="76.14" height="8.71" fill="#0000c4"/>
<rect x="105" y="382.12" width="25.68" height="8.58" fill="#0000f1"/>
<rect x="130.38" y="382.12" width="34.14" height="8.58" fill="#0000ed"/>
<rect x="164.22" y="382.12" width="34.14" height="8.58" fill="#0000e8"/>
<rect x="198.06" y="382.12" width="17.22" height="8.58" fill="#0000e3"/>
<rect x="214.98" y="382.12" width="8.76" height="8.58" fill="#0000df"/>
<rect x="223.44" y="382.12" width="17.22" height="8.58" fill="#0000da"/>
<rect x="240.36" y="382.12" width="17.22" height="8.58" fill="#0000d6"/>
<rect x="257.28" y="382.12" width="17.22" height="8.58" fill="#0000d1"/>
<rect x="274.2" y="382.12" width="42.6" height="8.58" fill="#0000cd"/>
<rect x="316.5" y="382.12" width="17.22" height="8.58" fill="#0000c8"/>
<rect x="333.42" y="382.12" width="25.68" height="8.58" fill="#0000cd"/>
<rect x="358.8" y="382.12" width="25.68" height="8.58" fill="#0000d1"/>
<rect x="384.18" y="382.12" width="17.22" height="8.58" fill="#0000d6"/>
<rect x="401.1" y="382.12" width="17.22" height="8.58" fill="#0000da"/>
<rect x="418.02" y="382.12" width="25.68" height="8.58" fill="#0000df"/>
<rect x="443.4" y="382.12" width="17.22" height="8.58" fill="#0000e3"/>
<rect x="460.32" y="382.12" width="8.76" height="8.58" fill="#0000e8"/>
<rect x="468.78" y="382.12" width="17.22" height="8.58" fill="#0000e3"/>
<rect x="485.7" y="382.12" width="17.22" height="8.58" fill="#0000df"/>
<rect x="502.62" y="382.12" width="42.6" height="8.58" fill="#0000da"/>
<rect x="544.92" y="382.12" width="59.52" height="8.58" fill="#0000d6"/>
<rect x="604.14" y="382.12" width="25.68" height="8.58" fill="#0000da"/>
<rect x="629.52" y="382.12" width="84.6" height="8.58" fill="#0000df"/>
</g>
<g clip-path="url(#axclip)">
<path d="M129.4 133.1L132.1 128.5L138 126.5L148.8 123.5L156.6 124.3L163.4 125.2L175.2 126.3L183.7 127.3L187.1 126.5L193.8 125.5L197.2 124.8L202.3 126.5L209.1 126.0L215.8 127.5L220.9 128.7L227.7 129.2L231.1 128.7L234.4 127.7L241.2 129.4L248 129.4L251.4 128.7L253.9 126.5L251.4 124.8L253.9 122.5L257.3 124.8L259.8 126.8L261.5 127.7L265.8 129.9L269.1 126.5L275.1 126.2L275.9 128.2L275.1 131.5L270 132.1L266.6 133.2L263.2 135.8L258.1 137.8L254.8 140.8L253.4 144.2L257.3 147.5L261.5 147.2L264.9 148.4L270 150.4L274.5 150.7L274.7 154.3L276.7 155.9L277.6 157.3L280.1 156.8L280.5 154.3L279.3 151.7L282.7 150.0L284.4 148.4L283.5 145.8L281 144.5L282.7 142.5L281.8 138.4L286.1 138.6L292 140.0L295.4 140.8L296.2 144.2L298.7 145.3L302.1 144.5L304.2 142.0L308.9 146.7L310.6 149.2L313.1 150.9L316.5 152.2L319 155.1L319.6 155.9L314.8 157.1L312.3 159.0L305.5 158.8L301.3 159.0L297.9 161.0L294.5 164.0L297.1 162.3L301.3 160.8L304.8 161.3L303.8 162.7L301.6 162.7L304.2 164.3L304.7 165.7L307.2 166.4L309.7 166.7L312.3 166.0L310.1 167.4L306.4 168.4L303 170.2L301.8 169.7L302.1 168.6L304.7 167.2L302.5 167.4L300.4 167.7L300.1 168.4L297.1 169.4L295 170.1L294 171.6L295.4 173.1L292.8 173.8L289.4 174.4L288.6 175.1L288.4 176.6L286.9 178.0L286.1 177.1L286.7 179.0L285.2 180.8L285.4 181.3L286.1 184.0L283.9 185.0L281.8 186.4L279.8 187.6L277.1 189.2L276.2 191.3L276.1 192.4L277.4 195.6L278.3 198.3L277.9 200.8L276.7 201.2L275.4 199.5L273.9 196.8L273.7 194.6L271.7 192.9L269.5 193.4L267.4 192.3L264.9 192.4L262.9 192.4L262.5 194.3L260.7 194.3L258.5 193.6L255.1 193.4L253.4 194.1L250.5 195.8L249.2 197.1L249.3 199.7L248.5 202.2L248.3 205.6L249.2 208.4L250.7 210.9L252.2 211.9L253.9 212.8L257.3 212.1L259.3 211.6L260.3 210.1L260.8 208.1L264.1 207.2L266.6 207.2L266.9 208.4L265.8 210.6L265.2 212.6L264.4 212.5L264.6 214.0L263.6 216.5L264.1 216.8L265.8 216.8L268.3 216.7L270.8 216.8L273 218.2L272.5 220.7L272.3 223.2L272.2 224.9L273.7 226.9L275.1 228.1L276.7 228.6L278.8 227.6L280.5 227.4L283 228.9L282 231.3L281 229.4L279.3 228.3L277.9 229.6L277.6 231.1L275.9 230.4L273.7 229.6L272.2 228.9L272.3 228.3L270.5 227.1L268.8 226.2L268.8 224.7L266.6 222.4L265.8 221.5L265.2 221.0L263.2 220.9L260.7 220.0L257.8 219.0L254.8 216.3L253.1 216.3L250.5 217.0L247.1 216.0L244.6 214.8L241.2 213.1L238.7 212.5L236.1 210.8L235.3 209.1L235.6 207.2L234.4 205.1L233.6 204.2L231.1 201.4L228.9 200.3L228.5 198.5L226.8 197.1L226 196.3L224 194.6L222.6 191.6L222.4 190.9L219.7 190.1L219.6 191.3L220.1 192.9L221.8 194.6L222.9 196.3L224.3 198.8L225.5 200.5L226.8 202.5L228.5 204.4L227.8 204.9L227.2 203.9L224.3 201.9L224 199.7L221.8 198.3L220.1 196.8L220.6 196.0L219.2 194.3L217.5 192.1L216.2 189.9L215.7 188.7L215.3 187.6L213.5 186.2L211.6 185.5L209.7 185.2L209.1 183.5L207.4 181.5L206.5 179.8L205.7 179.0L204.3 177.0L203.5 175.4L203.8 173.1L203.1 171.4L204 168.6L204 165.7L203 162.8L202.8 162.0L205.7 162.3L206.5 163.5L206 161.0L205.3 160.5L203.1 159.3L200.6 158.1L198.1 157.6L197.6 155.9L196.4 155.1L194.7 153.4L193.5 151.4L192.1 150.0L190.5 148.9L187.9 146.7L185.4 145.0L182.8 145.3L181.2 144.5L177.8 143.0L174.4 142.5L170.2 142.3L166.8 141.3L163.4 141.1L162.5 142.5L160.8 143.0L157.5 143.8L157 141.6L159.2 140.5L156.6 141.1L154.9 142.8L153.2 144.2L152.4 145.8L149 147.5L145.6 149.2L142.2 150.0L138.9 150.9L135 151.6L138.9 149.7L142.2 149.2L145.6 147.5L147.3 145.0L145.6 144.5L142.2 144.7L139.7 144.8L139.7 142.8L136.3 142.8L133.8 141.6L132.9 139.8L133.8 138.3L135.5 137.4L138 137.1L141.4 136.6L141.7 134.9L138.9 135.1L134.6 135.1L132.1 134.4L129.4 133.1ZM290.3 111.9L298.7 109.7L303.8 107.0L312.3 105.5L325.8 105.0L337.7 104.1L349.5 103.1L359.7 102.8L371.5 103.8L380 105.5L385 106.7L393.5 106.3L390.1 108.8L383.3 109.7L381.7 112.2L382.5 114.7L380 116.4L380.8 118.4L376.6 119.8L375.7 122.0L376.6 124.8L373.2 125.3L376.6 125.5L374 126.5L369.8 128.2L363 128.9L358 130.7L353.7 132.4L349.5 133.1L346.1 134.1L344.4 136.6L341.9 139.1L341 141.6L339.4 142.6L336 141.5L331.7 140.8L329.2 138.3L326.7 135.8L325 133.2L322.9 130.7L323.3 128.2L327.5 126.5L321.6 124.8L320.7 122.3L318.2 118.9L314.8 116.4L307.2 115.2L298.7 115.6L293.7 113.5L290.3 111.9ZM283 228.9L283.7 229.8L284.7 228.3L285.9 227.4L286.1 225.6L287.2 224.7L289.4 224.4L291.6 223.4L292.7 222.5L293.2 223.6L292.1 224.1L292.7 225.2L293.7 224.9L295 224.1L295.4 222.9L295.9 224.1L298.2 225.1L298.7 225.7L302.1 225.6L303.8 226.4L305.5 225.7L308.1 225.4L309.1 225.4L308.1 226.2L310.6 227.4L310.9 229.1L312.6 229.4L314.8 232.0L317.4 233.5L320.4 233.5L322.4 233.6L325 235.0L326.3 236.3L327.5 238.4L329.2 240.4L329.2 242.1L328.4 243.4L330.9 243.7L331.7 245.1L333.4 244.6L336 245.4L338.5 246.8L338.8 247.6L341 247.4L343.6 248.3L346.1 248.1L348.7 249.6L351.2 251.5L354.1 252.1L354.9 255.3L354.6 258.4L352.9 260.6L351.2 262.2L349.5 264.9L347.8 267.8L347.8 271.2L347.5 273.7L346.5 276.4L345.6 277.9L344.4 280.4L342.7 282.1L340.7 282.1L338.2 282.6L335.5 283.8L332.9 285.8L331.7 287.1L331.6 289.7L331.2 291.5L329.2 293.5L327.8 295.9L325.6 297.6L323.4 300.3L320.9 302.1L318.7 302.1L316 301.3L315 300.6L315 301.6L317 303.1L317.4 304.5L316.5 307.3L314 308.5L310.6 309.0L308.6 308.7L308.6 311.5L308.1 312.4L303.8 312.0L303.8 314.0L306 314.9L304.7 315.6L303.8 316.6L303.3 319.1L300.4 319.9L299.6 321.6L302.1 322.5L302.5 323.8L299.6 326.3L297.9 328.0L297.1 330.0L298.1 331.4L296.2 331.7L294 332.2L293.8 333.9L292 333.6L289.8 332.4L287.4 331.7L286.6 329.2L286.1 325.8L286.1 322.5L287.7 320.8L287.7 318.2L289.4 316.6L290.3 314.0L288.9 312.4L289.4 309.8L289.8 306.5L290.6 303.6L292 300.6L292.7 298.9L292.8 294.7L293.2 292.2L294 288.8L294.5 285.4L294.7 282.9L295 278.7L294.9 274.3L293.2 273.0L290.6 271.5L286.9 269.5L284.7 266.8L283.3 263.8L281.5 260.2L280.1 257.2L278.4 254.8L276.6 253.5L276.2 251.3L277.8 249.3L278.8 247.6L276.9 247.1L277.1 245.1L278.3 243.4L278.4 242.1L280.1 241.2L280.5 240.7L281.1 239.2L282.7 237.5L283 235.8L282.7 234.0L282.8 232.1L282 231.3L283 228.9ZM297.7 331.9L298.4 333.1L299.6 334.2L301.3 335.1L303.5 335.4L301.3 336.1L298.7 336.8L296.2 336.4L293.7 335.7L292 334.7L293.7 334.2L295 333.4L294.9 332.2L296.5 331.9L297.7 331.9ZM403.8 183.2L404.8 183.0L408.7 184.0L411.8 184.4L413.8 183.0L416.3 182.0L418.9 181.5L422.3 181.5L427 181.2L430.4 180.7L431.2 181.2L432.4 181.0L431.6 182.2L431.7 183.4L432.4 184.5L430.7 185.9L430.9 186.4L432.4 186.9L433.4 187.6L436.1 188.1L439.5 188.9L440.4 190.8L443.4 191.4L445.9 192.4L447.6 191.3L447.6 189.2L450.2 188.1L452.7 188.4L456.1 190.1L460 190.6L462.9 191.4L464.6 190.8L466.3 190.2L468.5 190.8L468.8 192.9L469 193.8L470.5 196.3L471.3 198.0L472.2 200.0L473.9 203.0L474.2 204.7L476.1 206.4L476.7 208.1L476.7 210.3L478.9 213.0L480.6 217.2L483.2 219.0L485.7 221.5L487.1 222.4L486.9 223.9L488.2 225.7L489.9 225.9L493.3 224.7L496.7 224.4L500.4 223.4L500.1 225.9L498.9 228.3L497.6 231.6L495.9 235.0L493.3 238.0L491.6 239.7L490.4 240.0L487.4 242.9L484.9 245.1L483.2 247.1L481.5 249.3L480.8 250.3L479.8 253.5L480.6 255.2L480.5 258.2L481.5 260.7L482.3 261.9L482.5 265.3L482.7 268.6L480.6 271.5L477.2 272.8L475.6 275.0L473 276.9L473.5 279.6L473.9 283.4L470.5 285.4L469.1 287.0L469.3 288.8L468.3 291.8L466.3 293.7L464.6 296.0L462 298.4L459.5 299.9L457.3 300.6L453.6 300.8L451 300.9L447.6 301.9L445.6 301.1L444.9 300.4L444.3 298.4L444.8 296.4L443.1 293.9L441.7 291.5L439.5 288.3L438.3 284.6L438.3 281.9L436.6 278.7L434.9 275.0L433.8 272.3L433.8 270.0L434.9 266.1L436.6 264.1L437.1 261.4L436.1 258.2L434.9 254.3L434.4 253.5L434.1 251.8L433.3 250.6L432.4 249.8L430.4 247.6L429 245.1L429.5 242.9L430.2 241.7L430 239.5L430.4 238.0L430 236.8L428.7 235.8L427.8 235.7L425.6 236.0L424 236.2L422.8 234.7L421.4 232.8L419.6 232.6L417.2 232.8L415.8 233.1L413.8 234.0L411.3 235.0L410.4 235.3L408.7 234.8L407 234.5L403.6 235.3L401.1 236.0L398.6 234.5L395.5 232.8L394.3 231.8L392.7 230.8L391.5 229.1L391.3 227.8L390.6 227.4L389.1 225.7L388.4 224.9L387.2 223.6L385.5 222.4L385.4 220.9L385 219.3L384.2 218.7L385.4 217.0L385.9 215.6L386.4 213.1L386.2 210.6L385.9 208.9L385 208.1L385 206.4L386.4 203.9L387.1 203.0L388.6 200.5L389.4 199.2L391 197.1L392 196.5L394.3 195.5L396.5 194.1L397.4 192.3L397.2 190.4L398.2 188.7L399.4 187.4L400.9 186.9L402.3 186.0L403.3 184.2L403.8 183.2ZM497.2 263.6L498.7 266.9L499.2 269.5L498.1 270.3L497.4 272.8L496.4 277.0L495 281.2L493.7 285.1L490.3 286.5L488.2 285.4L487.1 281.2L487.4 279.2L488.8 277.0L488.2 274.5L488.8 271.2L490.8 270.3L492.5 269.5L494.2 268.3L495 266.1L496.4 264.4L497.2 263.6ZM404.7 182.7L403.1 181.8L401.3 180.8L398.7 181.2L398.9 178.6L397.7 178.3L398.6 176.1L399.1 174.1L398.7 171.9L398.1 171.1L400.3 169.9L403.6 170.1L407 170.4L410.8 170.4L411.6 168.6L411.9 166.7L411.8 165.7L410.1 164.0L408.7 163.3L406.2 162.8L405.7 162.0L407.9 161.3L410.4 161.7L411.1 159.8L411.9 160.3L414 160.1L416.3 159.1L416.5 157.8L418 157.4L419.7 156.9L420.6 155.9L421.8 154.3L424 153.6L425.6 153.2L427.7 153.2L428.4 152.1L428.4 150.2L427.5 148.4L428.4 147.4L431.6 146.3L431.2 148.4L432.1 149.2L430.4 150.6L430.7 151.7L432.4 152.6L434.9 151.9L436.6 151.9L438 152.7L440.9 152.1L444.3 151.2L445.4 151.9L447.6 151.9L449.3 150.4L449.3 147.9L450.3 146.5L452 146.3L454.4 147.5L455.1 145.3L453.6 144.5L453.6 143.8L455.8 143.3L457.8 143.2L461.2 143.3L464.9 142.6L462.4 141.6L458.6 141.8L456.1 142.1L452.7 142.6L450.2 141.5L449.8 140.0L450.2 137.9L451.9 136.6L455.3 134.6L456.8 133.9L454.7 132.7L451.5 132.9L450.2 134.4L448.5 136.1L445.1 137.8L443.1 139.1L442.9 141.3L445.3 142.3L445.8 143.5L442.6 144.8L441.9 146.7L441.5 148.2L440.5 149.0L438 150.0L435.8 150.2L435.5 148.9L434.1 146.7L432.8 144.3L432.1 143.7L431.7 142.8L431.1 144.0L429 145.2L426.5 145.8L423.6 144.8L422.8 143.3L422.3 140.8L422.4 139.1L424.8 137.8L428.2 136.4L430.7 135.8L433.3 134.1L434.9 132.4L436.6 130.7L438.8 129.0L440.9 127.8L443.4 126.5L445.9 126.0L449.3 125.3L453.6 124.5L457.5 123.8L461.2 124.0L466.3 125.0L462.9 126.0L466.3 126.2L469.6 126.7L474.7 127.0L478.9 128.5L482.3 129.4L483.5 131.0L481.5 132.1L478.1 132.2L473 131.5L469.6 131.2L468.8 130.5L472.2 132.7L472.7 134.9L477.2 135.9L478.4 134.9L481.5 134.7L481.5 133.2L484.9 131.5L488.2 132.1L488.2 130.7L487.4 129.0L488.2 128.0L491.6 128.5L492.5 130.4L495 129.5L498.4 128.7L503.5 128.2L506 128.5L510.2 128.0L513.6 127.7L516.2 127.0L516.2 126.0L522.1 126.8L523.8 127.2L527.2 128.0L529.4 128.5L530.5 127.5L528 126.2L526.8 124.3L527.2 123.1L529.7 121.5L531.4 120.6L533.9 120.3L536.5 121.0L537 123.1L535.6 124.8L536.8 126.5L536.5 128.2L538.2 129.9L535.6 131.9L538.2 131.0L539.9 129.0L539 127.3L539 124.8L539 123.1L540.7 121.5L544.1 121.8L545.8 122.3L549.2 121.8L550.5 119.9L555.9 119.4L560.2 118.9L561 117.3L566.1 116.2L572.8 115.6L579.6 115.1L584.7 114.2L589.8 112.7L593.2 113.4L596.5 114.4L603.3 114.7L605.8 115.9L605 118.1L599.9 118.9L603.3 119.4L606.7 119.6L613.5 119.8L616.8 120.6L621.9 120.3L624.5 119.4L628.7 119.9L631.2 121.5L632.9 123.5L637.1 123.1L640.5 123.3L645.6 123.1L649.8 121.6L652.4 121.0L655.8 121.3L660.8 121.6L666.8 122.0L668.4 123.1L671.8 124.0L677.8 124.0L682.8 124.3L684.5 125.7L687.9 126.3L693 126.5L698.1 126.0L702.3 127.3L702.3 125.7L706.5 126.0L711.6 126.2L715 126.8L718.4 127.5L725.1 129.0L731.9 130.7L735.8 132.2L731.9 134.9L730.2 135.2L726.8 133.7L725.1 133.2L721.7 133.2L719.2 133.7L718.4 134.1L716.7 134.9L715 134.7L714.1 135.4L713.3 137.4L716.7 138.3L711.6 139.1L706.5 140.3L703.1 142.0L701.4 142.5L698.1 142.1L694.7 142.8L692.1 142.8L690.4 144.7L688.8 146.2L689.9 148.0L688.2 148.9L687.9 150.9L684.5 152.6L684.5 154.3L682 155.1L679.4 157.6L678.6 155.1L677.8 152.6L677.2 149.2L679.4 146.7L682 145.0L685.4 142.8L687.9 141.6L690.4 140.0L691.3 138.4L686.2 140.0L684.5 139.6L679.4 139.8L676.1 142.5L675.2 143.7L671 144.2L669 143.3L664.2 143.7L660 143.7L654.9 143.8L650.7 146.3L647.3 148.4L643.9 150.9L642.7 151.4L646.5 152.6L648.1 152.9L651.5 153.9L652.9 155.6L651.5 158.5L651.2 161.3L649 163.5L647.6 165.5L644.8 168.0L642.6 170.1L638.8 171.4L637.1 170.7L635.1 172.1L633.4 173.6L633.1 174.8L630.4 176.1L629.5 177.3L631.2 179.0L632.7 181.2L632.9 183.2L632.1 184.4L629.5 185.2L627.5 185.4L627.8 183.7L627.8 181.5L628.3 180.3L626.1 179.8L625.3 178.6L625.8 177.0L624.1 176.1L621.1 177.1L619 178.1L620.2 175.3L618.5 174.8L616 176.6L613.5 177.5L612.9 178.6L615.1 180.3L618.2 179.8L621.1 180.7L618.5 181.8L617.3 182.8L615.7 184.5L617.7 187.1L619.9 189.9L620.2 191.4L618.2 192.4L620.2 193.3L619.4 195.8L617.7 197.6L616.5 199.7L615.1 201.0L613.8 202.4L611.8 204.0L609.2 205.2L607 205.9L605 206.4L602.5 207.2L600.6 207.7L600.3 209.3L599.6 207.4L597.4 206.9L595.7 207.6L594.3 208.9L592.8 211.1L594 213.5L595.7 215.5L597.4 216.8L598.6 219.9L598.9 222.4L598.2 224.1L595.7 225.7L594.5 226.1L594 227.4L591.8 228.8L591.1 226.6L589.8 225.7L588.1 224.9L587.2 222.9L584.7 222.0L584.5 220.9L583 221.0L582.7 223.2L581.8 225.7L581.8 227.9L583.5 229.4L583.8 231.3L585.5 232.0L587.2 233.3L588.6 235.0L588.9 237.0L588.9 239.2L590.1 241.0L588.8 241.0L586.7 239.5L585.2 238.4L584.2 236.7L583.7 234.1L583.5 232.5L582.5 231.6L581.3 230.3L580.1 229.9L580.3 227.4L580.6 225.2L580.8 223.2L580 220.7L579.6 218.2L578.9 215.6L577.6 214.8L576.2 215.6L575 216.8L573.4 216.5L573.7 214.0L573.4 211.8L572.3 210.1L571 209.3L569.8 207.7L569.1 205.9L567.8 205.4L566.6 206.4L564.4 206.7L562.7 206.9L561 207.4L560.7 208.9L559.8 209.9L557.6 210.9L555.9 212.5L554.7 213.6L553.1 215.3L551.2 216.7L549.7 217.7L549.2 219.9L549.7 221.4L548.8 224.1L548.8 226.1L547.5 227.8L546.1 228.4L544.9 229.8L543.2 228.3L542.7 226.6L541.5 224.1L540.4 221.7L539.5 219.0L538.7 217.3L537.8 214.8L537 211.4L536.8 208.9L536.6 207.2L536.1 208.1L533.9 208.4L532.2 207.6L530.5 205.9L532.2 205.1L530.5 204.2L529.2 203.7L527.8 202.2L527.2 201.7L526.3 200.7L522.9 201.0L518.7 201.2L515.3 200.8L512.8 200.3L510.6 199.8L509.9 198.0L507.7 198.5L506 198.7L503.5 198.0L500.9 196.5L499.8 194.6L498.4 192.6L496.7 192.3L495.9 192.9L495 193.8L495.9 195.5L497.6 197.5L498.6 198.8L498.7 200.3L500.1 201.9L500.4 199.5L501.1 201.4L501.8 202.7L505.2 202.7L507.4 200.8L508.7 199.5L509.2 201.4L510.2 203.0L513 203.7L515 205.6L513.3 208.9L511.6 211.4L510.2 212.3L507.7 213.6L505.2 214.8L502.1 216.5L498.4 218.2L495.9 219.9L492.5 220.9L489.9 221.9L487.4 222.0L486.6 219.9L486.2 217.3L485.7 215.1L484 213.1L482.3 210.6L480.1 207.6L478.9 204.2L476.7 201.4L474.7 198.5L473 196.3L472.7 193.8L471.8 196.6L470 195.1L469 193.1L468.5 190.8L471.7 190.8L472.5 189.6L473 187.9L474 185.9L474.7 183.7L474.4 182.3L475.1 181.5L473 181.7L471.3 182.3L468.8 182.7L465.7 181.5L463.7 182.5L461.5 181.7L460 181.2L459.5 179.5L458.6 178.3L459.1 177.0L458.1 176.1L459 175.4L460.3 175.4L462.9 175.3L463.2 174.3L466.3 174.3L469.6 172.8L473 172.8L475.6 173.9L478.9 174.4L481.5 174.4L484 173.6L484 171.9L481.5 170.2L478.9 168.9L476.9 167.7L477.2 166.0L478.9 164.2L480.3 164.0L476.4 164.7L473.5 165.5L473 166.9L475.6 167.2L473.5 167.7L471.3 168.7L470.3 168.4L469.1 166.9L470.7 165.9L467.9 165.5L465.9 165.2L464.1 167.2L462.4 169.1L461.2 170.7L460.7 171.9L461.3 173.3L463 174.1L461.2 174.4L459.5 175.1L458.1 175.8L457.8 174.8L455.3 174.6L453.6 175.6L452.4 175.4L452.2 177.0L453.2 177.8L454.4 179.5L452.7 180.3L452.4 182.0L451 181.7L450.5 181.2L449.8 179.8L449.7 179.0L448.8 177.8L447.3 176.1L446.6 173.9L446.3 172.8L445.1 171.9L441.7 170.2L439.5 169.1L438.3 167.4L437 167.7L437 166.5L434.6 167.0L434.6 168.9L436.6 170.1L437.8 172.1L440.9 172.9L440.9 173.8L443.4 174.8L445.1 176.0L442.6 175.3L441.9 176.6L442.7 177.8L441.7 178.8L440.4 179.7L440.9 178.5L440.4 176.1L438.8 175.1L437.8 174.8L435.8 174.1L434.4 173.1L432.4 172.1L431.6 171.2L431.1 169.7L429 168.9L426.5 169.7L424 170.9L422.3 170.6L420.6 170.2L419 171.1L419.2 172.3L417.5 173.8L415 174.9L413.3 177.0L414.1 178.1L412.6 180.0L410.6 181.3L409.6 181.5L406.4 181.7L404.7 182.7ZM92.3 125.0L100.9 125.3L105 126.2L109.9 128.0L116 130.5L121.1 132.1L125.5 132.7L124 134.6L119.1 135.1L116 133.6L111.9 133.1L108.1 134.6L107 136.6L106.5 138.4L100.9 138.6L92.3 138.6ZM404.2 159.1L406.7 158.6L407.9 158.5L410.4 158.1L412.1 158.0L414.3 158.0L416.2 157.3L415.2 156.8L416.7 154.9L416.3 154.4L414.3 154.3L414.1 153.4L413.5 152.2L411.6 150.9L410.4 149.4L408.7 149.2L409.6 148.4L410.4 146.7L407.9 146.3L407 146.5L408.4 144.8L405.3 144.8L404.5 146.2L404 147.5L404.5 149.2L405.3 150.4L405.7 151.2L407.9 151.1L408.7 152.6L408.7 153.6L406.2 153.7L406.2 154.6L406.7 155.4L405 156.1L406.2 156.6L408.7 156.9L407.9 157.3L406.2 157.6L404.2 159.1ZM403.6 155.6L403.3 153.7L403.6 152.2L404.3 151.6L403.1 150.6L401.1 150.4L399.4 151.6L396.9 152.2L397.7 153.7L396.9 155.6L397.2 156.8L399.8 156.3L402.8 155.8ZM375.7 135.9L380 136.6L383.3 136.8L388.4 135.2L390.8 134.1L389.3 132.1L385.9 131.5L382.5 132.2L379.1 132.7L375.7 131.7L373.2 133.1L376.6 134.1L373.2 134.4L376.6 135.2ZM500.9 123.1L503.5 124.5L507.7 124.5L511.1 124.0L508.6 121.5L507.7 119.8L510.2 118.1L515.3 116.4L522.1 115.2L529.7 114.2L527.2 115.6L518.7 117.3L513.6 118.9L510.2 120.6L506.9 121.8L503.5 122.3ZM432.4 109.7L437.5 108.8L444.3 108.3L451 108.3L459.5 108.8L454.4 110.2L447.6 111.4L451 112.2L445.9 113.4L441.7 114.6L437.5 113.0L434.1 111.4ZM574.5 110.5L581.3 108.0L583 106.8L589.8 110.0L583 111.9ZM645.6 116.4L655.8 115.6L667.6 116.9L659.1 117.6L650.7 119.3ZM493.3 108.5L501.8 107.5L511.9 106.8L518.7 107.5L511.9 108.8L498.4 109.0ZM715.8 123.6L720.1 123.1L722.6 124.0L718.4 124.3ZM635.3 186.2L637.7 184.0L640.5 183.5L643.9 183.4L645.3 180.8L646.5 181.5L648.6 179.8L650.3 177.8L650.7 175.3L651.2 174.1L652.9 173.9L653.2 175.3L654.1 177.0L653.2 179.0L652.4 180.3L652 182.8L651 184.4L650.3 183.7L649 184.7L647.6 185.2L645.6 185.2L645.3 185.9L643.6 187.1L642.4 185.7L640.5 185.5L638 185.9L635.5 186.4ZM651.2 173.6L650.7 171.9L651.5 170.6L653.2 170.6L653.6 167.0L655.8 168.9L659.6 168.9L660 170.6L657.4 171.2L656.1 172.8L653.2 171.9L652.4 172.8ZM633.8 187.1L635.5 186.5L636.8 187.9L636.3 190.4L634.9 191.3L634.1 189.6L633.3 187.9ZM638 186.5L640.5 185.7L641.7 186.5L640.5 187.4L638.8 188.2L637.7 187.4ZM654.1 152.1L655.8 154.3L656.3 157.6L657.4 160.1L655.4 162.7L656.6 164.7L654.1 166.0L654.1 162.7L654.4 159.3L653.7 155.9L654.1 153.4ZM619.4 200.8L620.2 202.2L618.5 205.9L617.2 204.7L617.7 202.2ZM600.8 209.8L601.6 210.6L599.9 212.6L597.7 211.8L598.2 210.1ZM549.2 226.9L551.2 229.1L552.2 231.6L550.9 233.0L549.5 233.3L548.8 230.8L549 228.3ZM617.7 212.3L620.6 212.3L620.7 214.8L619.4 217.3L620.2 219.9L623.6 220.7L623.6 222.2L621.9 221.0L619.4 220.4L618 219.0L616.8 217.3L617.3 215.6ZM620.2 231.6L622.8 230.3L623.6 229.1L626.1 226.9L627.8 229.9L627.3 232.5L626.1 233.8L624.5 232.8L622.8 231.1ZM625.3 222.4L626.5 224.9L625.3 226.6L624.5 224.4ZM612.3 229.4L616 225.4L615.7 224.4L613.5 227.4ZM620.2 223.6L622.3 224.4L622.4 227.4L621.1 227.4L620.2 225.4ZM617.7 220.9L619.4 221.2L618.9 222.7ZM575 234.0L578.8 234.7L580.8 237.0L583.8 239.7L586.4 241.7L588.9 243.4L590.6 245.9L593.2 248.4L593 253.2L590.8 253.2L588.1 251.0L585.5 248.1L583.5 245.1L581.3 242.6L579.6 240.0L577.1 237.2ZM591.8 254.8L594.5 253.5L597.4 254.3L600.8 254.8L604.1 255.0L607.5 256.5L607.4 258.0L603.3 257.4L598.2 256.5L594 255.8ZM598.2 240.4L600.8 240.5L602.5 238.9L605 238.0L606.7 235.8L609.2 234.1L611.4 231.6L613.5 233.3L615.5 234.7L613.5 236.2L613.1 238.4L613.5 240.0L615.1 241.7L612.9 242.6L612.6 244.7L610.9 245.9L610.9 249.3L610.1 250.1L607.7 249.3L605 248.8L603 249.3L600.3 248.1L599.9 245.9L598.2 243.9L598.2 241.7ZM616.5 242.1L618.2 241.2L621.9 241.9L625.3 240.7L624.5 242.7L621.9 242.6L618.5 242.6L617.2 244.7L619.4 244.9L622.4 244.9L620.2 246.4L619.4 247.6L621.1 249.3L621.9 251.0L620.2 251.3L618.5 248.4L617.7 248.4L617.5 252.7L616 252.7L616 249.3L614.8 248.1L616 245.1ZM635.5 244.7L638 244.1L640.5 244.7L642.2 249.0L645.6 246.3L649 246.8L652.4 247.8L655.8 249.1L658.3 249.8L660.5 251.8L662.5 253.5L663.9 254.8L662.5 255.2L664.2 257.2L666.8 259.9L669 260.7L665.9 260.7L662.9 259.4L660.8 257.2L658.3 256.4L656.6 257.2L655.8 258.9L652.4 258.7L649.8 257.0L647.3 257.4L648.6 255.2L647.3 252.7L643.9 251.1L640.5 250.1L638.8 250.1L638.5 248.1L640.2 247.3L637.1 246.8L635.5 245.8ZM609.2 257.4L611.8 257.4L615.1 257.5L618.5 257.7L621.9 257.4L621.9 258.2L616.8 258.4L611.8 258.5ZM622.8 260.7L625.3 258.5L628.7 257.5L627 259.0L623.6 260.7ZM629.5 240.0L631.2 240.9L630.4 243.4L629.5 244.7L630 242.1ZM630.4 248.4L634.6 248.4L635.1 249.6L631.2 249.3ZM665.1 252.8L668.4 252.7L671.3 250.5L671 251.8L669 253.8L665.9 253.8ZM654.9 261.4L656.6 265.3L658.3 267.5L659.6 269.5L660.8 272.8L661.3 275.4L665.1 277.5L666.8 280.7L669 282.9L671.8 285.4L673 288.0L673.5 290.8L672.7 294.7L671.8 298.1L669.8 300.4L668.4 303.1L667.6 306.1L664.2 307.1L661.5 309.2L658.8 307.7L656.6 308.7L652.4 307.7L650.3 305.6L649.8 303.6L647.8 303.1L648.1 301.9L647 302.6L645.6 302.6L647 299.7L647.1 298.2L645.6 300.1L643.9 301.9L642.6 300.6L641.4 298.9L639.7 297.6L636.3 296.4L632.1 296.6L627 297.7L623.6 298.9L622.8 300.4L616.8 300.4L613.5 302.3L610.1 301.9L608.5 301.1L608.4 299.7L609.6 297.2L608.4 294.4L607.7 291.8L606.7 289.7L605.7 287.1L606.3 284.6L605.8 282.9L606.7 280.1L609.2 278.4L611.8 278.0L614.5 277.5L617.7 276.7L620.6 273.7L620.7 272.0L622.8 272.5L622.9 270.6L624.5 269.5L626.1 267.8L628.3 266.8L630.7 268.3L632.9 268.3L633.4 266.1L635.1 264.3L638 263.8L638.2 262.6L640.5 263.4L643.1 263.8L645.1 263.9L643.9 265.8L643.1 268.3L644.8 270.0L647.3 271.5L649.8 272.8L652 272.8L652.9 270.3L653.4 266.9L653.7 264.4L654.2 262.2L654.9 261.4ZM658.6 311.9L661.7 312.5L664.6 312.0L664.7 314.0L663.9 316.1L662.2 316.7L660.5 316.1L659.5 314.0ZM706 301.3L708.2 302.8L709.6 305.3L711.3 305.1L711.6 306.6L714.1 307.0L715.8 306.8L715 308.5L713.3 309.5L713.3 310.7L711.9 312.4L710.2 313.4L709.6 312.9L709.9 311.2L708.2 309.8L709.4 308.7L709.6 307.0L708.7 304.8L706.5 302.3ZM706 311.5L708.2 312.4L708.5 313.7L706.5 315.7L706.2 317.1L703.6 317.9L703.1 319.9L702.3 320.6L700.6 321.8L698.6 321.8L696 321.1L695.5 319.9L698.1 317.7L700.6 316.6L703.1 314.9L704 313.5L705.2 312.0ZM270.1 206.6L273.4 204.9L275.9 204.5L279.3 205.6L282.7 206.9L285.7 208.2L288.3 209.4L286.1 209.9L282.3 209.9L283.2 208.8L281 207.4L277.6 206.4L275.1 205.7L272.5 206.2ZM287.9 212.3L289.8 209.9L292.5 210.1L295.4 210.3L298.1 212.1L296.2 212.5L293.7 212.8L292.5 213.6L290.6 212.8ZM281.3 212.5L283.5 212.3L284.9 213.1L282.7 213.5ZM300.1 212.5L302.8 212.6L302.5 213.1L300.1 213.1ZM302.1 139.3L297.9 138.3L292.8 136.6L289.4 134.9L281.8 135.2L285.2 133.6L289.4 132.4L291.1 129.9L286.9 128.5L281.8 126.0L278.4 125.7L270.8 125.7L264.9 124.8L261.5 121.5L263.2 119.8L270 119.4L276.7 119.4L281.8 120.8L286.9 121.8L292 123.1L297.1 124.8L299.6 126.8L303.8 129.0L308.9 130.7L309.7 131.5L306.4 133.2L303 133.2L300.4 134.1L304.7 134.9L304.7 136.9ZM215.8 126.5L222.6 128.2L231.1 127.8L236.1 127.3L242.1 126.5L241.2 124.0L236.1 121.0L231.1 120.3L224.3 121.1L219.2 120.1L214.1 121.5L214.1 123.6L218.4 124.7L215.8 125.7ZM201.5 122.5L204.8 123.8L209.9 123.1L212.5 121.5L217.5 120.1L214.1 118.4L209.1 118.1L203.1 118.4L204 120.6ZM261.5 114.7L270 115.1L278.4 115.2L281.8 113.9L286.9 111.4L292 109.7L302.1 107.2L308.9 104.8L295.4 103.6L278.4 103.8L264.9 105.0L258.1 106.7L264.9 108.0L266.6 109.7L264.9 111.9L261.5 113.4ZM253.1 109.7L259.8 111.7L264.9 110.9L261.5 108.5L254.8 107.2ZM258.1 114.7L261.5 116.4L270 116.2L278.4 117.9L278.4 116.2L273.4 114.9L263.2 114.7ZM215.8 115.9L224.3 118.1L234.4 117.3L234.4 115.6L227.7 114.7L219.2 114.9ZM241.2 119.3L246.3 123.1L250.5 121.5L249.7 119.3L244.6 118.9ZM252.2 118.9L253.1 122.0L260.7 121.1L261.5 119.3L256.4 118.6ZM237.8 114.7L241.2 116.7L249.7 116.4L249.7 114.4L244.6 114.2ZM268.3 133.2L273.4 132.7L276.7 135.8L272.5 136.9L266.6 135.8ZM313.5 163.3L314.8 161.8L316.5 158.5L319.9 156.6L319 159.0L320.7 160.1L323.3 160.5L324.6 163.3L323.3 165.0L320.7 164.5L319 163.5L316.5 163.3ZM196.7 158.0L201.5 158.8L204.8 161.5L204.8 162.2L202.3 161.3L198.9 159.6ZM152.4 146.7L155.8 145.3L156.6 146.7L154.1 147.5ZM188.8 152.6L190.8 152.6L192.1 155.6L189.6 154.3ZM92.3 375.4L99.9 375.4L109.9 376.4L133.9 375.9L146 374.6L158 372.6L180 370.1L199.9 367.4L211.9 368.0L228 370.1L238 369.0L240 366.0L250 365.7L263.6 366.7L278.4 366.7L288.6 366.7L286.1 364.5L284.5 362.1L290.5 360.6L298.1 358.4L300.9 355.4L310.1 352.6L316 350.7L311.4 356.1L310.8 364.5L308.6 369.7L317.5 372.2L333.9 374.9L354.9 374.3L360 373.9L370 370.1L380 367.0L394 363.7L410.1 362.0L412.1 360.6L414 362.7L436 361.5L454.1 362.7L467.9 360.0L477.9 362.0L488.1 359.0L498.1 356.1L508 355.4L511.9 357.4L520.1 357.9L526.5 358.8L540 361.0L544.1 359.5L551 356.6L573 355.3L598.1 355.9L620.1 356.6L639 355.4L658.5 357.4L680.5 361.0L699.7 364.3L701.1 367.0L688.8 371.9L691.5 374.6L702.5 374.6L720.4 376.6L735.3 376.6L735.3 403.2L92.3 403.2ZM434.9 179.5L440.2 179.0L439.3 181.7L434.9 180.2ZM427.7 174.4L430.2 174.4L430 177.5L428 177.8ZM428.4 172.1L429.9 171.1L429.7 173.6L428.7 173.4ZM453.6 183.7L458.3 184.2L455.3 184.5ZM468.5 184.5L472.3 183.5L470.5 185.2ZM495.9 126.8L497.6 126.5L498.4 127.5L496.4 127.8ZM100.4 306.6L102.5 306.6L105 307.0L106.7 306.8L105.9 308.5L104.2 309.5L104.2 310.7L102.8 312.4L101.1 313.4L100.4 312.9Z" fill="#d3d3d3" fill-opacity="0.2" stroke="none"/>
<path d="M496.7 165.2L500.1 164.7L503.5 165.2L503.5 167.7L500.9 168.6L499.2 169.7L502.6 171.9L505.2 174.4L503.5 177.0L505.2 180.3L501.8 181.5L498.4 180.7L496.7 178.6L497.6 175.6L495 172.8L493.3 170.2L493.3 167.7ZM512.8 165.2L517 165.2L517.9 167.7L515.3 169.7L512.8 168.6ZM589.8 156.6L593.2 155.1L597.4 152.6L599.6 149.7L598.2 149.7L595.7 153.4L592.3 154.9L589.8 155.9ZM539 165.2L542.4 164.7L547.5 165.5L545.8 166.4L541.5 165.7L539 166.9ZM467.9 242.9L471.3 242.9L471.3 245.1L470.5 247.6L467.9 247.6L467.4 245.1ZM463.4 249.3L465.4 253.5L466.3 257.7L465.1 257.2L463.4 252.7ZM471.3 259.5L472.7 262.7L473 266.9L472.2 266.9L471.7 262.7ZM258.1 164.7L263.2 162.7L267.4 161.8L270.8 164.3L270 165.2L266.6 165.2L261.5 164.9ZM264.9 172.8L266.6 172.8L267.8 170.2L270 166.4L267.4 166.4L265.2 169.4ZM270.8 166.0L275.9 166.0L278.4 168.0L275.6 170.7L274.2 170.2L272.5 169.4L273.4 167.7ZM272.9 173.1L276.7 173.4L280.1 171.6L277.6 171.6ZM278.8 170.6L283.5 170.6L284.9 169.4L281.8 169.4ZM202.3 133.2L205.7 131.5L211.6 130.7L214.1 132.4L210.8 134.1L207.4 134.1ZM215.8 140.8L219.2 138.8L224.3 137.8L228.5 137.9L225.1 139.6L220.1 140.8ZM246.3 152.9L248.8 153.4L250.5 157.6L249.7 158.6L247.5 155.9ZM465.4 142.5L468.8 142.0L469.1 140.5L465.4 140.3ZM472.2 140.8L474.7 140.5L473.9 138.1L472.2 138.6ZM295.4 269.5L297.1 270.0L297.4 271.2L295.7 270.6ZM436.6 220.7L438.8 220.7L438.3 222.2L436.8 222.0ZM474.4 235.8L475.7 237.5L475.1 239.2L474.4 237.5Z" fill="#d3d3d3" fill-opacity="0.2" stroke="none"/>
<path d="M129.4 133.1L132.1 128.5L138 126.5L148.8 123.5L156.6 124.3L163.4 125.2L175.2 126.3L183.7 127.3L187.1 126.5L193.8 125.5L197.2 124.8L202.3 126.5L209.1 126.0L215.8 127.5L220.9 128.7L227.7 129.2L231.1 128.7L234.4 127.7L241.2 129.4L248 129.4L251.4 128.7L253.9 126.5L251.4 124.8L253.9 122.5L257.3 124.8L259.8 126.8L261.5 127.7L265.8 129.9L269.1 126.5L275.1 126.2L275.9 128.2L275.1 131.5L270 132.1L266.6 133.2L263.2 135.8L258.1 137.8L254.8 140.8L253.4 144.2L257.3 147.5L261.5 147.2L264.9 148.4L270 150.4L274.5 150.7L274.7 154.3L276.7 155.9L277.6 157.3L280.1 156.8L280.5 154.3L279.3 151.7L282.7 150.0L284.4 148.4L283.5 145.8L281 144.5L282.7 142.5L281.8 138.4L286.1 138.6L292 140.0L295.4 140.8L296.2 144.2L298.7 145.3L302.1 144.5L304.2 142.0L308.9 146.7L310.6 149.2L313.1 150.9L316.5 152.2L319 155.1L319.6 155.9L314.8 157.1L312.3 159.0L305.5 158.8L301.3 159.0L297.9 161.0L294.5 164.0L297.1 162.3L301.3 160.8L304.8 161.3L303.8 162.7L301.6 162.7L304.2 164.3L304.7 165.7L307.2 166.4L309.7 166.7L312.3 166.0L310.1 167.4L306.4 168.4L303 170.2L301.8 169.7L302.1 168.6L304.7 167.2L302.5 167.4L300.4 167.7L300.1 168.4L297.1 169.4L295 170.1L294 171.6L295.4 173.1L292.8 173.8L289.4 174.4L288.6 175.1L288.4 176.6L286.9 178.0L286.1 177.1L286.7 179.0L285.2 180.8L285.4 181.3L286.1 184.0L283.9 185.0L281.8 186.4L279.8 187.6L277.1 189.2L276.2 191.3L276.1 192.4L277.4 195.6L278.3 198.3L277.9 200.8L276.7 201.2L275.4 199.5L273.9 196.8L273.7 194.6L271.7 192.9L269.5 193.4L267.4 192.3L264.9 192.4L262.9 192.4L262.5 194.3L260.7 194.3L258.5 193.6L255.1 193.4L253.4 194.1L250.5 195.8L249.2 197.1L249.3 199.7L248.5 202.2L248.3 205.6L249.2 208.4L250.7 210.9L252.2 211.9L253.9 212.8L257.3 212.1L259.3 211.6L260.3 210.1L260.8 208.1L264.1 207.2L266.6 207.2L266.9 208.4L265.8 210.6L265.2 212.6L264.4 212.5L264.6 214.0L263.6 216.5L264.1 216.8L265.8 216.8L268.3 216.7L270.8 216.8L273 218.2L272.5 220.7L272.3 223.2L272.2 224.9L273.7 226.9L275.1 228.1L276.7 228.6L278.8 227.6L280.5 227.4L283 228.9L282 231.3L281 229.4L279.3 228.3L277.9 229.6L277.6 231.1L275.9 230.4L273.7 229.6L272.2 228.9L272.3 228.3L270.5 227.1L268.8 226.2L268.8 224.7L266.6 222.4L265.8 221.5L265.2 221.0L263.2 220.9L260.7 220.0L257.8 219.0L254.8 216.3L253.1 216.3L250.5 217.0L247.1 216.0L244.6 214.8L241.2 213.1L238.7 212.5L236.1 210.8L235.3 209.1L235.6 207.2L234.4 205.1L233.6 204.2L231.1 201.4L228.9 200.3L228.5 198.5L226.8 197.1L226 196.3L224 194.6L222.6 191.6L222.4 190.9L219.7 190.1L219.6 191.3L220.1 192.9L221.8 194.6L222.9 196.3L224.3 198.8L225.5 200.5L226.8 202.5L228.5 204.4L227.8 204.9L227.2 203.9L224.3 201.9L224 199.7L221.8 198.3L220.1 196.8L220.6 196.0L219.2 194.3L217.5 192.1L216.2 189.9L215.7 188.7L215.3 187.6L213.5 186.2L211.6 185.5L209.7 185.2L209.1 183.5L207.4 181.5L206.5 179.8L205.7 179.0L204.3 177.0L203.5 175.4L203.8 173.1L203.1 171.4L204 168.6L204 165.7L203 162.8L202.8 162.0L205.7 162.3L206.5 163.5L206 161.0L205.3 160.5L203.1 159.3L200.6 158.1L198.1 157.6L197.6 155.9L196.4 155.1L194.7 153.4L193.5 151.4L192.1 150.0L190.5 148.9L187.9 146.7L185.4 145.0L182.8 145.3L181.2 144.5L177.8 143.0L174.4 142.5L170.2 142.3L166.8 141.3L163.4 141.1L162.5 142.5L160.8 143.0L157.5 143.8L157 141.6L159.2 140.5L156.6 141.1L154.9 142.8L153.2 144.2L152.4 145.8L149 147.5L145.6 149.2L142.2 150.0L138.9 150.9L135 151.6L138.9 149.7L142.2 149.2L145.6 147.5L147.3 145.0L145.6 144.5L142.2 144.7L139.7 144.8L139.7 142.8L136.3 142.8L133.8 141.6L132.9 139.8L133.8 138.3L135.5 137.4L138 137.1L141.4 136.6L141.7 134.9L138.9 135.1L134.6 135.1L132.1 134.4L129.4 133.1ZM290.3 111.9L298.7 109.7L303.8 107.0L312.3 105.5L325.8 105.0L337.7 104.1L349.5 103.1L359.7 102.8L371.5 103.8L380 105.5L385 106.7L393.5 106.3L390.1 108.8L383.3 109.7L381.7 112.2L382.5 114.7L380 116.4L380.8 118.4L376.6 119.8L375.7 122.0L376.6 124.8L373.2 125.3L376.6 125.5L374 126.5L369.8 128.2L363 128.9L358 130.7L353.7 132.4L349.5 133.1L346.1 134.1L344.4 136.6L341.9 139.1L341 141.6L339.4 142.6L336 141.5L331.7 140.8L329.2 138.3L326.7 135.8L325 133.2L322.9 130.7L323.3 128.2L327.5 126.5L321.6 124.8L320.7 122.3L318.2 118.9L314.8 116.4L307.2 115.2L298.7 115.6L293.7 113.5L290.3 111.9ZM283 228.9L283.7 229.8L284.7 228.3L285.9 227.4L286.1 225.6L287.2 224.7L289.4 224.4L291.6 223.4L292.7 222.5L293.2 223.6L292.1 224.1L292.7 225.2L293.7 224.9L295 224.1L295.4 222.9L295.9 224.1L298.2 225.1L298.7 225.7L302.1 225.6L303.8 226.4L305.5 225.7L308.1 225.4L309.1 225.4L308.1 226.2L310.6 227.4L310.9 229.1L312.6 229.4L314.8 232.0L317.4 233.5L320.4 233.5L322.4 233.6L325 235.0L326.3 236.3L327.5 238.4L329.2 240.4L329.2 242.1L328.4 243.4L330.9 243.7L331.7 245.1L333.4 244.6L336 245.4L338.5 246.8L338.8 247.6L341 247.4L343.6 248.3L346.1 248.1L348.7 249.6L351.2 251.5L354.1 252.1L354.9 255.3L354.6 258.4L352.9 260.6L351.2 262.2L349.5 264.9L347.8 267.8L347.8 271.2L347.5 273.7L346.5 276.4L345.6 277.9L344.4 280.4L342.7 282.1L340.7 282.1L338.2 282.6L335.5 283.8L332.9 285.8L331.7 287.1L331.6 289.7L331.2 291.5L329.2 293.5L327.8 295.9L325.6 297.6L323.4 300.3L320.9 302.1L318.7 302.1L316 301.3L315 300.6L315 301.6L317 303.1L317.4 304.5L316.5 307.3L314 308.5L310.6 309.0L308.6 308.7L308.6 311.5L308.1 312.4L303.8 312.0L303.8 314.0L306 314.9L304.7 315.6L303.8 316.6L303.3 319.1L300.4 319.9L299.6 321.6L302.1 322.5L302.5 323.8L299.6 326.3L297.9 328.0L297.1 330.0L298.1 331.4L296.2 331.7L294 332.2L293.8 333.9L292 333.6L289.8 332.4L287.4 331.7L286.6 329.2L286.1 325.8L286.1 322.5L287.7 320.8L287.7 318.2L289.4 316.6L290.3 314.0L288.9 312.4L289.4 309.8L289.8 306.5L290.6 303.6L292 300.6L292.7 298.9L292.8 294.7L293.2 292.2L294 288.8L294.5 285.4L294.7 282.9L295 278.7L294.9 274.3L293.2 273.0L290.6 271.5L286.9 269.5L284.7 266.8L283.3 263.8L281.5 260.2L280.1 257.2L278.4 254.8L276.6 253.5L276.2 251.3L277.8 249.3L278.8 247.6L276.9 247.1L277.1 245.1L278.3 243.4L278.4 242.1L280.1 241.2L280.5 240.7L281.1 239.2L282.7 237.5L283 235.8L282.7 234.0L282.8 232.1L282 231.3L283 228.9ZM297.7 331.9L298.4 333.1L299.6 334.2L301.3 335.1L303.5 335.4L301.3 336.1L298.7 336.8L296.2 336.4L293.7 335.7L292 334.7L293.7 334.2L295 333.4L294.9 332.2L296.5 331.9L297.7 331.9ZM403.8 183.2L404.8 183.0L408.7 184.0L411.8 184.4L413.8 183.0L416.3 182.0L418.9 181.5L422.3 181.5L427 181.2L430.4 180.7L431.2 181.2L432.4 181.0L431.6 182.2L431.7 183.4L432.4 184.5L430.7 185.9L430.9 186.4L432.4 186.9L433.4 187.6L436.1 188.1L439.5 188.9L440.4 190.8L443.4 191.4L445.9 192.4L447.6 191.3L447.6 189.2L450.2 188.1L452.7 188.4L456.1 190.1L460 190.6L462.9 191.4L464.6 190.8L466.3 190.2L468.5 190.8L468.8 192.9L469 193.8L470.5 196.3L471.3 198.0L472.2 200.0L473.9 203.0L474.2 204.7L476.1 206.4L476.7 208.1L476.7 210.3L478.9 213.0L480.6 217.2L483.2 219.0L485.7 221.5L487.1 222.4L486.9 223.9L488.2 225.7L489.9 225.9L493.3 224.7L496.7 224.4L500.4 223.4L500.1 225.9L498.9 228.3L497.6 231.6L495.9 235.0L493.3 238.0L491.6 239.7L490.4 240.0L487.4 242.9L484.9 245.1L483.2 247.1L481.5 249.3L480.8 250.3L479.8 253.5L480.6 255.2L480.5 258.2L481.5 260.7L482.3 261.9L482.5 265.3L482.7 268.6L480.6 271.5L477.2 272.8L475.6 275.0L473 276.9L473.5 279.6L473.9 283.4L470.5 285.4L469.1 287.0L469.3 288.8L468.3 291.8L466.3 293.7L464.6 296.0L462 298.4L459.5 299.9L457.3 300.6L453.6 300.8L451 300.9L447.6 301.9L445.6 301.1L444.9 300.4L444.3 298.4L444.8 296.4L443.1 293.9L441.7 291.5L439.5 288.3L438.3 284.6L438.3 281.9L436.6 278.7L434.9 275.0L433.8 272.3L433.8 270.0L434.9 266.1L436.6 264.1L437.1 261.4L436.1 258.2L434.9 254.3L434.4 253.5L434.1 251.8L433.3 250.6L432.4 249.8L430.4 247.6L429 245.1L429.5 242.9L430.2 241.7L430 239.5L430.4 238.0L430 236.8L428.7 235.8L427.8 235.7L425.6 236.0L424 236.2L422.8 234.7L421.4 232.8L419.6 232.6L417.2 232.8L415.8 233.1L413.8 234.0L411.3 235.0L410.4 235.3L408.7 234.8L407 234.5L403.6 235.3L401.1 236.0L398.6 234.5L395.5 232.8L394.3 231.8L392.7 230.8L391.5 229.1L391.3 227.8L390.6 227.4L389.1 225.7L388.4 224.9L387.2 223.6L385.5 222.4L385.4 220.9L385 219.3L384.2 218.7L385.4 217.0L385.9 215.6L386.4 213.1L386.2 210.6L385.9 208.9L385 208.1L385 206.4L386.4 203.9L387.1 203.0L388.6 200.5L389.4 199.2L391 197.1L392 196.5L394.3 195.5L396.5 194.1L397.4 192.3L397.2 190.4L398.2 188.7L399.4 187.4L400.9 186.9L402.3 186.0L403.3 184.2L403.8 183.2ZM497.2 263.6L498.7 266.9L499.2 269.5L498.1 270.3L497.4 272.8L496.4 277.0L495 281.2L493.7 285.1L490.3 286.5L488.2 285.4L487.1 281.2L487.4 279.2L488.8 277.0L488.2 274.5L488.8 271.2L490.8 270.3L492.5 269.5L494.2 268.3L495 266.1L496.4 264.4L497.2 263.6ZM404.7 182.7L403.1 181.8L401.3 180.8L398.7 181.2L398.9 178.6L397.7 178.3L398.6 176.1L399.1 174.1L398.7 171.9L398.1 171.1L400.3 169.9L403.6 170.1L407 170.4L410.8 170.4L411.6 168.6L411.9 166.7L411.8 165.7L410.1 164.0L408.7 163.3L406.2 162.8L405.7 162.0L407.9 161.3L410.4 161.7L411.1 159.8L411.9 160.3L414 160.1L416.3 159.1L416.5 157.8L418 157.4L419.7 156.9L420.6 155.9L421.8 154.3L424 153.6L425.6 153.2L427.7 153.2L428.4 152.1L428.4 150.2L427.5 148.4L428.4 147.4L431.6 146.3L431.2 148.4L432.1 149.2L430.4 150.6L430.7 151.7L432.4 152.6L434.9 151.9L436.6 151.9L438 152.7L440.9 152.1L444.3 151.2L445.4 151.9L447.6 151.9L449.3 150.4L449.3 147.9L450.3 146.5L452 146.3L454.4 147.5L455.1 145.3L453.6 144.5L453.6 143.8L455.8 143.3L457.8 143.2L461.2 143.3L464.9 142.6L462.4 141.6L458.6 141.8L456.1 142.1L452.7 142.6L450.2 141.5L449.8 140.0L450.2 137.9L451.9 136.6L455.3 134.6L456.8 133.9L454.7 132.7L451.5 132.9L450.2 134.4L448.5 136.1L445.1 137.8L443.1 139.1L442.9 141.3L445.3 142.3L445.8 143.5L442.6 144.8L441.9 146.7L441.5 148.2L440.5 149.0L438 150.0L435.8 150.2L435.5 148.9L434.1 146.7L432.8 144.3L432.1 143.7L431.7 142.8L431.1 144.0L429 145.2L426.5 145.8L423.6 144.8L422.8 143.3L422.3 140.8L422.4 139.1L424.8 137.8L428.2 136.4L430.7 135.8L433.3 134.1L434.9 132.4L436.6 130.7L438.8 129.0L440.9 127.8L443.4 126.5L445.9 126.0L449.3 125.3L453.6 124.5L457.5 123.8L461.2 124.0L466.3 125.0L462.9 126.0L466.3 126.2L469.6 126.7L474.7 127.0L478.9 128.5L482.3 129.4L483.5 131.0L481.5 132.1L478.1 132.2L473 131.5L469.6 131.2L468.8 130.5L472.2 132.7L472.7 134.9L477.2 135.9L478.4 134.9L481.5 134.7L481.5 133.2L484.9 131.5L488.2 132.1L488.2 130.7L487.4 129.0L488.2 128.0L491.6 128.5L492.5 130.4L495 129.5L498.4 128.7L503.5 128.2L506 128.5L510.2 128.0L513.6 127.7L516.2 127.0L516.2 126.0L522.1 126.8L523.8 127.2L527.2 128.0L529.4 128.5L530.5 127.5L528 126.2L526.8 124.3L527.2 123.1L529.7 121.5L531.4 120.6L533.9 120.3L536.5 121.0L537 123.1L535.6 124.8L536.8 126.5L536.5 128.2L538.2 129.9L535.6 131.9L538.2 131.0L539.9 129.0L539 127.3L539 124.8L539 123.1L540.7 121.5L544.1 121.8L545.8 122.3L549.2 121.8L550.5 119.9L555.9 119.4L560.2 118.9L561 117.3L566.1 116.2L572.8 115.6L579.6 115.1L584.7 114.2L589.8 112.7L593.2 113.4L596.5 114.4L603.3 114.7L605.8 115.9L605 118.1L599.9 118.9L603.3 119.4L606.7 119.6L613.5 119.8L616.8 120.6L621.9 120.3L624.5 119.4L628.7 119.9L631.2 121.5L632.9 123.5L637.1 123.1L640.5 123.3L645.6 123.1L649.8 121.6L652.4 121.0L655.8 121.3L660.8 121.6L666.8 122.0L668.4 123.1L671.8 124.0L677.8 124.0L682.8 124.3L684.5 125.7L687.9 126.3L693 126.5L698.1 126.0L702.3 127.3L702.3 125.7L706.5 126.0L711.6 126.2L715 126.8L718.4 127.5L725.1 129.0L731.9 130.7L735.8 132.2L731.9 134.9L730.2 135.2L726.8 133.7L725.1 133.2L721.7 133.2L719.2 133.7L718.4 134.1L716.7 134.9L715 134.7L714.1 135.4L713.3 137.4L716.7 138.3L711.6 139.1L706.5 140.3L703.1 142.0L701.4 142.5L698.1 142.1L694.7 142.8L692.1 142.8L690.4 144.7L688.8 146.2L689.9 148.0L688.2 148.9L687.9 150.9L684.5 152.6L684.5 154.3L682 155.1L679.4 157.6L678.6 155.1L677.8 152.6L677.2 149.2L679.4 146.7L682 145.0L685.4 142.8L687.9 141.6L690.4 140.0L691.3 138.4L686.2 140.0L684.5 139.6L679.4 139.8L676.1 142.5L675.2 143.7L671 144.2L669 143.3L664.2 143.7L660 143.7L654.9 143.8L650.7 146.3L647.3 148.4L643.9 150.9L642.7 151.4L646.5 152.6L648.1 152.9L651.5 153.9L652.9 155.6L651.5 158.5L651.2 161.3L649 163.5L647.6 165.5L644.8 168.0L642.6 170.1L638.8 171.4L637.1 170.7L635.1 172.1L633.4 173.6L633.1 174.8L630.4 176.1L629.5 177.3L631.2 179.0L632.7 181.2L632.9 183.2L632.1 184.4L629.5 185.2L627.5 185.4L627.8 183.7L627.8 181.5L628.3 180.3L626.1 179.8L625.3 178.6L625.8 177.0L624.1 176.1L621.1 177.1L619 178.1L620.2 175.3L618.5 174.8L616 176.6L613.5 177.5L612.9 178.6L615.1 180.3L618.2 179.8L621.1 180.7L618.5 181.8L617.3 182.8L615.7 184.5L617.7 187.1L619.9 189.9L620.2 191.4L618.2 192.4L620.2 193.3L619.4 195.8L617.7 197.6L616.5 199.7L615.1 201.0L613.8 202.4L611.8 204.0L609.2 205.2L607 205.9L605 206.4L602.5 207.2L600.6 207.7L600.3 209.3L599.6 207.4L597.4 206.9L595.7 207.6L594.3 208.9L592.8 211.1L594 213.5L595.7 215.5L597.4 216.8L598.6 219.9L598.9 222.4L598.2 224.1L595.7 225.7L594.5 226.1L594 227.4L591.8 228.8L591.1 226.6L589.8 225.7L588.1 224.9L587.2 222.9L584.7 222.0L584.5 220.9L583 221.0L582.7 223.2L581.8 225.7L581.8 227.9L583.5 229.4L583.8 231.3L585.5 232.0L587.2 233.3L588.6 235.0L588.9 237.0L588.9 239.2L590.1 241.0L588.8 241.0L586.7 239.5L585.2 238.4L584.2 236.7L583.7 234.1L583.5 232.5L582.5 231.6L581.3 230.3L580.1 229.9L580.3 227.4L580.6 225.2L580.8 223.2L580 220.7L579.6 218.2L578.9 215.6L577.6 214.8L576.2 215.6L575 216.8L573.4 216.5L573.7 214.0L573.4 211.8L572.3 210.1L571 209.3L569.8 207.7L569.1 205.9L567.8 205.4L566.6 206.4L564.4 206.7L562.7 206.9L561 207.4L560.7 208.9L559.8 209.9L557.6 210.9L555.9 212.5L554.7 213.6L553.1 215.3L551.2 216.7L549.7 217.7L549.2 219.9L549.7 221.4L548.8 224.1L548.8 226.1L547.5 227.8L546.1 228.4L544.9 229.8L543.2 228.3L542.7 226.6L541.5 224.1L540.4 221.7L539.5 219.0L538.7 217.3L537.8 214.8L537 211.4L536.8 208.9L536.6 207.2L536.1 208.1L533.9 208.4L532.2 207.6L530.5 205.9L532.2 205.1L530.5 204.2L529.2 203.7L527.8 202.2L527.2 201.7L526.3 200.7L522.9 201.0L518.7 201.2L515.3 200.8L512.8 200.3L510.6 199.8L509.9 198.0L507.7 198.5L506 198.7L503.5 198.0L500.9 196.5L499.8 194.6L498.4 192.6L496.7 192.3L495.9 192.9L495 193.8L495.9 195.5L497.6 197.5L498.6 198.8L498.7 200.3L500.1 201.9L500.4 199.5L501.1 201.4L501.8 202.7L505.2 202.7L507.4 200.8L508.7 199.5L509.2 201.4L510.2 203.0L513 203.7L515 205.6L513.3 208.9L511.6 211.4L510.2 212.3L507.7 213.6L505.2 214.8L502.1 216.5L498.4 218.2L495.9 219.9L492.5 220.9L489.9 221.9L487.4 222.0L486.6 219.9L486.2 217.3L485.7 215.1L484 213.1L482.3 210.6L480.1 207.6L478.9 204.2L476.7 201.4L474.7 198.5L473 196.3L472.7 193.8L471.8 196.6L470 195.1L469 193.1L468.5 190.8L471.7 190.8L472.5 189.6L473 187.9L474 185.9L474.7 183.7L474.4 182.3L475.1 181.5L473 181.7L471.3 182.3L468.8 182.7L465.7 181.5L463.7 182.5L461.5 181.7L460 181.2L459.5 179.5L458.6 178.3L459.1 177.0L458.1 176.1L459 175.4L460.3 175.4L462.9 175.3L463.2 174.3L466.3 174.3L469.6 172.8L473 172.8L475.6 173.9L478.9 174.4L481.5 174.4L484 173.6L484 171.9L481.5 170.2L478.9 168.9L476.9 167.7L477.2 166.0L478.9 164.2L480.3 164.0L476.4 164.7L473.5 165.5L473 166.9L475.6 167.2L473.5 167.7L471.3 168.7L470.3 168.4L469.1 166.9L470.7 165.9L467.9 165.5L465.9 165.2L464.1 167.2L462.4 169.1L461.2 170.7L460.7 171.9L461.3 173.3L463 174.1L461.2 174.4L459.5 175.1L458.1 175.8L457.8 174.8L455.3 174.6L453.6 175.6L452.4 175.4L452.2 177.0L453.2 177.8L454.4 179.5L452.7 180.3L452.4 182.0L451 181.7L450.5 181.2L449.8 179.8L449.7 179.0L448.8 177.8L447.3 176.1L446.6 173.9L446.3 172.8L445.1 171.9L441.7 170.2L439.5 169.1L438.3 167.4L437 167.7L437 166.5L434.6 167.0L434.6 168.9L436.6 170.1L437.8 172.1L440.9 172.9L440.9 173.8L443.4 174.8L445.1 176.0L442.6 175.3L441.9 176.6L442.7 177.8L441.7 178.8L440.4 179.7L440.9 178.5L440.4 176.1L438.8 175.1L437.8 174.8L435.8 174.1L434.4 173.1L432.4 172.1L431.6 171.2L431.1 169.7L429 168.9L426.5 169.7L424 170.9L422.3 170.6L420.6 170.2L419 171.1L419.2 172.3L417.5 173.8L415 174.9L413.3 177.0L414.1 178.1L412.6 180.0L410.6 181.3L409.6 181.5L406.4 181.7L404.7 182.7ZM92.3 125.0L100.9 125.3L105 126.2L109.9 128.0L116 130.5L121.1 132.1L125.5 132.7L124 134.6L119.1 135.1L116 133.6L111.9 133.1L108.1 134.6L107 136.6L106.5 138.4L100.9 138.6L92.3 138.6ZM404.2 159.1L406.7 158.6L407.9 158.5L410.4 158.1L412.1 158.0L414.3 158.0L416.2 157.3L415.2 156.8L416.7 154.9L416.3 154.4L414.3 154.3L414.1 153.4L413.5 152.2L411.6 150.9L410.4 149.4L408.7 149.2L409.6 148.4L410.4 146.7L407.9 146.3L407 146.5L408.4 144.8L405.3 144.8L404.5 146.2L404 147.5L404.5 149.2L405.3 150.4L405.7 151.2L407.9 151.1L408.7 152.6L408.7 153.6L406.2 153.7L406.2 154.6L406.7 155.4L405 156.1L406.2 156.6L408.7 156.9L407.9 157.3L406.2 157.6L404.2 159.1ZM403.6 155.6L403.3 153.7L403.6 152.2L404.3 151.6L403.1 150.6L401.1 150.4L399.4 151.6L396.9 152.2L397.7 153.7L396.9 155.6L397.2 156.8L399.8 156.3L402.8 155.8ZM375.7 135.9L380 136.6L383.3 136.8L388.4 135.2L390.8 134.1L389.3 132.1L385.9 131.5L382.5 132.2L379.1 132.7L375.7 131.7L373.2 133.1L376.6 134.1L373.2 134.4L376.6 135.2ZM500.9 123.1L503.5 124.5L507.7 124.5L511.1 124.0L508.6 121.5L507.7 119.8L510.2 118.1L515.3 116.4L522.1 115.2L529.7 114.2L527.2 115.6L518.7 117.3L513.6 118.9L510.2 120.6L506.9 121.8L503.5 122.3ZM432.4 109.7L437.5 108.8L444.3 108.3L451 108.3L459.5 108.8L454.4 110.2L447.6 111.4L451 112.2L445.9 113.4L441.7 114.6L437.5 113.0L434.1 111.4ZM574.5 110.5L581.3 108.0L583 106.8L589.8 110.0L583 111.9ZM645.6 116.4L655.8 115.6L667.6 116.9L659.1 117.6L650.7 119.3ZM493.3 108.5L501.8 107.5L511.9 106.8L518.7 107.5L511.9 108.8L498.4 109.0ZM715.8 123.6L720.1 123.1L722.6 124.0L718.4 124.3ZM635.3 186.2L637.7 184.0L640.5 183.5L643.9 183.4L645.3 180.8L646.5 181.5L648.6 179.8L650.3 177.8L650.7 175.3L651.2 174.1L652.9 173.9L653.2 175.3L654.1 177.0L653.2 179.0L652.4 180.3L652 182.8L651 184.4L650.3 183.7L649 184.7L647.6 185.2L645.6 185.2L645.3 185.9L643.6 187.1L642.4 185.7L640.5 185.5L638 185.9L635.5 186.4ZM651.2 173.6L650.7 171.9L651.5 170.6L653.2 170.6L653.6 167.0L655.8 168.9L659.6 168.9L660 170.6L657.4 171.2L656.1 172.8L653.2 171.9L652.4 172.8ZM633.8 187.1L635.5 186.5L636.8 187.9L636.3 190.4L634.9 191.3L634.1 189.6L633.3 187.9ZM638 186.5L640.5 185.7L641.7 186.5L640.5 187.4L638.8 188.2L637.7 187.4ZM654.1 152.1L655.8 154.3L656.3 157.6L657.4 160.1L655.4 162.7L656.6 164.7L654.1 166.0L654.1 162.7L654.4 159.3L653.7 155.9L654.1 153.4ZM619.4 200.8L620.2 202.2L618.5 205.9L617.2 204.7L617.7 202.2ZM600.8 209.8L601.6 210.6L599.9 212.6L597.7 211.8L598.2 210.1ZM549.2 226.9L551.2 229.1L552.2 231.6L550.9 233.0L549.5 233.3L548.8 230.8L549 228.3ZM617.7 212.3L620.6 212.3L620.7 214.8L619.4 217.3L620.2 219.9L623.6 220.7L623.6 222.2L621.9 221.0L619.4 220.4L618 219.0L616.8 217.3L617.3 215.6ZM620.2 231.6L622.8 230.3L623.6 229.1L626.1 226.9L627.8 229.9L627.3 232.5L626.1 233.8L624.5 232.8L622.8 231.1ZM625.3 222.4L626.5 224.9L625.3 226.6L624.5 224.4ZM612.3 229.4L616 225.4L615.7 224.4L613.5 227.4ZM620.2 223.6L622.3 224.4L622.4 227.4L621.1 227.4L620.2 225.4ZM617.7 220.9L619.4 221.2L618.9 222.7ZM575 234.0L578.8 234.7L580.8 237.0L583.8 239.7L586.4 241.7L588.9 243.4L590.6 245.9L593.2 248.4L593 253.2L590.8 253.2L588.1 251.0L585.5 248.1L583.5 245.1L581.3 242.6L579.6 240.0L577.1 237.2ZM591.8 254.8L594.5 253.5L597.4 254.3L600.8 254.8L604.1 255.0L607.5 256.5L607.4 258.0L603.3 257.4L598.2 256.5L594 255.8ZM598.2 240.4L600.8 240.5L602.5 238.9L605 238.0L606.7 235.8L609.2 234.1L611.4 231.6L613.5 233.3L615.5 234.7L613.5 236.2L613.1 238.4L613.5 240.0L615.1 241.7L612.9 242.6L612.6 244.7L610.9 245.9L610.9 249.3L610.1 250.1L607.7 249.3L605 248.8L603 249.3L600.3 248.1L599.9 245.9L598.2 243.9L598.2 241.7ZM616.5 242.1L618.2 241.2L621.9 241.9L625.3 240.7L624.5 242.7L621.9 242.6L618.5 242.6L617.2 244.7L619.4 244.9L622.4 244.9L620.2 246.4L619.4 247.6L621.1 249.3L621.9 251.0L620.2 251.3L618.5 248.4L617.7 248.4L617.5 252.7L616 252.7L616 249.3L614.8 248.1L616 245.1ZM635.5 244.7L638 244.1L640.5 244.7L642.2 249.0L645.6 246.3L649 246.8L652.4 247.8L655.8 249.1L658.3 249.8L660.5 251.8L662.5 253.5L663.9 254.8L662.5 255.2L664.2 257.2L666.8 259.9L669 260.7L665.9 260.7L662.9 259.4L660.8 257.2L658.3 256.4L656.6 257.2L655.8 258.9L652.4 258.7L649.8 257.0L647.3 257.4L648.6 255.2L647.3 252.7L643.9 251.1L640.5 250.1L638.8 250.1L638.5 248.1L640.2 247.3L637.1 246.8L635.5 245.8ZM609.2 257.4L611.8 257.4L615.1 257.5L618.5 257.7L621.9 257.4L621.9 258.2L616.8 258.4L611.8 258.5ZM622.8 260.7L625.3 258.5L628.7 257.5L627 259.0L623.6 260.7ZM629.5 240.0L631.2 240.9L630.4 243.4L629.5 244.7L630 242.1ZM630.4 248.4L634.6 248.4L635.1 249.6L631.2 249.3ZM665.1 252.8L668.4 252.7L671.3 250.5L671 251.8L669 253.8L665.9 253.8ZM654.9 261.4L656.6 265.3L658.3 267.5L659.6 269.5L660.8 272.8L661.3 275.4L665.1 277.5L666.8 280.7L669 282.9L671.8 285.4L673 288.0L673.5 290.8L672.7 294.7L671.8 298.1L669.8 300.4L668.4 303.1L667.6 306.1L664.2 307.1L661.5 309.2L658.8 307.7L656.6 308.7L652.4 307.7L650.3 305.6L649.8 303.6L647.8 303.1L648.1 301.9L647 302.6L645.6 302.6L647 299.7L647.1 298.2L645.6 300.1L643.9 301.9L642.6 300.6L641.4 298.9L639.7 297.6L636.3 296.4L632.1 296.6L627 297.7L623.6 298.9L622.8 300.4L616.8 300.4L613.5 302.3L610.1 301.9L608.5 301.1L608.4 299.7L609.6 297.2L608.4 294.4L607.7 291.8L606.7 289.7L605.7 287.1L606.3 284.6L605.8 282.9L606.7 280.1L609.2 278.4L611.8 278.0L614.5 277.5L617.7 276.7L620.6 273.7L620.7 272.0L622.8 272.5L622.9 270.6L624.5 269.5L626.1 267.8L628.3 266.8L630.7 268.3L632.9 268.3L633.4 266.1L635.1 264.3L638 263.8L638.2 262.6L640.5 263.4L643.1 263.8L645.1 263.9L643.9 265.8L643.1 268.3L644.8 270.0L647.3 271.5L649.8 272.8L652 272.8L652.9 270.3L653.4 266.9L653.7 264.4L654.2 262.2L654.9 261.4ZM658.6 311.9L661.7 312.5L664.6 312.0L664.7 314.0L663.9 316.1L662.2 316.7L660.5 316.1L659.5 314.0ZM706 301.3L708.2 302.8L709.6 305.3L711.3 305.1L711.6 306.6L714.1 307.0L715.8 306.8L715 308.5L713.3 309.5L713.3 310.7L711.9 312.4L710.2 313.4L709.6 312.9L709.9 311.2L708.2 309.8L709.4 308.7L709.6 307.0L708.7 304.8L706.5 302.3ZM706 311.5L708.2 312.4L708.5 313.7L706.5 315.7L706.2 317.1L703.6 317.9L703.1 319.9L702.3 320.6L700.6 321.8L698.6 321.8L696 321.1L695.5 319.9L698.1 317.7L700.6 316.6L703.1 314.9L704 313.5L705.2 312.0ZM270.1 206.6L273.4 204.9L275.9 204.5L279.3 205.6L282.7 206.9L285.7 208.2L288.3 209.4L286.1 209.9L282.3 209.9L283.2 208.8L281 207.4L277.6 206.4L275.1 205.7L272.5 206.2ZM287.9 212.3L289.8 209.9L292.5 210.1L295.4 210.3L298.1 212.1L296.2 212.5L293.7 212.8L292.5 213.6L290.6 212.8ZM281.3 212.5L283.5 212.3L284.9 213.1L282.7 213.5ZM300.1 212.5L302.8 212.6L302.5 213.1L300.1 213.1ZM302.1 139.3L297.9 138.3L292.8 136.6L289.4 134.9L281.8 135.2L285.2 133.6L289.4 132.4L291.1 129.9L286.9 128.5L281.8 126.0L278.4 125.7L270.8 125.7L264.9 124.8L261.5 121.5L263.2 119.8L270 119.4L276.7 119.4L281.8 120.8L286.9 121.8L292 123.1L297.1 124.8L299.6 126.8L303.8 129.0L308.9 130.7L309.7 131.5L306.4 133.2L303 133.2L300.4 134.1L304.7 134.9L304.7 136.9ZM215.8 126.5L222.6 128.2L231.1 127.8L236.1 127.3L242.1 126.5L241.2 124.0L236.1 121.0L231.1 120.3L224.3 121.1L219.2 120.1L214.1 121.5L214.1 123.6L218.4 124.7L215.8 125.7ZM201.5 122.5L204.8 123.8L209.9 123.1L212.5 121.5L217.5 120.1L214.1 118.4L209.1 118.1L203.1 118.4L204 120.6ZM261.5 114.7L270 115.1L278.4 115.2L281.8 113.9L286.9 111.4L292 109.7L302.1 107.2L308.9 104.8L295.4 103.6L278.4 103.8L264.9 105.0L258.1 106.7L264.9 108.0L266.6 109.7L264.9 111.9L261.5 113.4ZM253.1 109.7L259.8 111.7L264.9 110.9L261.5 108.5L254.8 107.2ZM258.1 114.7L261.5 116.4L270 116.2L278.4 117.9L278.4 116.2L273.4 114.9L263.2 114.7ZM215.8 115.9L224.3 118.1L234.4 117.3L234.4 115.6L227.7 114.7L219.2 114.9ZM241.2 119.3L246.3 123.1L250.5 121.5L249.7 119.3L244.6 118.9ZM252.2 118.9L253.1 122.0L260.7 121.1L261.5 119.3L256.4 118.6ZM237.8 114.7L241.2 116.7L249.7 116.4L249.7 114.4L244.6 114.2ZM268.3 133.2L273.4 132.7L276.7 135.8L272.5 136.9L266.6 135.8ZM313.5 163.3L314.8 161.8L316.5 158.5L319.9 156.6L319 159.0L320.7 160.1L323.3 160.5L324.6 163.3L323.3 165.0L320.7 164.5L319 163.5L316.5 163.3ZM196.7 158.0L201.5 158.8L204.8 161.5L204.8 162.2L202.3 161.3L198.9 159.6ZM152.4 146.7L155.8 145.3L156.6 146.7L154.1 147.5ZM188.8 152.6L190.8 152.6L192.1 155.6L189.6 154.3ZM92.3 375.4L99.9 375.4L109.9 376.4L133.9 375.9L146 374.6L158 372.6L180 370.1L199.9 367.4L211.9 368.0L228 370.1L238 369.0L240 366.0L250 365.7L263.6 366.7L278.4 366.7L288.6 366.7L286.1 364.5L284.5 362.1L290.5 360.6L298.1 358.4L300.9 355.4L310.1 352.6L316 350.7L311.4 356.1L310.8 364.5L308.6 369.7L317.5 372.2L333.9 374.9L354.9 374.3L360 373.9L370 370.1L380 367.0L394 363.7L410.1 362.0L412.1 360.6L414 362.7L436 361.5L454.1 362.7L467.9 360.0L477.9 362.0L488.1 359.0L498.1 356.1L508 355.4L511.9 357.4L520.1 357.9L526.5 358.8L540 361.0L544.1 359.5L551 356.6L573 355.3L598.1 355.9L620.1 356.6L639 355.4L658.5 357.4L680.5 361.0L699.7 364.3L701.1 367.0L688.8 371.9L691.5 374.6L702.5 374.6L720.4 376.6L735.3 376.6L735.3 403.2L92.3 403.2ZM434.9 179.5L440.2 179.0L439.3 181.7L434.9 180.2ZM427.7 174.4L430.2 174.4L430 177.5L428 177.8ZM428.4 172.1L429.9 171.1L429.7 173.6L428.7 173.4ZM453.6 183.7L458.3 184.2L455.3 184.5ZM468.5 184.5L472.3 183.5L470.5 185.2ZM495.9 126.8L497.6 126.5L498.4 127.5L496.4 127.8ZM100.4 306.6L102.5 306.6L105 307.0L106.7 306.8L105.9 308.5L104.2 309.5L104.2 310.7L102.8 312.4L101.1 313.4L100.4 312.9Z" fill="none" stroke="#000" stroke-width="0.85" stroke-linejoin="round"/>
<path d="M496.7 165.2L500.1 164.7L503.5 165.2L503.5 167.7L500.9 168.6L499.2 169.7L502.6 171.9L505.2 174.4L503.5 177.0L505.2 180.3L501.8 181.5L498.4 180.7L496.7 178.6L497.6 175.6L495 172.8L493.3 170.2L493.3 167.7ZM512.8 165.2L517 165.2L517.9 167.7L515.3 169.7L512.8 168.6ZM589.8 156.6L593.2 155.1L597.4 152.6L599.6 149.7L598.2 149.7L595.7 153.4L592.3 154.9L589.8 155.9ZM539 165.2L542.4 164.7L547.5 165.5L545.8 166.4L541.5 165.7L539 166.9ZM467.9 242.9L471.3 242.9L471.3 245.1L470.5 247.6L467.9 247.6L467.4 245.1ZM463.4 249.3L465.4 253.5L466.3 257.7L465.1 257.2L463.4 252.7ZM471.3 259.5L472.7 262.7L473 266.9L472.2 266.9L471.7 262.7ZM258.1 164.7L263.2 162.7L267.4 161.8L270.8 164.3L270 165.2L266.6 165.2L261.5 164.9ZM264.9 172.8L266.6 172.8L267.8 170.2L270 166.4L267.4 166.4L265.2 169.4ZM270.8 166.0L275.9 166.0L278.4 168.0L275.6 170.7L274.2 170.2L272.5 169.4L273.4 167.7ZM272.9 173.1L276.7 173.4L280.1 171.6L277.6 171.6ZM278.8 170.6L283.5 170.6L284.9 169.4L281.8 169.4ZM202.3 133.2L205.7 131.5L211.6 130.7L214.1 132.4L210.8 134.1L207.4 134.1ZM215.8 140.8L219.2 138.8L224.3 137.8L228.5 137.9L225.1 139.6L220.1 140.8ZM246.3 152.9L248.8 153.4L250.5 157.6L249.7 158.6L247.5 155.9ZM465.4 142.5L468.8 142.0L469.1 140.5L465.4 140.3ZM472.2 140.8L474.7 140.5L473.9 138.1L472.2 138.6ZM295.4 269.5L297.1 270.0L297.4 271.2L295.7 270.6ZM436.6 220.7L438.8 220.7L438.3 222.2L436.8 222.0ZM474.4 235.8L475.7 237.5L475.1 239.2L474.4 237.5Z" fill="none" stroke="#000" stroke-width="0.7" stroke-linejoin="round"/>
<path d="M175.2 126.3L175.2 142.0L178.6 142.5L181.2 144.2L184.5 143.0L187.9 145.0L190.8 148.2L193.8 149.2L193.5 151.4M205.3 161.0L252.7 161.0L253.6 160.5L258.1 162.2L262.4 162.7L264.1 162.2L270.3 164.7L272.5 166.0L274.2 167.2L274.4 171.1L273.2 172.4L274.2 173.3L280.1 171.4L280.1 170.4L284.4 169.7L286.9 167.7L292.8 167.7L294 167.0L295.4 165.2L296.7 163.7L298.7 163.8L299.1 166.4L300.1 167.4M215.7 188.7L219.7 188.4L226 190.8L230.7 190.8L230.7 189.9L233.6 189.9L237 193.6L239.2 194.6L240.4 193.3L242.4 193.6L244.6 196.3L245.8 198.8L249.3 199.8M257.8 219.0L257.8 217.8L258.6 216.5L260.7 216.3L259.2 214.5L259.8 213.5L262.9 213.5L262.9 216.7L263.6 216.5M262.9 213.5L264.4 212.5M264.1 216.8L262.9 218.5L262.5 219.2L261.4 220.2M262.5 219.2L264.1 219.9L265.2 220.7M265.8 221.5L267.1 220.2L269.1 219.0L270.8 218.7L273 218.2M268.8 224.7L270.3 224.9L272.2 225.1M273.5 229.8L273.5 227.4L274 227.3M283 228.9L282 231.3M292.5 210.1L292.3 211.8L292.5 213.5M293.2 223.6L291.1 224.9L290.3 227.9L291.3 229.4L292 231.6L295.4 231.6L296.4 233.1L299.6 233.0L299.1 235.8L299.9 237.7L299.1 238.7L300.4 241.4M300.4 241.4L295.7 240.5L296.7 242.4L295.4 242.6L295.4 243.7L296.4 245.4L295.4 250.5M295.4 250.5L294 249.8L290.5 247.4L288.6 245.1L286.6 243.6L284.7 242.7L282.7 242.2L280.5 241.0M286.6 243.6L286.1 245.9L284 247.8L281.5 249.3L280.1 251.8L278.1 250.6L277.9 249.1M295.4 250.5L290.6 252.1L288.9 255.7L290.3 258.9L291.6 260.2L294.3 259.4L294.3 261.9L296.2 261.9M296.2 261.9L297.6 264.4L297.1 267.8L296.2 269.5L297.1 271.2L296.2 272.8L294.9 274.3M296.2 261.9L297.9 261.9L303.3 259.9L303.3 263.2L307.2 264.6L310.6 266.1L311.8 267.8L311.9 270.6L315.2 270.8L315.7 272.8L316.3 273.7L315.3 276.7M315.3 276.7L313.8 275.9L309.2 276.4L307.9 280.7M307.9 280.7L305 281.7L303.5 280.6L301.6 280.1L300.1 281.7M300.1 281.7L298.4 279.6L297.4 277.0L296.2 272.8M300.1 281.7L298.1 284.6L297.9 288.8L295.7 291.3L294.9 295.5L295.4 299.4L294.5 303.1L293.3 306.5L292.5 310.7L292.3 315.7L292.5 319.9L290.6 325.0L289.8 328.3L291.5 330.5L297.1 331.2L298.1 331.5M297.7 331.9L297.7 335.7M307.9 280.7L310.6 283.4L315.7 285.8L316.3 286.3L314.6 289.2L319 289.3L321.4 286.5M315.3 276.7L316 280.6L319.6 280.9L319.9 283.8L321.9 283.9L321.4 286.5M321.4 286.5L322.9 287.6L322.8 289.2L319.4 291.0L316.3 294.2M316.3 294.2L315.3 298.1L315 300.6M316.3 294.2L319 295.2L321.6 296.7L323.8 298.6L323.4 300.3M312.3 229.1L310.2 231.1L310.2 233.3L311.1 234.7M311.1 234.7L307.5 236.7L305.2 236.5L305.5 239.2L303 241.9L300.4 241.4M311.1 234.7L312.6 235.8L313.1 240.4L315.7 240.9L318.2 240.2M317 233.5L316.5 237.8L318.2 240.2M318.2 240.2L321.6 239.5L324.6 239.5L326.3 236.3M322.4 233.6L321.6 239.5M410.1 184.4L410.9 187.1L411.8 189.2L407.9 190.2L405.3 192.6L402 193.8L399.1 195.1L399.1 197.5M399.1 196.8L391.5 196.8M399.1 197.5L399.1 199.7L393.5 199.7L393.5 203.9L391.8 204.7L391.8 207.6L385 207.6M399.1 197.5L405.7 201.4M405.7 201.4L402.8 201.4L404.5 215.6L404.8 217.3L397.7 217.5L394.3 217.2L393.2 218.5M385.9 216.3L389.3 215.5L391.3 216.8L393.2 218.5M393.2 218.5L394.5 222.5M394.5 222.5L390.6 222.2L385.5 222.5M385.4 220.5L388.4 220.2L390.5 220.7L388.4 221.2L385.4 221.4M390.6 222.2L390.6 223.7L388.4 224.9M394.5 222.5L398.1 222.7L399.8 224.9L400.3 226.2M391.3 228.1L395.2 226.6L396.4 229.1M396.4 229.1L397.9 230.8L399.4 230.6M396.4 229.1L394.3 231.8M400.3 226.2L399.8 230.6L399.4 230.6M399.4 230.6L401.1 236.0M400.3 226.2L404.5 225.9L409.1 227.1M409.1 227.1L408.4 232.5L408.9 234.8M409.1 227.1L409.1 224.9L413.8 224.7M413.8 224.7L414.6 229.1L415.8 233.1M415.2 224.9L416.5 228.3L416.5 233.0M419.9 223.7L418.5 228.3L418.4 232.6M413.8 224.7L415.2 224.9L417.7 222.7L419.9 223.7M404.5 225.9L405 223.6L406.7 221.2L410.4 219.5L413 218.2L414.1 218.2M414.1 218.2L415.5 220.9L417.7 222.7M414.1 218.2L419.7 217.5L420.9 215.1L420.9 211.3M405.7 201.4L415.8 207.9L419.4 211.4L420.9 211.3M420.9 211.3L423.6 210.6L434.1 203.9M434.1 203.9L430.7 202.2L429.9 199.2L430.4 195.8L429.9 192.6M429.9 192.6L429 189.6L426.5 186.5L427.8 184.5L428.4 181.3M429.9 192.6L431.2 190.1L433.3 188.7L433.4 187.6M434.1 203.9L437.8 205.4L439.2 204.7M439.2 204.7L454.4 210.6M454.4 210.6L454.4 209.8L456.1 209.8L456.1 206.4M456.1 206.4L456.1 194.3L456.1 190.2M456.1 206.4L476.2 206.4M439.2 204.7L440.9 209.3L440 215.0L436.8 220.4M419.9 223.7L420.7 220.7L425.3 221.4L429 221.9L432.4 220.9L436.8 220.4M436.8 220.4L437.8 222.4L438.5 224.1L440 226.6L437.5 227.4L439.5 230.8M437.8 222.4L436.1 226.6L433.8 231.6L431.1 231.8L428.4 235.3M439.5 230.8L445.3 229.8L449.3 227.1L452.5 225.1M452.5 225.1L451 222.0L451.9 219.5L454.4 217.0L454.4 210.6M439.5 230.8L438.3 235.0L440.9 239.7M440.9 239.7L436.3 239.7L432.9 239.7L430.4 239.5M432.9 239.7L432.9 241.7L430.4 241.7M436.3 239.7L438.3 241.2L438.2 245.9L435.8 247.4L433.8 249.6L432.6 250.0M440.9 239.7L441.7 237.5L445.3 237.5M445.3 237.5L444.3 240.0L443.9 244.2L441.2 247.1L440.7 250.1L438.3 251.6L435.8 251.1L434.4 253.2M434.1 251.8L435.8 251.1M445.3 237.5L446.8 235.0L451.9 236.5L456.1 235.0L460.2 234.8M452.5 225.1L453.7 228.6L456.1 230.8L460.2 234.8M460.2 234.8L463.7 235.8L465.9 237.5M465.9 237.5L466.3 239.7L464.6 241.7L463.9 245.6M475.6 219.3L474.7 222.0L471.7 225.2L471.3 227.4L469.6 229.9L472.2 232.1L474.5 235.7M478.9 213.1L476.4 214.8L475.6 219.3M475.6 219.3L478.1 218.8L481.5 219.2L485.4 222.4M485.4 222.4L484.5 224.9L486.6 224.6M486.6 224.6L486.2 226.6L488.2 228.3L494.7 229.9L489.9 235.0L486.6 235.8L484.7 236.8M474.5 235.7L478.1 237.3L480.6 237.7L484.7 236.8M484.7 236.8L483.2 238.7L483.2 244.7L484 246.3M474.5 235.7L471.3 236.3L467.9 237.5L465.9 237.5M471.3 236.3L473 240.4L471.3 243.4M471.3 245.1L477.6 248.6L480.1 251.3M463.9 245.6L465.4 245.1L471.3 245.1M463.9 245.6L462.9 247.9L463.4 250.8M465.4 245.1L465.9 247.4L465.4 249.3L464.2 250.8L463.4 250.8M462.9 247.9L465.9 247.4M463.4 250.8L463.9 254.3L465.9 257.4M465.9 257.4L469.5 259.2L471.3 259.4L472.3 262.7L477.2 263.1L482.2 261.1M465.9 257.4L462.7 257.7L461.9 258.9L462.2 263.4L464.2 263.9L464.2 265.9L461.9 264.3L459.8 262.9L456.6 262.2L455.1 262.6L454.4 261.7L454.4 265.3M434.4 253.2L436.5 253.3L441.9 253.3L442.6 256.0L446.8 256.0L446.8 256.9L450.7 255.7L450.7 259.4L451.4 262.2L454.4 261.7M454.4 265.3L451 265.3L451 270.6L453.4 273.0M433.8 272.3L437.5 272.7L444.9 272.7L449.3 273.7L453.4 273.0L456.4 273.3M449.3 274.2L449.3 280.4L447.6 280.4L447.6 285.1L447.6 291.2L443.4 291.7L441.7 291.5M447.6 285.1L449 288.5L452.2 286.3L456.9 286.5L459.3 283.3L463.5 280.7M456.4 273.3L457.8 276.4L460.7 277.9L462 279.7L463.5 280.7L466.8 281.1M456.4 273.3L459.5 273.5L462.5 271.2L465.2 269.6M465.2 269.6L469.5 271.5L469.5 274.5L469.1 277.5L466.8 281.1M466.8 281.1L467.9 284.6L467.8 287.0L469.5 288.5M467.8 287.0L466.3 287.6L466.6 289.2L467.9 288.5M459.5 293.2L462 291.5L463.5 293.0L461.7 294.9L459.5 293.2M465.2 269.6L464.9 268.3L470 266.9L469.5 259.2M470 266.9L472.2 267.6L474.4 270.3L473.4 272.0L471.8 270.3L472.3 267.8L472.3 262.7M398.9 172.9L399.9 172.8L402.6 172.9L403.1 173.8L402.1 175.8L402 176.6L401.3 178.6L402 179.5L401.3 180.8M410.8 170.4L415 171.6L419.2 172.1M426.5 169.7L425.6 169.1L425.1 167.5L425.6 166.2M425.6 166.2L424.1 165.7L425.3 164.3L426.7 163.3M426.7 163.3L427.7 161.0L424.6 160.1M424.6 160.1L423.6 160.1L421.9 159.3L420.9 159.3L418.9 158.0L418 157.4M419.6 156.9L421.1 157.1L422.3 156.8L423.6 157.3L424 158.0M424 158.0L424.3 159.1L424.6 160.1M424 158.0L424 156.3L425.3 155.9L425.6 154.9L426 153.7M428.4 151.1L430.6 151.2M438 152.7L437.8 154.6L438.7 155.9L439.2 157.6M439.2 157.6L435.8 158.5L434.4 159.0L435.5 160.5L437.1 161.5M437.1 161.5L435.8 162.2L435.8 163.5L434.1 163.3L431.6 163.5L430 163.5M430 163.5L428.2 163.2L426.7 163.3M425.6 166.2L427.3 166.0L429 166.2L429.5 165.4L431.4 165.0M430 163.5L430 164.3L431.4 165.0M431.4 165.0L434.4 164.3L437 165.2M437 165.2L436.8 166.7M437 165.2L441 164.7M441 164.7L442.7 162.7M437.1 161.5L439.2 161.0L442.4 161.7L442.7 162.7M439.2 157.6L441.7 158.8L443.7 158.8L445.6 160.1M442.4 161.7L445.6 160.1M445.6 160.1L447.6 160.6L451.9 160.8M442.7 162.7L445.6 163.0L448.5 161.8L451.2 162.0M451.9 160.8L454.4 158.0L453.7 156.8L453.6 155.1L454.2 152.7L453.6 152.6M447 151.9L452.4 151.9L453.6 152.6M452.4 151.9L452.2 150.9L449.7 150.4M449.3 149.0L454.4 148.5L458.8 149.7M453.6 152.6L456.9 152.2L458.8 149.7M454.9 146.0L457.8 146.2L460.2 146.7M461.2 143.3L460.3 145.0L460.2 146.7M460.2 146.7L461.2 148.4L461.5 149.0L458.8 149.7M461.5 149.0L466.1 149.9L466.3 151.7L468.8 153.7L467.1 155.8M453.7 156.8L460.3 156.8L465.4 157.1L467.1 155.8M467.1 155.8L471.3 155.4L473.9 158.6L478.1 159.5L481.5 160.0L481.1 162.8L478.4 164.2M451.2 162.0L452.5 162.7L455.9 163.2L458.8 162.2L461.5 166.9L464.1 167.2M458.8 162.2L462.9 162.7L464.6 165.4L461.5 166.9M452.5 162.7L449.3 165.7L448.1 165.9M448.1 165.9L445.8 166.2L442.6 166.0L441.7 165.2L441 164.7M448.1 165.9L450 167.4L451.9 168.6L452.2 169.1M452.2 169.1L456.1 169.9L459.5 169.2L462.2 169.9M452.2 169.1L451.7 171.4L451.7 172.3L452.7 173.9M452.7 173.9L455.3 173.6L458.3 173.3L461.2 172.8M458.3 173.3L457.8 174.8M452.7 173.9L449.3 174.6L447.6 176.6M446.6 172.9L448.5 172.4L448.7 174.3L449.3 174.6M436.8 166.9L439.7 166.9L441.7 165.2M440.5 167.4L442.6 167.4L445.9 167.9L446.6 168.9L446.3 170.2L445.1 171.7M440.5 167.4L441.2 169.1L443.4 170.9L445.1 171.7M445.9 167.9L445.9 166.2M446.3 170.2L448.5 172.4L451.7 172.3M432.8 144.3L434.4 142.5L434.6 140.0L434.1 137.1L437.5 134.9L438.3 132.2L441.7 129.4L444.6 128.2L448.5 127.2M448.5 127.2L453.6 129.0L453.9 131.5L454.7 132.7M448.5 127.2L451 127.3L456.1 127.8L457.8 125.8L461.2 125.7L462.9 127.0L466.1 126.2M462.9 127.0L462 128.7L464.6 129.5L463.2 131.0L464.6 132.9L464.1 134.4L465.4 135.4L467.1 137.6L460.8 141.6M401.4 150.9L400.3 151.7L401.4 152.2L403.1 152.4M474.7 183.0L475.9 181.5L478.1 181.5L481.5 181.5L485.5 181.0L489.6 180.8L488.6 177.1L489.6 176.6M484 173.6L487.4 174.3L487.7 176.0L489.6 176.6M481.5 170.2L485.7 170.7L489.1 171.6L492.5 173.1M487.4 174.3L489.9 173.9L492.5 173.1M489.9 173.9L490.8 175.1L492.5 177.0L492 178.0M492.5 173.1L494.8 174.1L496 173.1M489.6 176.6L492 178.0L495 176.8L496.5 178.8M474.5 185.2L475.7 185.9L474.4 187.4L473.2 187.7M474.4 187.4L476.1 189.1L479.4 187.2M479.4 187.2L483.2 185.5L483.7 182.0L485.5 181.0M479.4 187.2L480.1 189.2L476.4 190.4L478.1 192.1L477.2 192.9L474.7 194.3L473 193.9M474 188.4L473.9 190.4L473 193.8M471.7 190.8L472.9 193.8M480.1 189.2L482.2 189.7L484.9 191.1L489.4 194.3L492.5 194.5L494.5 195.5L495.7 195.5M492.5 194.5L493.7 192.9L495 192.9M495.9 192.9L494.5 191.3L494.7 189.1L491.6 187.9L490.8 186.2L491.6 183.4L489.6 180.8M486.2 215.8L486.9 214.1L489.1 214.1L493.3 214.8L495.9 212.8L501.8 211.4L506.9 209.8L507.9 206.4L507.2 205.2L502.8 204.9L501.1 202.7M501.8 211.4L503.6 215.5M507.2 205.2L508.6 203.0L509.1 201.5M499.8 201.9L500.6 202.0M505 180.7L507.7 179.5L510.6 179.1L513.6 180.2L517.4 181.8L517 183.5L516.3 186.5L516.7 190.4L518.4 191.3L516.8 193.3M516.8 193.3L518.4 195.3L520.1 196.0L520.9 198.5L518.4 199.3L518 201.0M516.8 193.3L522.1 193.8L526 193.3L526.1 191.4L528.9 190.1L531.4 189.6L531.1 186.7L533.9 186.2L534.8 182.8L539.9 181.2L540.5 180.8M517.4 181.8L519.5 184.0L522.9 182.3L526.3 180.5L528.9 181.2L531.4 180.8L533.1 179.1L534.8 179.7L534.8 181.5L539.9 180.8M526.3 180.5L522.9 177.8L519.5 176.1L516.2 174.1L512.8 171.6L510.2 173.9L508.6 173.9L508.6 167.7L513 166.7L517 168.9L522.1 169.9L525.5 172.3L528.9 174.8L532.2 172.8L533.9 172.3M508.6 173.9L505.2 172.3L502.6 173.1M533.9 172.3L538.2 171.1L541.5 171.4L547.5 171.4L549.7 172.4M533.9 172.3L532.2 173.9L534.8 175.6L537.7 174.8L533.9 176.3L531.1 176.5L533.1 176.8L538.7 177.0M538.7 177.0L540.7 178.6L540.5 180.8M531.1 176.5L528.9 177.3L527.8 179.5L528.9 181.2M538.7 177.0L542.4 175.4L546.5 173.8L549.7 172.4M549.7 172.4L549.5 168.0L553.4 167.4L553.1 166.0L554.2 164.0L558.5 164.2L558.8 162.0L561.5 160.8M561.5 160.8L557.6 159.3L555.1 157.6L549.2 158.0L544.1 153.6L538.2 152.6L533.9 150.4L530.5 150.2L524.1 151.9L517.9 152.7L517 155.4L518.2 157.1L514.6 158.3L510.2 157.4L508.2 158.3L506 157.6L500.9 156.8L499.8 156.4L496.2 158.3L493 162.0L495.9 165.0L497 165.4M561.5 160.8L562.7 160.6L565.6 159.5L570 158.0L573.9 159.3L579.6 158.5L580.1 155.9L582.8 156.3L586.7 157.1L586.6 158.3L589.8 159.0L594.8 158.8L601.3 160.6L606 159.3L611.3 159.6M611.3 159.6L615.5 158.8L618.2 154.9L618.9 153.7L623.6 153.9L627 155.1L629.5 159.0L629.5 159.6L634.9 161.2L635.5 163.2L641.9 162.0L639.2 167.5L635.5 167.7L636 170.4L634.8 172.1M562.4 160.8L562.4 161.7L566.9 164.3L567.8 167.4L575.4 168.9L576.9 171.6L583 171.7L591.5 173.4L599.9 171.7L603.3 169.7L602.8 167.7L606.7 167.9L610.1 166.5L614.3 164.9L616.5 164.2L613.1 163.2L609.7 162.8L611.3 159.6M624.1 176.1L628.3 173.3L630.7 173.6L633.3 172.1L634.8 172.1M627.2 180.0L631.1 178.5M596.5 207.2L594.2 205.9L592 204.2L588.1 205.6L586.6 205.7L585 207.6L586 207.7M585 207.6L583.3 207.2L581.6 206.2L581.1 203.0L578.9 202.5L580.8 197.1L578.6 196.0M578.6 196.0L576.6 197.5L574.5 199.7L573.9 201.9L571.7 203.0L571.8 206.4L570.5 207.6L570 208.6M578.6 196.0L576.2 193.9L573.2 194.5L569.5 196.6L569 198.3L564.4 198.5L564 196.3L562.7 196.5L559.3 196.5L555.9 195.0L552.5 192.6L550.9 192.6L549.2 195.0L554.2 197.3L557.6 198.7L562.9 199.0L562.7 196.5M550.9 192.6L547.5 190.9L547.1 188.7L548.3 185.4L545.8 183.7L542.4 183.2L540.5 180.8M529.2 203.7L533.9 202.0L532.2 198.8L532.6 196.3L537.1 193.1L540 190.9L540 188.2L539 185.0L544.1 183.7L545.8 183.7M564.4 206.7L564 202.5L562.9 199.0L565.7 199.7L570 201.2L568.3 203.0L568.6 204.7L570.5 207.6M580.6 226.6L582.2 223.7L581.5 220.7L580 217.8L580.6 215.6L578.8 212.3L580.5 210.3L583.3 209.3L583.3 207.2M583.3 209.3L583.8 210.6L585.2 210.6L585 214.0L586.6 212.8L589.8 212.6L591.1 214.1L591.1 216.0L592.5 217.0L592.3 219.2M592.3 219.2L588.1 219.3L587.1 220.7L587.9 223.7M586.6 205.7L588.1 208.2L590.8 209.1L589.8 210.6L591.8 212.1L594.2 215.0L595.7 217.7L595.7 218.7M592.3 219.2L595.7 218.7L595.7 222.7L593.2 223.7L593 224.9L590.6 225.9M583.2 232.6L584.7 233.6L586.6 233.0M599.2 240.0L599.9 241.7L603 241.7L605 240.9L608 240.0L609.4 236.3L612.8 236.3M652.4 247.8L652.4 258.7M92.3 134.2L107.5 134.2" fill="none" stroke="#000" stroke-width="0.65" stroke-linejoin="round"/>
</g>
<rect x="100.5" y="97.5" width="620" height="299" fill="none" stroke="#000" stroke-width="1"/>
<text x="409.9" y="90" text-anchor="middle" font-size="20" textLength="575" lengthAdjust="spacingAndGlyphs">Nequick-Galileo VTEC : 11 Hour of 199 DOY [2019/07/18]</text>
<rect x="100.5" y="468.5" width="620" height="30.5" fill="url(#jet)" stroke="#000" stroke-width="1"/>
<line x1="172.6" y1="499" x2="172.6" y2="493.4" stroke="#000" stroke-width="0.8"/>
<text x="171.9" y="518.6" text-anchor="middle" font-size="16.67" textLength="35.5" lengthAdjust="spacingAndGlyphs">0.25</text>
<line x1="246.6" y1="499" x2="246.6" y2="493.4" stroke="#000" stroke-width="0.8"/>
<text x="245.9" y="518.6" text-anchor="middle" font-size="16.67" textLength="35.5" lengthAdjust="spacingAndGlyphs">0.50</text>
<line x1="320.6" y1="499" x2="320.6" y2="493.4" stroke="#000" stroke-width="0.8"/>
<text x="319.9" y="518.6" text-anchor="middle" font-size="16.67" textLength="35.5" lengthAdjust="spacingAndGlyphs">0.75</text>
<line x1="394.6" y1="499" x2="394.6" y2="493.4" stroke="#000" stroke-width="0.8"/>
<text x="393.9" y="518.6" text-anchor="middle" font-size="16.67" textLength="35.5" lengthAdjust="spacingAndGlyphs">1.00</text>
<line x1="468.6" y1="499" x2="468.6" y2="493.4" stroke="#000" stroke-width="0.8"/>
<text x="467.9" y="518.6" text-anchor="middle" font-size="16.67" textLength="35.5" lengthAdjust="spacingAndGlyphs">1.25</text>
<line x1="542.6" y1="499" x2="542.6" y2="493.4" stroke="#000" stroke-width="0.8"/>
<text x="541.9" y="518.6" text-anchor="middle" font-size="16.67" textLength="35.5" lengthAdjust="spacingAndGlyphs">1.50</text>
<line x1="616.6" y1="499" x2="616.6" y2="493.4" stroke="#000" stroke-width="0.8"/>
<text x="615.9" y="518.6" text-anchor="middle" font-size="16.67" textLength="35.5" lengthAdjust="spacingAndGlyphs">1.75</text>
<line x1="690.6" y1="499" x2="690.6" y2="493.4" stroke="#000" stroke-width="0.8"/>
<text x="689.9" y="518.6" text-anchor="middle" font-size="16.67" textLength="35.5" lengthAdjust="spacingAndGlyphs">2.00</text>
<text x="409" y="543.5" text-anchor="middle" font-size="16.67">VTEC</text>
<text x="720" y="540.5" text-anchor="end" font-size="16.67">1e17</text>
</svg>
</body></html>
